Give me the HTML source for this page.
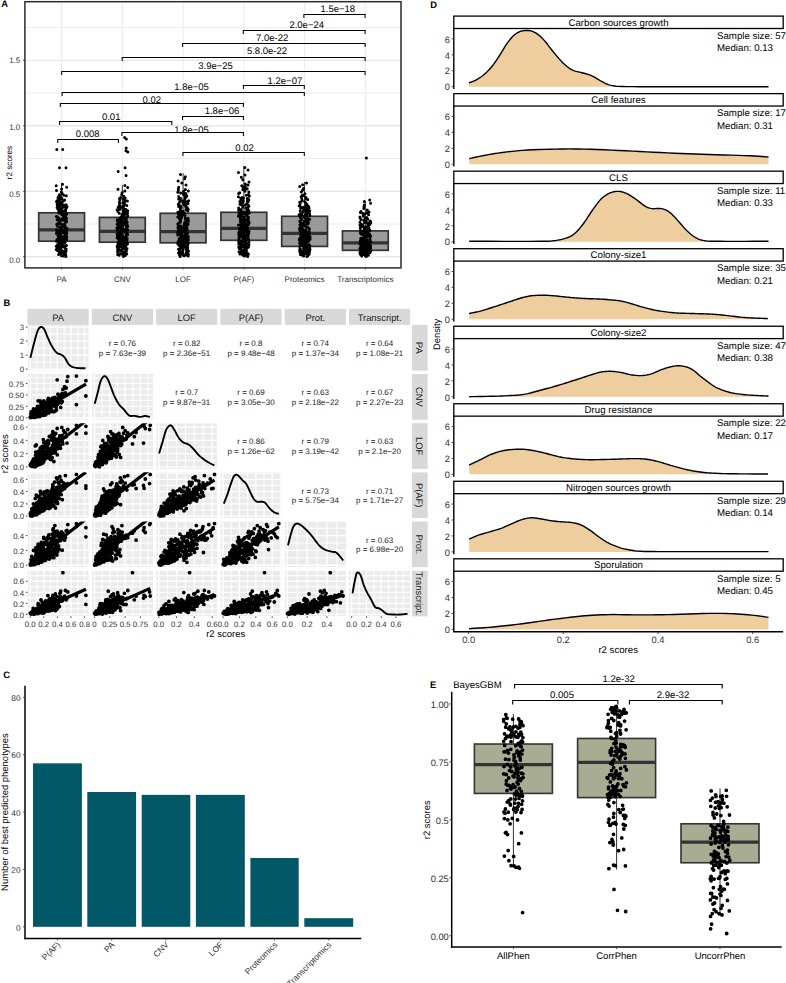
<!DOCTYPE html><html><head><meta charset="utf-8"><style>html,body{margin:0;padding:0;background:#fff;width:786px;height:983px;overflow:hidden;font-family:"Liberation Sans",sans-serif}svg{display:block}</style></head><body><svg width="786" height="983" viewBox="0 0 786 983" text-rendering="geometricPrecision" font-family='"Liberation Sans", sans-serif'><rect x="0" y="0" width="786" height="983" fill="#fff"/>
<g>
<line x1="24.9" y1="256.7" x2="401" y2="256.7" stroke="#e8e8e8" stroke-width="1.4"/>
<line x1="24.9" y1="223.97" x2="401" y2="223.97" stroke="#e8e8e8" stroke-width="0.8"/>
<line x1="24.9" y1="191.25" x2="401" y2="191.25" stroke="#e8e8e8" stroke-width="1.4"/>
<line x1="24.9" y1="158.52" x2="401" y2="158.52" stroke="#e8e8e8" stroke-width="0.8"/>
<line x1="24.9" y1="125.8" x2="401" y2="125.8" stroke="#e8e8e8" stroke-width="1.4"/>
<line x1="24.9" y1="93.07" x2="401" y2="93.07" stroke="#e8e8e8" stroke-width="0.8"/>
<line x1="24.9" y1="60.35" x2="401" y2="60.35" stroke="#e8e8e8" stroke-width="1.4"/>
<line x1="24.9" y1="27.62" x2="401" y2="27.62" stroke="#e8e8e8" stroke-width="0.8"/>
<line x1="61.6" y1="1.7" x2="61.6" y2="267.9" stroke="#ebebeb" stroke-width="1"/>
<line x1="122.35" y1="1.7" x2="122.35" y2="267.9" stroke="#ebebeb" stroke-width="1"/>
<line x1="183.1" y1="1.7" x2="183.1" y2="267.9" stroke="#ebebeb" stroke-width="1"/>
<line x1="243.85" y1="1.7" x2="243.85" y2="267.9" stroke="#ebebeb" stroke-width="1"/>
<line x1="304.6" y1="1.7" x2="304.6" y2="267.9" stroke="#ebebeb" stroke-width="1"/>
<line x1="365.35" y1="1.7" x2="365.35" y2="267.9" stroke="#ebebeb" stroke-width="1"/>
<line x1="61.6" y1="183" x2="61.6" y2="212.8" stroke="#333" stroke-width="1"/>
<line x1="61.6" y1="241.2" x2="61.6" y2="257" stroke="#333" stroke-width="1"/>
<rect x="38.7" y="212.8" width="45.8" height="28.4" fill="#9a9a9a" stroke="#333333" stroke-width="1.7"/>
<line x1="38.7" y1="229.8" x2="84.5" y2="229.8" stroke="#333" stroke-width="3.3"/>
<line x1="122.35" y1="185" x2="122.35" y2="217.4" stroke="#333" stroke-width="1"/>
<line x1="122.35" y1="242.2" x2="122.35" y2="257" stroke="#333" stroke-width="1"/>
<rect x="99.45" y="217.4" width="45.8" height="24.8" fill="#9a9a9a" stroke="#333333" stroke-width="1.7"/>
<line x1="99.45" y1="231.3" x2="145.25" y2="231.3" stroke="#333" stroke-width="3.3"/>
<line x1="183.1" y1="173.1" x2="183.1" y2="213.3" stroke="#333" stroke-width="1"/>
<line x1="183.1" y1="242.8" x2="183.1" y2="257" stroke="#333" stroke-width="1"/>
<rect x="160.2" y="213.3" width="45.8" height="29.5" fill="#9a9a9a" stroke="#333333" stroke-width="1.7"/>
<line x1="160.2" y1="231.6" x2="206" y2="231.6" stroke="#333" stroke-width="3.3"/>
<line x1="243.85" y1="166.2" x2="243.85" y2="212.3" stroke="#333" stroke-width="1"/>
<line x1="243.85" y1="240.3" x2="243.85" y2="257" stroke="#333" stroke-width="1"/>
<rect x="220.95" y="212.3" width="45.8" height="28" fill="#9a9a9a" stroke="#333333" stroke-width="1.7"/>
<line x1="220.95" y1="228.3" x2="266.75" y2="228.3" stroke="#333" stroke-width="3.3"/>
<line x1="304.6" y1="182" x2="304.6" y2="216.3" stroke="#333" stroke-width="1"/>
<line x1="304.6" y1="246.4" x2="304.6" y2="257" stroke="#333" stroke-width="1"/>
<rect x="281.7" y="216.3" width="45.8" height="30.1" fill="#9a9a9a" stroke="#333333" stroke-width="1.7"/>
<line x1="281.7" y1="233.4" x2="327.5" y2="233.4" stroke="#333" stroke-width="3.3"/>
<line x1="365.35" y1="201" x2="365.35" y2="230.9" stroke="#333" stroke-width="1"/>
<line x1="365.35" y1="250.3" x2="365.35" y2="257" stroke="#333" stroke-width="1"/>
<rect x="342.45" y="230.9" width="45.8" height="19.4" fill="#9a9a9a" stroke="#333333" stroke-width="1.7"/>
<line x1="342.45" y1="242.8" x2="388.25" y2="242.8" stroke="#333" stroke-width="3.3"/>
<path d="M61.6 230h0M61.5 208.8h0M61.1 231.8h0M60.6 239.8h0M57.9 235.4h0M59.3 234.6h0M59 222.2h0M58.8 212.9h0M64.7 239.2h0M57.4 250.6h0M58.4 241.4h0M61.9 218.8h0M59.5 207.9h0M58.7 242.1h0M60.2 234.8h0M61.6 214.6h0M63.5 240.2h0M66.8 233.2h0M65.5 254h0M60.8 248.3h0M61.1 253.3h0M60.7 220.5h0M58.7 244.4h0M66.6 213.4h0M56.9 231.4h0M58.4 223.1h0M63.4 256.1h0M62.6 226.8h0M59.2 235.8h0M66.4 221.9h0M60.6 251.6h0M62.7 245.1h0M57.1 230.8h0M65.9 229.3h0M57.2 204.9h0M60.4 234.4h0M65.8 219.1h0M66.5 230.4h0M66 234.2h0M65.2 227.9h0M58.7 218h0M56.5 233.4h0M61.1 248.6h0M56.8 224.2h0M66.7 187.3h0M56.2 249.6h0M59.7 205.5h0M58.3 206.6h0M56.3 241.2h0M61.6 188.9h0M56.9 224.8h0M66 235h0M63.7 211.2h0M60.2 204.4h0M65.4 221.4h0M64.9 207.1h0M59.7 223.7h0M65.4 209.8h0M66.3 195.8h0M62.9 237h0M60 205.7h0M66 230.2h0M66.5 221.1h0M59.9 250.1h0M57 239.6h0M65.6 210.9h0M63.4 200.9h0M58.7 198.9h0M62.3 250.8h0M59.5 247.6h0M66.2 208.5h0M59.9 252.1h0M58.3 236.8h0M56.6 229.8h0M59.9 199.4h0M67 206.8h0M58.5 243.9h0M61.1 233.8h0M66.8 236.6h0M56.2 185.8h0M59.3 238.4h0M65.1 226.5h0M57.2 203.6h0M66.3 231h0M65.3 233.6h0M57.7 244.6h0M62.6 225.1h0M62.2 240.4h0M63.7 195.3h0M59.5 194.8h0M60.3 227.6h0M58.7 209.6h0M59.3 239h0M58 197.8h0M66 235.2h0M65.9 220h0M60.1 238.2h0M63.7 225.9h0M61.5 247.1h0M59.2 249.1h0M59.9 229.6h0M66.7 237.4h0M59.9 203.8h0M62.5 184.2h0M66.5 245.4h0M59.4 246.6h0M65 216h0M57.4 200.4h0M64.2 215.4h0M65 236.4h0M65.3 213.7h0M66.8 214h0M63.9 241.6h0M66.8 228.8h0M59.2 219.4h0M61.8 242.4h0M58.5 218.5h0M57 240.8h0M60.9 202.5h0M64 217.7h0M64.7 214.3h0M56.3 216.6h0M66.5 218.3h0M58.8 254.3h0M59.3 253.8h0M65.3 210.1h0M65.9 256.5h0M64.2 214.8h0M59.8 248.8h0M61.2 203h0M65.3 241.9h0M60 222.5h0M65 225.4h0M64.7 253.5h0M61.3 192.1h0M66 167.7h0M60.3 223.4h0M64.3 236h0M63.1 237.2h0M59.7 243.4h0M61.9 203.3h0M62.8 244.9h0M62 224.5h0M57.3 247.8h0M67 228.5h0M66.7 239.4h0M56.5 190.5h0M66.5 232.4h0M61.9 198.4h0M57.5 226.2h0M65.1 240h0M60.9 234h0M63.9 246.1h0M65.2 236.2h0M62 225.6h0M56.6 233h0M65.1 248.1h0M63.7 232.8h0M66.1 204.7h0M59.1 243.6h0M64.7 242.9h0M65.7 210.4h0M60 197.3h0M60.6 244.1h0M59.8 227.3h0M56.2 246.3h0M58.6 254.5h0M59.7 202h0M57.3 216.8h0M64.5 238h0M60.8 229h0M62.4 207.7h0M59.2 222.8h0M60.1 231.6h0M64.4 247.3h0M61.3 252.6h0M62.7 149.4h0M60.7 235.6h0M62.2 204.1h0M66 232h0M59 232.6h0M61.8 246.8h0M63.7 212h0M57.1 219.7h0M66.7 237.6h0M61.6 211.8h0M58.8 196.3h0M64.5 215.1h0M65.1 217.1h0M63 238.6h0M66.2 249.3h0M57.1 207.4h0M61.9 209h0M64.3 231.2h0M66.2 220.8h0M63.2 215.7h0M62.7 206h0M60.4 196.8h0M62.4 245.8h0M62.2 193.6h0M66.1 251.3h0M65.2 212.3h0M64.2 205.2h0M66.3 208.2h0M56.8 149.4h0M64.6 199.9h0M61.2 243.1h0M64.4 252.8h0M59.4 210.7h0M61.2 238.8h0M65.2 227.1h0M56.5 201.4h0M59.3 252.3h0M61.5 255.7h0M65.5 216.3h0M59.1 221.7h0M65.2 217.4h0M58.8 232.2h0M59.4 241h0M62.2 254.8h0M63.3 220.2h0M65.8 249.8h0M65.8 255.2h0M58.9 211.5h0M64.3 212.6h0M63.1 230.6h0M60.3 250.3h0M64.6 242.6h0M66 251.1h0M61.4 237.8h0M66.2 228.2h0M57.5 245.6h0M57.9 209.3h0M64.5 223.9h0M59.5 167.7h0M62.5 253.1h0M61.6 213.1h0M57.7 240.6h0M64.4 206.3h0M64.3 251.8h0" stroke="#000" stroke-width="3" stroke-linecap="round" fill="none"/>
<path d="M118.4 223.3h0M119.7 218.5h0M125.7 232.3h0M126.9 242.3h0M126.4 218h0M122.4 249.1h0M120.9 238.9h0M121.7 206.7h0M118.8 245.1h0M122.3 234.2h0M119.4 208.3h0M118.6 228.3h0M121 236.8h0M117.6 245.3h0M122 214.5h0M124.5 237.2h0M124 245.6h0M127.6 243.5h0M126.6 249.8h0M123.8 252.4h0M126.7 254.1h0M121.7 242.5h0M125.6 251.9h0M120 207.7h0M122.6 215.4h0M127.6 234.8h0M123.4 256.5h0M122.4 248.2h0M125.5 232.5h0M120.3 223.5h0M126 251.2h0M117.1 237.8h0M119.5 249.6h0M118.8 241.9h0M119.7 203.3h0M127.3 233.3h0M117.1 209.8h0M120.1 208.6h0M123.2 243.2h0M124.6 230.5h0M125.4 230.9h0M121.1 233.1h0M119.3 247h0M126.2 235h0M118.2 171.6h0M117.6 251.7h0M119.4 205.1h0M122.3 225.9h0M127.2 244.2h0M124.9 185.6h0M123.1 212.6h0M122.6 248.9h0M124.5 221.9h0M123.7 214.2h0M120.5 241.3h0M117.9 211.4h0M119.1 240h0M125.5 217.8h0M123.8 196.3h0M125.6 251h0M117.3 219.7h0M126.8 235.3h0M121.1 225.4h0M127 248.4h0M123.4 241h0M122.9 239.5h0M125.8 209.2h0M123.7 206.2h0M124.3 247.2h0M118.6 247.7h0M123.5 210.4h0M120.8 253.8h0M117.7 238h0M118.3 233.8h0M122.1 192.7h0M119.7 226.9h0M125.3 230.2h0M118.2 233.5h0M117 230h0M127.8 152h0M120.3 240.8h0M122.5 235.9h0M119.2 213.2h0M119.1 225.2h0M121.3 229.3h0M125.5 252.6h0M117.3 220.7h0M126.1 225.7h0M127.7 187.4h0M123 210.1h0M120.8 240.6h0M119.4 202.1h0M118.9 235.5h0M120.4 227.1h0M126.2 222.8h0M116.9 228.1h0M125.5 253.1h0M124.2 224.2h0M117.1 246.3h0M117.6 254.5h0M124.9 232.1h0M124.3 231.2h0M120.3 208h0M126.3 138.9h0M119.2 243.9h0M121.5 246.5h0M118.1 228.8h0M124 212.3h0M117.8 226.4h0M118.8 231.4h0M125.3 200.4h0M122.4 221.4h0M124.1 244.9h0M124.9 220.2h0M123.5 218.7h0M119 238.7h0M124.5 217.3h0M118.1 244.6h0M119.8 199.8h0M121.8 232.7h0M118.1 239.1h0M118 234.6h0M124 230.7h0M125 253.6h0M120.9 253.4h0M121.1 221.1h0M119.1 255.2h0M122.6 216.7h0M123.2 256.1h0M127.1 213.6h0M117.3 236.5h0M126.8 205.6h0M127.7 229.8h0M120.7 250.5h0M124.8 191h0M125.9 219.2h0M124 229.5h0M120 227.6h0M123.7 223.1h0M126.5 232.9h0M118 189.2h0M122.1 235.7h0M117.1 224h0M126.1 236.3h0M125.4 242.1h0M117.4 247.5h0M125.1 167.7h0M124.5 212h0M118.2 207h0M122.6 226.2h0M124.4 239.3h0M120.5 219.5h0M122.4 238.3h0M127.6 212.9h0M123.8 241.7h0M122.4 235.1h0M117.6 250.1h0M118.2 236.6h0M126.2 148.1h0M125 247.9h0M126 249.4h0M123.2 216.3h0M123.2 199.2h0M122.7 254.3h0M124.9 219.9h0M120.5 236.1h0M122.3 250.8h0M122 214.8h0M124.1 217.5h0M119.2 227.4h0M117.1 234h0M117.8 225h0M118.8 243h0M126.3 228.6h0M124.7 248.6h0M125.1 243.7h0M121.7 194.5h0M118 242.8h0M122 218.3h0M126.3 232h0M122.5 227.8h0M123.8 241.5h0M121 217h0M118.5 220.9h0M123.7 208.9h0M122.2 207.3h0M120.7 197.5h0M119.7 209.5h0M124.5 203.9h0M120.3 239.6h0M123.2 252.9h0M119.7 204.5h0M125.1 198h0M121 237h0M122.1 231.6h0M127.1 222.1h0M124.8 201.5h0M124.9 213.9h0M120.6 237.6h0M126.1 175.5h0M121.1 244.4h0M127.7 210.8h0M126.7 211.7h0M124.1 216h0M126 150.7h0M122.8 202.7h0M124.9 240.2h0M118.2 252.2h0M127.7 215.7h0M125.7 246.8h0M118.4 229h0M119.5 198.6h0M123.2 254.8h0M125.2 255.6h0M118.5 223.8h0M127.4 201h0M120.7 222.6h0M127.8 226.6h0M125.1 238.1h0M122.2 239.8h0M120.8 233.6h0M117.9 246.1h0M117.8 245.8h0M123.8 211.1h0M125.4 220.4h0M126.8 221.6h0M120.9 231.8h0M127.2 224.5h0M120.1 241.1h0M127.2 238.5h0M127 240.4h0M118.6 237.4h0M126.3 219h0M124.6 215.1h0M124.6 137.6h0M126.1 250.3h0M122.8 222.3h0M122.4 224.7h0M120.9 234.4h0M126.4 251.5h0" stroke="#000" stroke-width="3" stroke-linecap="round" fill="none"/>
<path d="M187.5 233h0M179.4 222.9h0M186.1 248.5h0M180.6 235.2h0M179.6 234.3h0M179.8 238h0M183.9 204.7h0M180.7 193h0M180.3 248.8h0M178.7 245.1h0M181.2 228.1h0M186.1 223.2h0M177.8 223.8h0M182.9 252.9h0M184.2 224.4h0M178.1 225.6h0M180.8 247.9h0M187.6 237.5h0M188.5 254.6h0M187 249.6h0M179.5 254.9h0M186 237.3h0M182.6 254.4h0M179.5 218.9h0M182.9 202.9h0M187.8 210.9h0M187.2 254.2h0M181.9 232.6h0M178.3 233.9h0M187.5 208.3h0M188.4 251.1h0M183.2 237.7h0M180.1 246.4h0M183.6 242.5h0M185.3 205.4h0M182.9 242.9h0M181.5 237.1h0M180.3 208.7h0M180.9 216.8h0M178.1 230.8h0M180.4 226.8h0M188.1 218.3h0M177.7 243.6h0M185.6 235.6h0M186.3 197.1h0M182.1 247.2h0M184.1 202.5h0M180 221.6h0M184.9 226.2h0M185.4 189.5h0M185.7 206.9h0M183 250.3h0M188.3 209.4h0M187.1 232.8h0M183.9 236.5h0M185.1 215.5h0M180.6 220.4h0M188 203.6h0M184.7 178.8h0M187.4 249.8h0M180.8 213.1h0M188.4 239.7h0M178.8 231.4h0M183.4 244h0M178.8 244.4h0M179.7 246h0M186 208h0M178.3 214h0M181.8 251.8h0M179.7 240.5h0M187 207.2h0M178.5 249.2h0M181.3 238.6h0M187 242h0M185.2 203.2h0M185.3 218h0M188.5 243.1h0M177.9 232.4h0M184.9 238.2h0M185.8 209.8h0M185.8 230.5h0M185.5 234.5h0M178.4 214.3h0M178.5 229.6h0M186.1 225.3h0M184.3 246.2h0M180.5 213.7h0M177.7 233.2h0M183.5 194.3h0M178.6 206.5h0M185.8 240.7h0M181.3 211.6h0M186.5 236.4h0M178.7 199.1h0M183 239.5h0M178.7 196.4h0M186.2 248.3h0M183.8 231.8h0M180.2 256.5h0M188.2 256.1h0M185.1 234.1h0M181.3 247.7h0M187 220.7h0M181.8 183h0M188 239.9h0M180.9 243.8h0M188.4 221h0M178.3 204.3h0M185.7 204h0M180.8 240.3h0M182.3 214.6h0M184.6 222.6h0M178.1 241.6h0M180.1 239.2h0M178.7 232h0M185.7 245.7h0M180 231.7h0M183.1 249h0M181.2 207.6h0M180.2 241.8h0M187.9 238.4h0M183.2 242.2h0M184.8 229h0M185.3 255.3h0M186.6 253.5h0M180.5 221.9h0M178.5 253.1h0M182.7 201.1h0M179.5 252.6h0M177.8 217.1h0M187.7 239.4h0M184.5 212.7h0M182.2 235h0M179.1 253.3h0M186 185.1h0M183.5 191.6h0M179.5 216.4h0M188.4 236.7h0M188.1 219.2h0M187.8 248.1h0M186.7 201.8h0M183.4 213.4h0M180.9 218.6h0M184.8 245.3h0M179.3 240.9h0M184.4 246.8h0M178.3 188.9h0M177.7 234.9h0M185.5 219.8h0M181.4 229.9h0M185.3 241.4h0M186.2 233.3h0M186.8 227.4h0M184.4 223.5h0M186.9 228.4h0M184.8 242.4h0M187.8 245.5h0M187.5 224.7h0M178.1 180.9h0M180.5 239h0M181.9 244.9h0M180.4 200.3h0M179.5 202.2h0M187.2 250.7h0M177.9 227.7h0M179.6 233.7h0M186 253.9h0M180.1 205.8h0M180.4 231.1h0M188.2 224.1h0M186 242.7h0M182.5 228.7h0M179.1 238.8h0M180.6 219.5h0M188.4 250.9h0M186.3 249.4h0M178.4 190.2h0M185.4 244.2h0M181.7 217.4h0M185.5 236.9h0M180.8 225.9h0M179 215.2h0M177.8 192.3h0M180.9 235.4h0M187.1 222.3h0M187.4 225h0M185.1 197.8h0M185.8 193.6h0M179.7 232.2h0M181.5 230.2h0M187.5 250.1h0M188.4 190.9h0M182.5 201.4h0M186.1 236h0M187.9 210.2h0M188.6 200.7h0M180.9 206.2h0M184.8 199.8h0M181.9 241.2h0M182.7 211.2h0M182.7 243.4h0M180.7 198.4h0M177.8 212.3h0M186 205.1h0M185.3 176.7h0M186.8 195.7h0M179.3 250.5h0M180.2 252.4h0M184.2 195h0M187.9 252h0M182.8 214.9h0M179.8 212h0M184.1 255.7h0M188.1 251.3h0M187.1 220.1h0M187.5 237.9h0M182.1 235.8h0M180.5 216.1h0M187.2 234.7h0M186.3 252.2h0M187 227.1h0M181.9 241h0M180.7 253.7h0M180.2 210.5h0M187.2 229.3h0M187.7 221.3h0M181.6 247.5h0M187.2 240.1h0M181.8 244.7h0M182.5 246.6h0M183.8 226.5h0M180 233.5h0M180.5 215.8h0M180.5 209.1h0M180.5 174.6h0M183.3 247h0M178.7 187.2h0M186.2 236.2h0M179.5 217.7h0M182.5 251.6h0" stroke="#000" stroke-width="3" stroke-linecap="round" fill="none"/>
<path d="M245.4 205h0M239.9 201.6h0M242.9 244.9h0M244.5 247.5h0M244.4 226.8h0M248.2 235.8h0M247 216.2h0M239.7 192.8h0M247.5 229h0M244.4 230.6h0M245.8 214.3h0M240.1 204.5h0M243.5 239.4h0M246 236h0M247.1 233h0M247.2 198.6h0M240.7 249.1h0M247.5 239h0M244.6 252.7h0M245.7 252.5h0M247.7 256.5h0M242.8 240.7h0M248.5 247.3h0M248 213.8h0M247.2 209.2h0M242.5 227.6h0M244.2 254.6h0M240.3 233.8h0M246.7 225.2h0M248.2 217h0M240.1 244.1h0M246.5 235.4h0M246 244.4h0M238.8 240h0M248.4 199.1h0M243.6 246.5h0M241.3 215.7h0M238.7 207.9h0M247 231.6h0M242.1 232.8h0M244 218.6h0M240.5 219.1h0M245 248.3h0M242.7 202.8h0M247.2 188.8h0M245.7 238.4h0M246.3 195.2h0M241.1 226.6h0M239.1 238.6h0M248 170h0M248.6 205.4h0M245.4 246.2h0M248.5 223.9h0M246.1 227.1h0M245 228.8h0M243 228.2h0M242.3 221.5h0M243.7 216.7h0M240.8 198.2h0M243.1 237.4h0M243.9 217.2h0M238.7 243.9h0M242.7 235.2h0M241.5 250.9h0M245.3 249.3h0M247.3 234.8h0M245.1 188h0M245.7 208.3h0M245.1 242.6h0M241.2 248h0M242.5 205.8h0M247.6 255.7h0M248.8 233.2h0M240.3 220.4h0M238.5 172.4h0M248.9 206.2h0M247.8 228.4h0M245 237.8h0M247.3 223.4h0M244.9 191.2h0M248.3 224.7h0M241 230h0M243.2 199.5h0M245.7 241.5h0M240.7 230.2h0M246.2 237h0M241.2 226.3h0M246.2 237.6h0M247.2 201.2h0M243 221.8h0M249.2 222.8h0M245.3 184.1h0M246.7 220.2h0M238.6 210h0M239.6 231.2h0M246.2 215.4h0M248.7 239.6h0M245.3 223.6h0M248.4 254.3h0M239 251.7h0M248.2 222h0M248 243.3h0M245.3 229.8h0M243.1 187.2h0M246.1 245.7h0M241 250.4h0M245.7 212.5h0M246 219.4h0M244.3 222.6h0M241.2 209.6h0M238.4 196.8h0M240.5 222.3h0M247.5 236.2h0M240.7 215.1h0M239.2 228.6h0M241.1 249.6h0M244.1 219.6h0M244.8 250.1h0M248 184.9h0M247.8 238.8h0M249 231.4h0M248.1 236.6h0M243.3 227.4h0M239.9 254h0M248.9 242h0M240.9 218.3h0M245.2 251.4h0M241.3 224.4h0M247.3 253h0M240.6 214.6h0M243 238h0M240.8 203.3h0M247.8 227.9h0M245.2 253.2h0M245.3 186.5h0M241.8 185.7h0M240.3 230.8h0M247.8 208.7h0M246.8 203.7h0M246.4 250.6h0M249.3 196h0M244.5 212.1h0M240.3 218h0M245.1 236.4h0M241.5 236.8h0M244 249.9h0M243.4 197.8h0M244.5 231.8h0M248.5 194.4h0M247.3 226h0M242.9 240.2h0M247.3 239.2h0M247.8 234.2h0M246.9 231h0M244.4 232.6h0M248.2 221h0M243.8 246.7h0M239.5 234.4h0M241.3 177.3h0M245.6 235.6h0M242.5 245.2h0M243 219.9h0M242.8 179.7h0M240.5 253.8h0M239.4 216.5h0M238.9 235h0M245.7 255.3h0M241.9 211.7h0M243.4 229.6h0M248.6 221.2h0M245.2 243.1h0M247.3 202.4h0M246.7 239.8h0M248.8 245.4h0M239.1 248.6h0M242.6 254.9h0M248.8 192h0M243.5 224.2h0M248.8 210.4h0M240.4 234.6h0M239 237.2h0M248.2 218.8h0M242.9 206.6h0M243.9 229.2h0M248.6 217.5h0M240.8 200.3h0M249 182.1h0M242.7 207.1h0M241.1 211.3h0M240.9 229.4h0M244.1 251.2h0M243.5 213.5h0M248.1 202h0M238.9 234h0M238.8 213h0M240 204.1h0M245 174.9h0M246.9 210.9h0M243.6 233.4h0M245.1 190.4h0M245.4 243.6h0M238.6 193.6h0M241.1 217.8h0M249.3 212.7h0M242 197.4h0M248.8 199.9h0M243.8 241.3h0M240.8 251.9h0M238.4 215.9h0M240.7 245.9h0M241.9 223.1h0M243.2 200.7h0M243.3 253.5h0M244.4 256.1h0M243.6 233.6h0M238.7 232.4h0M241.3 214.9h0M248.9 240.5h0M238.7 241.8h0M246.4 248.8h0M243.6 230.4h0M246.1 247.8h0M242 252.2h0M242.4 213.3h0M244 225.5h0M248.4 232h0M242 242.8h0M239.3 242.3h0M238.8 247h0M248 238.2h0M241.8 214.1h0M239.7 232.2h0M244.9 220.7h0M247.6 207.5h0M244.9 167.6h0M240 241h0M242.8 189.6h0M241.3 225.8h0M238.5 225h0M249 244.6h0" stroke="#000" stroke-width="3" stroke-linecap="round" fill="none"/>
<path d="M304.2 242.8h0M300.6 220.4h0M308.8 240.9h0M309.9 248.9h0M308.1 249.3h0M301.9 251h0M301.2 229.5h0M304.9 193.8h0M305.5 233.3h0M308.8 244.5h0M309.7 219.3h0M309.1 231.3h0M302.9 224.4h0M305.5 248.6h0M300.5 225.5h0M304.8 201.7h0M299.9 250.8h0M300.3 249h0M300.4 254.6h0M302.4 253.3h0M302.5 255.3h0M306.9 221.5h0M299.9 249.2h0M300.3 237.8h0M306.3 219h0M306.5 220.7h0M306.9 256.5h0M307 247.3h0M306.4 234.8h0M305.2 225h0M307.3 249.9h0M300 229.8h0M301.4 239.3h0M307.3 236.5h0M301.2 196.4h0M304.9 241.7h0M302 245h0M303.8 209.5h0M308.3 238.9h0M306.4 235.7h0M304 216.7h0M302.1 233.5h0M308 252.1h0M306.3 212.7h0M303.9 195.8h0M308.7 251.6h0M306.7 204.1h0M309.9 215.5h0M306.4 240.6h0M309 208h0M305.2 218.1h0M306.9 251.1h0M308.4 237h0M300.1 213.9h0M304.3 221.8h0M305.8 217.8h0M299.7 242.4h0M307.8 199.4h0M307 204.7h0M309.4 249.5h0M303.2 223.3h0M304.3 235.9h0M309.1 234.6h0M303.6 247.5h0M308.3 246h0M303.7 243.4h0M302.8 207.6h0M302.1 200.6h0M301.4 251.9h0M303.8 244.3h0M300.9 215.2h0M308.2 246.3h0M309.8 245.4h0M300.2 217h0M299.7 205.4h0M299.1 214.8h0M309.4 231.8h0M299.9 231h0M306.6 223.5h0M302.4 195.2h0M301.3 244.7h0M301.8 242.1h0M306.7 215.8h0M299.3 228.4h0M308.6 219.5h0M305.3 248h0M301.7 218.7h0M301.4 226.4h0M306.3 205.1h0M306 230.1h0M302.6 241.9h0M302.8 229h0M304.2 221h0M309.1 213h0M305 216.4h0M308.3 208.9h0M306.1 242.6h0M305.3 210.1h0M304.5 252.8h0M306.6 254.3h0M304.5 235.5h0M307.1 247.2h0M301.1 232.7h0M302.6 184.8h0M308.7 234.4h0M303.4 250.7h0M308.4 222.4h0M309.4 228.7h0M305.5 233.7h0M300.2 227.8h0M307.4 213.3h0M306.4 208.6h0M302.3 252.7h0M308.6 220.1h0M304.4 235.2h0M299.7 246.4h0M299.8 221.3h0M301.6 253.4h0M305.8 214.2h0M308.1 223.8h0M300.2 211.1h0M299.3 239.8h0M305.9 231.5h0M303.6 256.1h0M304 241.3h0M308.1 206.1h0M309.2 254.2h0M309.7 210.8h0M307.7 255.7h0M299.1 205.8h0M300.8 223h0M305.6 206.7h0M309.6 213.6h0M300 250.4h0M304.8 209.2h0M303.5 188.4h0M303.6 243.7h0M302.1 237.2h0M302.1 232.4h0M301.7 243.9h0M300.2 203.5h0M305.2 238h0M304 237.6h0M306.9 250.5h0M306.1 244.1h0M309.6 251.7h0M302.8 212.3h0M308.8 245.2h0M303.3 210.5h0M306.4 245.6h0M308 250.1h0M303.5 248.3h0M304 240h0M306 227h0M300.3 217.5h0M304.9 248.1h0M300.1 252.4h0M301.6 238.3h0M306 198.8h0M309.8 246.7h0M310.1 236.7h0M302 226.7h0M300.7 208.3h0M304.8 253.7h0M304 233h0M303.3 241.1h0M307.6 254.9h0M306.9 222.7h0M305.3 226.1h0M305.9 222.1h0M305.5 248.4h0M306.5 211.7h0M309.3 236.1h0M309.5 247.8h0M309.9 249.8h0M308.6 248.7h0M300.3 206.4h0M304.1 251.3h0M307.7 227.3h0M302.3 224.1h0M305.8 225.3h0M299.7 251.4h0M301.3 192h0M303.5 245.8h0M299.9 224.7h0M303.8 216.1h0M301.6 198.2h0M308.6 211.4h0M302.6 233.9h0M303.3 236.3h0M307.9 252.5h0M305.3 234.2h0M299.7 186.6h0M301.5 227.5h0M305.8 202.9h0M301.3 219.8h0M301.8 201.1h0M306 197.6h0M304.5 225.8h0M302.1 200h0M305.3 253.1h0M306.1 209.8h0M299.5 238.7h0M302.1 228.1h0M302.5 190.2h0M308.8 207h0M299.7 249.6h0M302.9 253h0M301.2 197h0M306.7 239.6h0M308 232.1h0M299.7 202.3h0M308.6 253.6h0M306.8 254.5h0M301.5 214.5h0M309.2 240.2h0M302.3 237.4h0M307.8 241.5h0M299.9 246.6h0M304.1 246.9h0M304.7 240.4h0M309 247.6h0M308.3 253.9h0M305.1 230.7h0M299.7 243.2h0M303.8 207.3h0M303.2 230.4h0M310.1 239.1h0M306.6 250.2h0M303.6 243h0M303.1 229.3h0M307.5 238.5h0M300.2 217.3h0M308.1 218.4h0M306.5 183h0M303.9 252.2h0M306.9 212h0M303.5 247h0M300.7 235h0M303.7 254h0" stroke="#000" stroke-width="3" stroke-linecap="round" fill="none"/>
<path d="M360.4 240.4h0M360.8 241.6h0M364.7 243.4h0M368.9 248.7h0M362.1 251.8h0M365.4 252.9h0M370.6 245.7h0M369 211.9h0M369.8 235.6h0M367.3 244.3h0M366.3 233.9h0M366.3 221.8h0M366.5 247.6h0M365 244.9h0M363.8 245.2h0M362.5 247.1h0M360.6 243.3h0M363.9 236.2h0M368.3 255.3h0M365.9 252.4h0M361.7 254.3h0M368.8 242.9h0M360.3 254.2h0M370.1 239.8h0M367 233.5h0M366 241h0M364.4 254.4h0M368.9 247.3h0M359.9 222.3h0M360 243.1h0M365.6 253.2h0M363.1 252.7h0M364.3 253.4h0M365.8 244.1h0M360.3 228.5h0M370.7 247.9h0M367.3 240.2h0M360.9 231.9h0M368 249.1h0M365.7 245.4h0M367.4 241.2h0M368 232.9h0M370.8 251h0M361.2 242.6h0M370.8 222.1h0M365.1 253.3h0M362.1 226.2h0M364 229.7h0M363.9 231.5h0M369.7 199.9h0M365.6 227h0M360.6 252.7h0M367.7 244.8h0M365.3 237h0M368.8 248.3h0M360.4 230.8h0M369.4 244.2h0M369.7 221.5h0M359.9 216.9h0M365.1 249.8h0M361.2 245.3h0M365.7 235.4h0M360.8 233.7h0M369.6 246.6h0M361.9 243.8h0M367.2 232.1h0M367 226.4h0M363.4 215.2h0M362.2 242.8h0M369.9 252.8h0M360.3 218.5h0M362.6 252.6h0M363.4 244.7h0M366.3 235.8h0M363.9 206.7h0M361.1 232.5h0M366.1 242.2h0M367.8 249.4h0M367.6 247.7h0M365.2 218h0M363.2 247.2h0M360 243.9h0M365.7 230h0M366.8 249.2h0M364.7 228.2h0M370.4 248.2h0M362.1 234.5h0M368.8 248.1h0M367.8 219.1h0M369.7 224.4h0M370 237.4h0M362.5 240.6h0M370 239.6h0M364.3 201.6h0M367.3 250.1h0M370.3 220.9h0M366.4 252.2h0M366.3 234.9h0M360.6 251.8h0M366.4 256.5h0M362.5 243.7h0M364.1 244.4h0M364 238.4h0M370.6 203.3h0M366.9 249.9h0M367.8 250.3h0M361.8 224.7h0M363.2 238h0M369.5 236.6h0M361.2 249.6h0M370.3 221.2h0M364.6 231.7h0M364.1 254.6h0M365.5 240.8h0M364.7 246.7h0M365 252.5h0M364.5 222.6h0M367.6 253h0M362.9 231.1h0M361.7 225.9h0M364.6 237.6h0M360.8 238.2h0M364.8 238.8h0M365.3 255.7h0M368.5 252.3h0M361 224.1h0M364.2 253.7h0M368.4 225.6h0M363.6 253.8h0M369 227.9h0M367.8 251.9h0M360.3 212.5h0M364.1 237.8h0M368.3 254.5h0M365.6 220.6h0M367.3 210.1h0M370.7 236h0M367.3 245.6h0M365.9 246.8h0M369.2 251.2h0M364.6 233.3h0M360 252h0M362.8 234.7h0M366.4 251.4h0M370.3 246.9h0M366.5 249.3h0M363 213.6h0M370.8 241.8h0M364.3 205h0M362.4 234.3h0M365.9 250.5h0M363.6 239.4h0M361.1 246.3h0M367.7 246.1h0M367.5 245.8h0M370.5 246.2h0M361.4 254.7h0M369.9 250.9h0M368.6 214.7h0M362.6 250.5h0M365.1 253.9h0M366.8 237.2h0M363.3 216.3h0M361 253.1h0M369.1 248.8h0M361.7 245.9h0M365.2 254.9h0M364.7 228.8h0M369.8 230.3h0M366 243.6h0M364.5 251.3h0M370.6 223.2h0M363.7 248.9h0M367.8 244.6h0M362.4 251.4h0M368.2 249.7h0M368.1 233.1h0M369 250.6h0M365.2 242h0M362.3 247.4h0M366.8 250.2h0M369.9 250.7h0M363.3 226.7h0M360.1 248.6h0M361.9 241.4h0M370.1 236.8h0M359.9 225.3h0M360.4 227.6h0M360.9 219.6h0M369.7 246.4h0M364.1 253.5h0M367.5 223.5h0M367.6 229.4h0M364.6 240h0M367.9 223.8h0M364.9 232.3h0M365.8 227.3h0M363.2 215.8h0M359.9 248.4h0M366.4 157.9h0M362.8 253.6h0M362.9 231.3h0M369.5 235h0M363.8 208.4h0M361 211.4h0M366.8 217.4h0M365.8 253.1h0M360.5 253.9h0M363.7 220.2h0M366.6 251h0M362.9 225h0M370.7 222.9h0M368.6 251.5h0M365.4 254.4h0M369.9 230.5h0M360.2 247.8h0M362.3 245.1h0M369.9 239h0M365.4 251.1h0M361.7 256.1h0M366.1 236.4h0M367.9 252.2h0M366.5 254h0M360.4 232.7h0M360.3 242.4h0M364.3 229.1h0M360 253.5h0M360.8 251.7h0M366.9 250.8h0M364.7 250.4h0M360.8 238.6h0M369.5 251.6h0M363.9 239.2h0M369.6 234.1h0M366.6 213h0M366.7 254.1h0M364.5 214.1h0M367.2 235.2h0M362.5 243.2h0M362.7 252.1h0" stroke="#000" stroke-width="3" stroke-linecap="round" fill="none"/>
<rect x="24.9" y="1.7" width="376.1" height="266.2" fill="none" stroke="#2b2b2b" stroke-width="1.5"/>
<line x1="23.1" y1="256.7" x2="24.9" y2="256.7" stroke="#333" stroke-width="0.9"/>
<text x="20.2" y="260.6" font-size="7.9" text-anchor="end" fill="#333" dominant-baseline="central">0.0</text>
<line x1="23.1" y1="191.25" x2="24.9" y2="191.25" stroke="#333" stroke-width="0.9"/>
<text x="20.2" y="194.1" font-size="7.9" text-anchor="end" fill="#333" dominant-baseline="central">0.5</text>
<line x1="23.1" y1="125.8" x2="24.9" y2="125.8" stroke="#333" stroke-width="0.9"/>
<text x="20.2" y="127.2" font-size="7.9" text-anchor="end" fill="#333" dominant-baseline="central">1.0</text>
<line x1="23.1" y1="60.35" x2="24.9" y2="60.35" stroke="#333" stroke-width="0.9"/>
<text x="20.2" y="60.8" font-size="7.9" text-anchor="end" fill="#333" dominant-baseline="central">1.5</text>
<line x1="61.6" y1="267.9" x2="61.6" y2="269.5" stroke="#333" stroke-width="0.8"/>
<text x="61.6" y="279.2" font-size="8" text-anchor="middle" fill="#333" dominant-baseline="central">PA</text>
<line x1="122.35" y1="267.9" x2="122.35" y2="269.5" stroke="#333" stroke-width="0.8"/>
<text x="122.35" y="279.2" font-size="8" text-anchor="middle" fill="#333" dominant-baseline="central">CNV</text>
<line x1="183.1" y1="267.9" x2="183.1" y2="269.5" stroke="#333" stroke-width="0.8"/>
<text x="183.1" y="279.2" font-size="8" text-anchor="middle" fill="#333" dominant-baseline="central">LOF</text>
<line x1="243.85" y1="267.9" x2="243.85" y2="269.5" stroke="#333" stroke-width="0.8"/>
<text x="243.85" y="279.2" font-size="8" text-anchor="middle" fill="#333" dominant-baseline="central">P(AF)</text>
<line x1="304.6" y1="267.9" x2="304.6" y2="269.5" stroke="#333" stroke-width="0.8"/>
<text x="304.6" y="279.2" font-size="8" text-anchor="middle" fill="#333" dominant-baseline="central">Proteomics</text>
<line x1="365.35" y1="267.9" x2="365.35" y2="269.5" stroke="#333" stroke-width="0.8"/>
<text x="365.35" y="279.2" font-size="8" text-anchor="middle" fill="#333" dominant-baseline="central">Transcriptomics</text>
<text x="9.4" y="162.5" font-size="8.1" text-anchor="middle" fill="#000" transform="rotate(-90 9.4 162.5)" dominant-baseline="central">r2 scores</text>
<text x="1.3" y="3.8" font-size="9.4" text-anchor="start" fill="#000" font-weight="bold" dominant-baseline="central">A</text>
<path d="M303.9 18.1 V14.5 H365.1 V18.1" fill="none" stroke="#000" stroke-width="1.05"/>
<text x="337.8" y="9.4" font-size="9.5" text-anchor="middle" fill="#000" dominant-baseline="central">1.5e−18</text>
<path d="M243.3 34.1 V30.5 H365.1 V34.1" fill="none" stroke="#000" stroke-width="1.05"/>
<text x="306.7" y="25.4" font-size="9.5" text-anchor="middle" fill="#000" dominant-baseline="central">2.0e−24</text>
<path d="M182.6 47.1 V43.5 H365.1 V47.1" fill="none" stroke="#000" stroke-width="1.05"/>
<text x="272.2" y="38.5" font-size="9.5" text-anchor="middle" fill="#000" dominant-baseline="central">7.0e-22</text>
<path d="M122.2 61.1 V57.5 H365.1 V61.1" fill="none" stroke="#000" stroke-width="1.05"/>
<text x="267" y="51.8" font-size="9.5" text-anchor="middle" fill="#000" dominant-baseline="central">5.8.0e-22</text>
<path d="M61.7 75.1 V71.5 H365.1 V75.1" fill="none" stroke="#000" stroke-width="1.05"/>
<text x="215.6" y="66" font-size="9.5" text-anchor="middle" fill="#000" dominant-baseline="central">3.9e−25</text>
<path d="M243.4 89.1 V85.5 H304.3 V89.1" fill="none" stroke="#000" stroke-width="1.05"/>
<text x="284.9" y="81" font-size="9.5" text-anchor="middle" fill="#000" dominant-baseline="central">1.2e−07</text>
<path d="M62.1 96.1 V92.5 H304.3 V96.1" fill="none" stroke="#000" stroke-width="1.05"/>
<text x="191.6" y="87.2" font-size="9.5" text-anchor="middle" fill="#000" dominant-baseline="central">1.8e−05</text>
<path d="M60.3 107.1 V103.5 H243.4 V107.1" fill="none" stroke="#000" stroke-width="1.05"/>
<text x="151.8" y="100.7" font-size="9.5" text-anchor="middle" fill="#000" dominant-baseline="central">0.02</text>
<path d="M182.5 120.1 V116.5 H243.4 V120.1" fill="none" stroke="#000" stroke-width="1.05"/>
<text x="222" y="111.3" font-size="9.5" text-anchor="middle" fill="#000" dominant-baseline="central">1.8e−06</text>
<path d="M59.6 125.1 V121.5 H171.8 V125.1" fill="none" stroke="#000" stroke-width="1.05"/>
<text x="111.2" y="117.7" font-size="9.5" text-anchor="middle" fill="#000" dominant-baseline="central">0.01</text>
<path d="M121.9 136.1 V132.5 H243.4 V136.1" fill="none" stroke="#000" stroke-width="1.05"/>
<text x="191.6" y="130.2" font-size="9.5" text-anchor="middle" fill="#000" dominant-baseline="central">1.8e−05</text>
<path d="M57.8 143.1 V139.5 H118.4 V143.1" fill="none" stroke="#000" stroke-width="1.05"/>
<text x="87.7" y="134.8" font-size="9.5" text-anchor="middle" fill="#000" dominant-baseline="central">0.008</text>
<path d="M182.9 156.1 V152.5 H304.3 V156.1" fill="none" stroke="#000" stroke-width="1.05"/>
<text x="244.5" y="148.7" font-size="9.5" text-anchor="middle" fill="#000" dominant-baseline="central">0.02</text>
</g>
<text x="3.4" y="302.7" font-size="9.4" text-anchor="start" fill="#000" font-weight="bold" dominant-baseline="central">B</text>
<rect x="27.5" y="308.8" width="61.2" height="16.1" fill="#d9d9d9" stroke="none" stroke-width="1"/>
<text x="58.1" y="317" font-size="9.4" text-anchor="middle" fill="#1a1a1a" dominant-baseline="central">PA</text>
<rect x="91.8" y="308.8" width="61.2" height="16.1" fill="#d9d9d9" stroke="none" stroke-width="1"/>
<text x="122.4" y="317" font-size="9.4" text-anchor="middle" fill="#1a1a1a" dominant-baseline="central">CNV</text>
<rect x="156.1" y="308.8" width="61.2" height="16.1" fill="#d9d9d9" stroke="none" stroke-width="1"/>
<text x="186.7" y="317" font-size="9.4" text-anchor="middle" fill="#1a1a1a" dominant-baseline="central">LOF</text>
<rect x="220.4" y="308.8" width="61.2" height="16.1" fill="#d9d9d9" stroke="none" stroke-width="1"/>
<text x="251" y="317" font-size="9.4" text-anchor="middle" fill="#1a1a1a" dominant-baseline="central">P(AF)</text>
<rect x="284.7" y="308.8" width="61.2" height="16.1" fill="#d9d9d9" stroke="none" stroke-width="1"/>
<text x="315.3" y="317" font-size="9.4" text-anchor="middle" fill="#1a1a1a" dominant-baseline="central">Prot.</text>
<rect x="349" y="308.8" width="61.2" height="16.1" fill="#d9d9d9" stroke="none" stroke-width="1"/>
<text x="379.6" y="317" font-size="9.4" text-anchor="middle" fill="#1a1a1a" dominant-baseline="central">Transcript.</text>
<rect x="412" y="324.9" width="15.7" height="45.7" fill="#d9d9d9" stroke="none" stroke-width="1"/>
<text x="419.15" y="347.75" font-size="9.4" text-anchor="middle" fill="#1a1a1a" transform="rotate(90 419.15 347.75)" dominant-baseline="central">PA</text>
<rect x="412" y="374.05" width="15.7" height="45.7" fill="#d9d9d9" stroke="none" stroke-width="1"/>
<text x="419.15" y="396.9" font-size="9.4" text-anchor="middle" fill="#1a1a1a" transform="rotate(90 419.15 396.9)" dominant-baseline="central">CNV</text>
<rect x="412" y="423.2" width="15.7" height="45.7" fill="#d9d9d9" stroke="none" stroke-width="1"/>
<text x="419.15" y="446.05" font-size="9.4" text-anchor="middle" fill="#1a1a1a" transform="rotate(90 419.15 446.05)" dominant-baseline="central">LOF</text>
<rect x="412" y="472.35" width="15.7" height="45.7" fill="#d9d9d9" stroke="none" stroke-width="1"/>
<text x="419.15" y="495.2" font-size="9.4" text-anchor="middle" fill="#1a1a1a" transform="rotate(90 419.15 495.2)" dominant-baseline="central">P(AF)</text>
<rect x="412" y="521.5" width="15.7" height="45.7" fill="#d9d9d9" stroke="none" stroke-width="1"/>
<text x="419.15" y="544.35" font-size="9.4" text-anchor="middle" fill="#1a1a1a" transform="rotate(90 419.15 544.35)" dominant-baseline="central">Prot.</text>
<rect x="412" y="570.65" width="15.7" height="45.7" fill="#d9d9d9" stroke="none" stroke-width="1"/>
<text x="419.15" y="593.5" font-size="9.4" text-anchor="middle" fill="#1a1a1a" transform="rotate(90 419.15 593.5)" dominant-baseline="central">Transcript.</text>
<svg x="27.5" y="324.9" width="61.2" height="45.7" overflow="hidden"><g transform="translate(-27.5 -324.9)">
<rect x="27.5" y="324.9" width="61.2" height="45.7" fill="#ebebeb" stroke="none" stroke-width="1"/>
<line x1="36.97" y1="324.9" x2="36.97" y2="370.6" stroke="#fff" stroke-width="1"/>
<line x1="50.57" y1="324.9" x2="50.57" y2="370.6" stroke="#fff" stroke-width="1"/>
<line x1="64.16" y1="324.9" x2="64.16" y2="370.6" stroke="#fff" stroke-width="1"/>
<line x1="77.76" y1="324.9" x2="77.76" y2="370.6" stroke="#fff" stroke-width="1"/>
<line x1="91.36" y1="324.9" x2="91.36" y2="370.6" stroke="#fff" stroke-width="1"/>
<line x1="23.38" y1="324.9" x2="23.38" y2="370.6" stroke="#fff" stroke-width="1"/>
<line x1="30.17" y1="324.9" x2="30.17" y2="370.6" stroke="#fff" stroke-width="1.3"/>
<line x1="43.77" y1="324.9" x2="43.77" y2="370.6" stroke="#fff" stroke-width="1.3"/>
<line x1="57.37" y1="324.9" x2="57.37" y2="370.6" stroke="#fff" stroke-width="1.3"/>
<line x1="70.96" y1="324.9" x2="70.96" y2="370.6" stroke="#fff" stroke-width="1.3"/>
<line x1="84.56" y1="324.9" x2="84.56" y2="370.6" stroke="#fff" stroke-width="1.3"/>
<line x1="27.5" y1="362.1" x2="88.7" y2="362.1" stroke="#fff" stroke-width="1"/>
<line x1="27.5" y1="348.1" x2="88.7" y2="348.1" stroke="#fff" stroke-width="1"/>
<line x1="27.5" y1="334.1" x2="88.7" y2="334.1" stroke="#fff" stroke-width="1"/>
<line x1="27.5" y1="369.1" x2="88.7" y2="369.1" stroke="#fff" stroke-width="1.3"/>
<line x1="27.5" y1="355.1" x2="88.7" y2="355.1" stroke="#fff" stroke-width="1.3"/>
<line x1="27.5" y1="341.1" x2="88.7" y2="341.1" stroke="#fff" stroke-width="1.3"/>
<line x1="27.5" y1="327.1" x2="88.7" y2="327.1" stroke="#fff" stroke-width="1.3"/>
<path d="M30.4 357.9 L30.79 356.29 L31.33 354.05 L31.96 351.4 L32.65 348.57 L33.35 345.8 L34 343.3 L34.63 340.95 L35.27 338.56 L35.93 336.21 L36.57 334.01 L37.2 332.07 L37.8 330.5 L38.37 329.31 L38.91 328.43 L39.44 327.81 L39.96 327.39 L40.47 327.14 L41 327 L41.53 326.97 L42.04 327.09 L42.56 327.38 L43.09 327.83 L43.63 328.47 L44.2 329.3 L44.79 330.4 L45.4 331.78 L46.03 333.34 L46.67 334.99 L47.33 336.64 L48 338.2 L48.7 339.72 L49.42 341.29 L50.16 342.85 L50.9 344.37 L51.65 345.8 L52.4 347.1 L53.15 348.28 L53.92 349.39 L54.69 350.4 L55.45 351.31 L56.19 352.12 L56.9 352.8 L57.57 353.3 L58.22 353.62 L58.84 353.83 L59.46 354 L60.07 354.2 L60.7 354.5 L61.33 354.86 L61.97 355.22 L62.6 355.61 L63.23 356.07 L63.87 356.62 L64.5 357.3 L65.13 358.18 L65.76 359.26 L66.39 360.43 L67.03 361.6 L67.66 362.69 L68.3 363.6 L68.92 364.33 L69.5 364.97 L70.09 365.51 L70.72 365.99 L71.41 366.41 L72.2 366.8 L73.1 367.14 L74.1 367.41 L75.16 367.64 L76.26 367.82 L77.38 367.97 L78.5 368.1 L79.71 368.2 L81.04 368.26 L82.39 368.28 L83.66 368.29 L84.73 368.29 L85.5 368.3" fill="none" stroke="#000" stroke-width="1.9" stroke-linejoin="round"/>
</g></svg>
<text x="122.4" y="343.55" font-size="8" text-anchor="middle" fill="#1a1a1a" dominant-baseline="central">r = 0.76</text>
<text x="122.4" y="353.35" font-size="8" text-anchor="middle" fill="#1a1a1a" dominant-baseline="central">p = 7.63e−39</text>
<text x="186.7" y="343.55" font-size="8" text-anchor="middle" fill="#1a1a1a" dominant-baseline="central">r = 0.82</text>
<text x="186.7" y="353.35" font-size="8" text-anchor="middle" fill="#1a1a1a" dominant-baseline="central">p = 2.36e−51</text>
<text x="251" y="343.55" font-size="8" text-anchor="middle" fill="#1a1a1a" dominant-baseline="central">r = 0.8</text>
<text x="251" y="353.35" font-size="8" text-anchor="middle" fill="#1a1a1a" dominant-baseline="central">p = 9.48e−48</text>
<text x="315.3" y="343.55" font-size="8" text-anchor="middle" fill="#1a1a1a" dominant-baseline="central">r = 0.74</text>
<text x="315.3" y="353.35" font-size="8" text-anchor="middle" fill="#1a1a1a" dominant-baseline="central">p = 1.37e−34</text>
<text x="379.6" y="343.55" font-size="8" text-anchor="middle" fill="#1a1a1a" dominant-baseline="central">r = 0.64</text>
<text x="379.6" y="353.35" font-size="8" text-anchor="middle" fill="#1a1a1a" dominant-baseline="central">p = 1.08e−21</text>
<svg x="27.5" y="374.05" width="61.2" height="45.7" overflow="hidden"><g transform="translate(-27.5 -374.05)">
<rect x="27.5" y="374.05" width="61.2" height="45.7" fill="#ebebeb" stroke="none" stroke-width="1"/>
<line x1="36.97" y1="374.05" x2="36.97" y2="419.75" stroke="#fff" stroke-width="1"/>
<line x1="50.57" y1="374.05" x2="50.57" y2="419.75" stroke="#fff" stroke-width="1"/>
<line x1="64.16" y1="374.05" x2="64.16" y2="419.75" stroke="#fff" stroke-width="1"/>
<line x1="77.76" y1="374.05" x2="77.76" y2="419.75" stroke="#fff" stroke-width="1"/>
<line x1="91.36" y1="374.05" x2="91.36" y2="419.75" stroke="#fff" stroke-width="1"/>
<line x1="23.38" y1="374.05" x2="23.38" y2="419.75" stroke="#fff" stroke-width="1"/>
<line x1="30.17" y1="374.05" x2="30.17" y2="419.75" stroke="#fff" stroke-width="1.3"/>
<line x1="43.77" y1="374.05" x2="43.77" y2="419.75" stroke="#fff" stroke-width="1.3"/>
<line x1="57.37" y1="374.05" x2="57.37" y2="419.75" stroke="#fff" stroke-width="1.3"/>
<line x1="70.96" y1="374.05" x2="70.96" y2="419.75" stroke="#fff" stroke-width="1.3"/>
<line x1="84.56" y1="374.05" x2="84.56" y2="419.75" stroke="#fff" stroke-width="1.3"/>
<line x1="27.5" y1="412.03" x2="88.7" y2="412.03" stroke="#fff" stroke-width="1"/>
<line x1="27.5" y1="400.6" x2="88.7" y2="400.6" stroke="#fff" stroke-width="1"/>
<line x1="27.5" y1="389.16" x2="88.7" y2="389.16" stroke="#fff" stroke-width="1"/>
<line x1="27.5" y1="377.73" x2="88.7" y2="377.73" stroke="#fff" stroke-width="1"/>
<line x1="27.5" y1="423.46" x2="88.7" y2="423.46" stroke="#fff" stroke-width="1"/>
<line x1="27.5" y1="417.75" x2="88.7" y2="417.75" stroke="#fff" stroke-width="1.3"/>
<line x1="27.5" y1="406.31" x2="88.7" y2="406.31" stroke="#fff" stroke-width="1.3"/>
<line x1="27.5" y1="394.88" x2="88.7" y2="394.88" stroke="#fff" stroke-width="1.3"/>
<line x1="27.5" y1="383.44" x2="88.7" y2="383.44" stroke="#fff" stroke-width="1.3"/>
<path d="M44.1 406.1h0M55.1 404.4h0M43.1 409.2h0M39 412.7h0M41.3 404.2h0M41.7 415.1h0M48.1 411.5h0M52.9 400.3h0M39.3 413.7h0M33.4 409.9h0M38.1 400.8h0M49.8 407.8h0M55.5 410.8h0M37.7 413.8h0M41.6 403h0M52.1 410.9h0M38.8 413.9h0M42.4 413.1h0M31.6 415.3h0M34.5 416.2h0M31.9 416.8h0M49 412.8h0M36.6 416.1h0M52.6 400.6h0M43.3 403.3h0M47.6 410.1h0M30.5 417.7h0M45.7 414.8h0M41 409.3h0M48.2 406.2h0M32.8 415.8h0M36.2 411.1h0M43.6 415.3h0M44.4 412.6h0M57.1 399.1h0M41.8 409.6h0M49.7 401.4h0M43.8 400.9h0M41.9 413h0M45.1 408.6h0M50.3 408.7h0M42.3 409.5h0M34.4 414.4h0M47 410.2h0M66.2 388h0M33.9 416h0M56.8 399.7h0M56.2 407h0M38.2 413.4h0M65.4 392.9h0M46.7 402.3h0M41.5 415h0M53.8 405.6h0M57.3 402.9h0M48.5 412.4h0M55.9 401.9h0M47.3 411.9h0M54.5 404.2h0M61.8 396.6h0M40.4 415.8h0M56.6 404.8h0M44 410.3h0M48.7 406.8h0M33.6 414.9h0M39.1 412.2h0M53.9 411.7h0M59.1 401.2h0M60.2 400.1h0M33.2 414.4h0M34.9 414.6h0M55.2 401.6h0M32.6 416.7h0M40.5 411.2h0M44.2 409.8h0M59.9 395.4h0M56.1 407.3h0M36.8 408.5h0M42.1 409.6h0M40.6 408.4h0M67 381.2h0M39.7 412.2h0M45.9 410.5h0M57.8 402.6h0M43.5 406.7h0M42.2 408.2h0M36.5 416.3h0M46.6 405.2h0M38.7 406.9h0M62.1 393.5h0M62.3 401.5h0M45.3 412.1h0M54.6 398.7h0M39.4 410.3h0M60.7 407.4h0M41.4 405.9h0M49.3 407.7h0M39.8 416.5h0M46.2 406.4h0M35.2 414.1h0M34.1 417h0M44.3 409.2h0M40.2 408.8h0M57.6 400.7h0M67.8 376.6h0M36.1 413.3h0M35.4 414.2h0M51.3 408h0M59.4 402.2h0M51.6 407.2h0M40.7 408.9h0M52.5 398.1h0M52.4 405.4h0M38 413.6h0M44.7 405h0M49.5 404.5h0M37.6 411.5h0M50 404h0M38.5 413.5h0M58.3 397.9h0M50.4 409.4h0M52.2 411.6h0M51 410h0M50.1 408.7h0M31.4 416.7h0M31.7 416.6h0M54.4 405.3h0M30.3 417.2h0M51.9 403.8h0M34.3 417.5h0M58.1 402.7h0M37.9 410.7h0M47.9 399.9h0M46.5 408.3h0M31.8 415.6h0M63.7 394.8h0M76.4 404.7h0M47.5 408.2h0M40.9 407.6h0M40.3 406h0M37.1 409.4h0M57.9 394.2h0M36.3 410.4h0M46.9 406.3h0M34.8 410.6h0M44.8 412.6h0M39.2 414.5h0M64.6 386.6h0M42.8 402.1h0M60.5 400.4h0M46 407.1h0M38.9 411.7h0M42 404.7h0M35.7 411.3h0M40.8 402.5h0M46.3 412.5h0M42.5 410.2h0M34.6 415.4h0M42.6 410.7h0M57.2 379.8h0M37 414.7h0M37.4 415.2h0M54.2 403.6h0M61 397.7h0M36.7 416.9h0M45.4 404.9h0M35.6 410.5h0M31.3 415.7h0M58.6 403.1h0M50.9 404.1h0M39.9 407.5h0M44.5 409.8h0M55.6 406.7h0M47.8 413h0M43.2 407.9h0M35 414.9h0M32.3 413.2h0M85.9 396h0M41.2 412.9h0M57.5 404.3h0M43 409.1h0M42.7 407.7h0M35.3 412.4h0M53.4 403.9h0M49.4 405.2h0M40.1 401h0M53.5 400.5h0M61.5 397h0M51.8 401.3h0M50.7 399.3h0M39.6 411.8h0M34 416.4h0M55.8 399.5h0M54.9 397.3h0M43.4 410.9h0M48.8 409h0M51.5 405.7h0M56.5 398.5h0M61.3 402.8h0M35.8 411.1h0M62.9 389.4h0M33 413.5h0M53.2 401.7h0M56.9 402h0M55.4 403.5h0M85.9 380.7h0M59.7 398.9h0M37.2 412h0M32.2 416.2h0M54.1 403.4h0M39.5 414.3h0M45.6 408.1h0M58.9 397.5h0M32.5 417.1h0M30.7 417.4h0M51.2 406.2h0M48.4 398.3h0M50.6 405.8h0M42.9 407.2h0M38.4 411.3h0M31.1 411.9h0M49.1 409.7h0M33.7 414h0M30.9 413.9h0M53.7 401.8h0M53.1 405.1h0M43.7 405.5h0M33.5 409h0M37.5 406.5h0M33.1 412.3h0M40 411.4h0M45 412h0M35.9 411h0M54.8 404.6h0M47.2 403.2h0M76.4 376.1h0M32.1 415.5h0M52.8 405.7h0M38.6 406.6h0M56.4 410h0M32.7 415.9h0" stroke="#000" stroke-width="3.8" stroke-linecap="round" fill="none"/>
<line x1="30.28" y1="416.53" x2="85.92" y2="384.15" stroke="#000" stroke-width="3.2"/>
</g></svg>
<svg x="91.8" y="374.05" width="61.2" height="45.7" overflow="hidden"><g transform="translate(-91.8 -374.05)">
<rect x="91.8" y="374.05" width="61.2" height="45.7" fill="#ebebeb" stroke="none" stroke-width="1"/>
<line x1="102.14" y1="374.05" x2="102.14" y2="419.75" stroke="#fff" stroke-width="1"/>
<line x1="117.45" y1="374.05" x2="117.45" y2="419.75" stroke="#fff" stroke-width="1"/>
<line x1="132.76" y1="374.05" x2="132.76" y2="419.75" stroke="#fff" stroke-width="1"/>
<line x1="148.07" y1="374.05" x2="148.07" y2="419.75" stroke="#fff" stroke-width="1"/>
<line x1="86.83" y1="374.05" x2="86.83" y2="419.75" stroke="#fff" stroke-width="1"/>
<line x1="94.48" y1="374.05" x2="94.48" y2="419.75" stroke="#fff" stroke-width="1.3"/>
<line x1="109.79" y1="374.05" x2="109.79" y2="419.75" stroke="#fff" stroke-width="1.3"/>
<line x1="125.11" y1="374.05" x2="125.11" y2="419.75" stroke="#fff" stroke-width="1.3"/>
<line x1="140.42" y1="374.05" x2="140.42" y2="419.75" stroke="#fff" stroke-width="1.3"/>
<line x1="91.8" y1="412.03" x2="153" y2="412.03" stroke="#fff" stroke-width="1"/>
<line x1="91.8" y1="400.6" x2="153" y2="400.6" stroke="#fff" stroke-width="1"/>
<line x1="91.8" y1="389.16" x2="153" y2="389.16" stroke="#fff" stroke-width="1"/>
<line x1="91.8" y1="377.73" x2="153" y2="377.73" stroke="#fff" stroke-width="1"/>
<line x1="91.8" y1="423.46" x2="153" y2="423.46" stroke="#fff" stroke-width="1"/>
<line x1="91.8" y1="417.75" x2="153" y2="417.75" stroke="#fff" stroke-width="1.3"/>
<line x1="91.8" y1="406.31" x2="153" y2="406.31" stroke="#fff" stroke-width="1.3"/>
<line x1="91.8" y1="394.88" x2="153" y2="394.88" stroke="#fff" stroke-width="1.3"/>
<line x1="91.8" y1="383.44" x2="153" y2="383.44" stroke="#fff" stroke-width="1.3"/>
<path d="M94.7 403.8 L95.04 402.54 L95.52 400.79 L96.08 398.72 L96.68 396.5 L97.27 394.3 L97.8 392.3 L98.26 390.41 L98.7 388.48 L99.12 386.57 L99.56 384.74 L100.01 383.07 L100.5 381.6 L101.04 380.3 L101.6 379.11 L102.19 378.06 L102.8 377.2 L103.4 376.57 L104 376.2 L104.59 376.11 L105.19 376.27 L105.79 376.66 L106.4 377.24 L107 378 L107.6 378.9 L108.2 380.02 L108.8 381.41 L109.41 382.96 L110.01 384.6 L110.61 386.24 L111.2 387.8 L111.78 389.29 L112.34 390.8 L112.89 392.31 L113.46 393.8 L114.06 395.27 L114.7 396.7 L115.39 398.13 L116.13 399.56 L116.89 400.97 L117.67 402.33 L118.44 403.58 L119.2 404.7 L119.93 405.63 L120.64 406.4 L121.34 407.06 L122.06 407.7 L122.81 408.39 L123.6 409.2 L124.44 410.2 L125.33 411.35 L126.24 412.55 L127.17 413.69 L128.09 414.68 L129 415.4 L129.88 415.81 L130.74 415.97 L131.6 415.97 L132.47 415.91 L133.37 415.85 L134.3 415.9 L135.3 416.06 L136.36 416.27 L137.45 416.49 L138.53 416.69 L139.55 416.84 L140.5 416.9 L141.34 416.84 L142.11 416.67 L142.83 416.45 L143.53 416.23 L144.25 416.06 L145 416 L145.85 416.07 L146.79 416.23 L147.73 416.44 L148.61 416.67 L149.36 416.87 L149.9 417" fill="none" stroke="#000" stroke-width="1.9" stroke-linejoin="round"/>
</g></svg>
<text x="186.7" y="392.7" font-size="8" text-anchor="middle" fill="#1a1a1a" dominant-baseline="central">r = 0.7</text>
<text x="186.7" y="402.5" font-size="8" text-anchor="middle" fill="#1a1a1a" dominant-baseline="central">p = 9.87e−31</text>
<text x="251" y="392.7" font-size="8" text-anchor="middle" fill="#1a1a1a" dominant-baseline="central">r = 0.69</text>
<text x="251" y="402.5" font-size="8" text-anchor="middle" fill="#1a1a1a" dominant-baseline="central">p = 3.05e−30</text>
<text x="315.3" y="392.7" font-size="8" text-anchor="middle" fill="#1a1a1a" dominant-baseline="central">r = 0.63</text>
<text x="315.3" y="402.5" font-size="8" text-anchor="middle" fill="#1a1a1a" dominant-baseline="central">p = 2.18e−22</text>
<text x="379.6" y="392.7" font-size="8" text-anchor="middle" fill="#1a1a1a" dominant-baseline="central">r = 0.67</text>
<text x="379.6" y="402.5" font-size="8" text-anchor="middle" fill="#1a1a1a" dominant-baseline="central">p = 2.27e−23</text>
<svg x="27.5" y="423.2" width="61.2" height="45.7" overflow="hidden"><g transform="translate(-27.5 -423.2)">
<rect x="27.5" y="423.2" width="61.2" height="45.7" fill="#ebebeb" stroke="none" stroke-width="1"/>
<line x1="36.97" y1="423.2" x2="36.97" y2="468.9" stroke="#fff" stroke-width="1"/>
<line x1="50.57" y1="423.2" x2="50.57" y2="468.9" stroke="#fff" stroke-width="1"/>
<line x1="64.16" y1="423.2" x2="64.16" y2="468.9" stroke="#fff" stroke-width="1"/>
<line x1="77.76" y1="423.2" x2="77.76" y2="468.9" stroke="#fff" stroke-width="1"/>
<line x1="91.36" y1="423.2" x2="91.36" y2="468.9" stroke="#fff" stroke-width="1"/>
<line x1="23.38" y1="423.2" x2="23.38" y2="468.9" stroke="#fff" stroke-width="1"/>
<line x1="30.17" y1="423.2" x2="30.17" y2="468.9" stroke="#fff" stroke-width="1.3"/>
<line x1="43.77" y1="423.2" x2="43.77" y2="468.9" stroke="#fff" stroke-width="1.3"/>
<line x1="57.37" y1="423.2" x2="57.37" y2="468.9" stroke="#fff" stroke-width="1.3"/>
<line x1="70.96" y1="423.2" x2="70.96" y2="468.9" stroke="#fff" stroke-width="1.3"/>
<line x1="84.56" y1="423.2" x2="84.56" y2="468.9" stroke="#fff" stroke-width="1.3"/>
<line x1="27.5" y1="460.28" x2="88.7" y2="460.28" stroke="#fff" stroke-width="1"/>
<line x1="27.5" y1="447" x2="88.7" y2="447" stroke="#fff" stroke-width="1"/>
<line x1="27.5" y1="433.71" x2="88.7" y2="433.71" stroke="#fff" stroke-width="1"/>
<line x1="27.5" y1="420.43" x2="88.7" y2="420.43" stroke="#fff" stroke-width="1"/>
<line x1="27.5" y1="473.57" x2="88.7" y2="473.57" stroke="#fff" stroke-width="1"/>
<line x1="27.5" y1="466.93" x2="88.7" y2="466.93" stroke="#fff" stroke-width="1.3"/>
<line x1="27.5" y1="453.64" x2="88.7" y2="453.64" stroke="#fff" stroke-width="1.3"/>
<line x1="27.5" y1="440.36" x2="88.7" y2="440.36" stroke="#fff" stroke-width="1.3"/>
<line x1="27.5" y1="427.07" x2="88.7" y2="427.07" stroke="#fff" stroke-width="1.3"/>
<path d="M44.1 454.9h0M55.1 449.8h0M43.1 462.8h0M39 456h0M41.3 455.6h0M41.7 457.5h0M48.1 440.5h0M52.9 434.6h0M39.3 462.9h0M33.4 461h0M38.1 452.4h0M49.8 449.9h0M55.5 450.2h0M37.7 465h0M41.6 450.5h0M52.1 451.2h0M38.8 462.5h0M42.4 457.2h0M31.6 465.9h0M34.5 463.3h0M31.9 466h0M49 457.1h0M36.6 465.7h0M52.6 447.7h0M43.3 439.6h0M47.6 443.7h0M30.5 465.6h0M45.7 454.7h0M41 455.4h0M48.2 442.4h0M32.8 464.1h0M36.2 457.3h0M43.6 461.7h0M44.4 459.7h0M57.1 440.9h0M41.8 459.9h0M49.7 457h0M43.8 442.6h0M41.9 446.7h0M45.1 453.8h0M50.3 451.8h0M42.3 447.4h0M34.4 460.3h0M47 456.2h0M66.2 436.7h0M33.9 462.1h0M56.8 439.4h0M56.2 449.1h0M38.2 451.5h0M65.4 432.8h0M46.7 441.6h0M41.5 463.7h0M53.8 442.9h0M57.3 454.8h0M48.5 456.7h0M55.9 446h0M47.3 448.5h0M54.5 440h0M61.8 427.4h0M40.4 463.4h0M56.6 444.8h0M44 458.3h0M48.7 454.1h0M33.6 460.5h0M39.1 460.7h0M53.9 461.5h0M59.1 442.2h0M60.2 445.3h0M33.2 464.4h0M34.9 458.7h0M55.2 441.8h0M32.6 463.1h0M40.5 457.7h0M44.2 459.5h0M59.9 439.8h0M56.1 447.3h0M36.8 460h0M42.1 454.6h0M40.6 457.6h0M67 443.1h0M39.7 453.6h0M45.9 455.6h0M57.8 445.4h0M43.5 453.2h0M42.2 451h0M36.5 461.6h0M46.6 445.1h0M38.7 455h0M62.1 435.3h0M62.3 441.5h0M45.3 458.8h0M54.6 444h0M39.4 456.6h0M60.7 437.7h0M41.4 458.2h0M49.3 436.3h0M39.8 462.7h0M46.2 454.3h0M35.2 466.8h0M34.1 466.6h0M44.3 455.5h0M40.2 462.3h0M57.6 448.7h0M67.8 429.5h0M36.1 458.4h0M35.4 460.4h0M51.3 448.8h0M59.4 440.4h0M51.6 440.2h0M40.7 458.6h0M52.5 445.6h0M52.4 449.6h0M38 459.3h0M44.7 458h0M49.5 454.4h0M37.6 461.4h0M50 454.2h0M38.5 463h0M58.3 442h0M50.4 459.4h0M52.2 457.6h0M51 459.6h0M50.1 452.9h0M31.4 466.2h0M31.7 465.3h0M54.4 449.3h0M30.3 465.1h0M51.9 438.7h0M34.3 464.9h0M58.1 446.8h0M37.9 458.1h0M47.9 444.6h0M46.5 455.9h0M31.8 465.2h0M63.7 430.6h0M76.4 433.9h0M47.5 446.5h0M40.9 456.8h0M40.3 447.9h0M37.1 462.6h0M57.9 439.1h0M36.3 445h0M46.9 447.6h0M34.8 461.1h0M44.8 458.9h0M39.2 461.9h0M64.6 432.5h0M42.8 455.8h0M60.5 448.2h0M46 453.3h0M38.9 459.2h0M42 455.1h0M35.7 452.1h0M40.8 450.1h0M46.3 452.5h0M42.5 459.6h0M34.6 461.3h0M42.6 450.7h0M57.2 428.5h0M37 457.9h0M37.4 460.9h0M54.2 438.3h0M61 439.2h0M36.7 463.9h0M45.4 452.2h0M35.6 455.3h0M31.3 465.5h0M58.6 441.1h0M50.9 453.9h0M39.9 450.4h0M44.5 459.8h0M55.6 452.7h0M47.8 457.8h0M43.2 448.1h0M35 464h0M32.3 463.2h0M85.9 433.2h0M41.2 460.6h0M57.5 447h0M43 456.9h0M42.7 451.3h0M35.3 445.9h0M53.4 434.2h0M49.4 456.1h0M40.1 449.4h0M53.5 450.8h0M61.5 437h0M51.8 434.9h0M50.7 454.5h0M39.6 453.5h0M34 463.6h0M55.8 433.5h0M54.9 438.9h0M43.4 456.4h0M48.8 443.3h0M51.5 438.5h0M56.5 441.3h0M61.3 438.1h0M35.8 459.1h0M62.9 443.9h0M33 460.2h0M53.2 437.4h0M56.9 444.4h0M55.4 440.7h0M85.9 426.3h0M59.7 436h0M37.2 463.8h0M32.2 464.8h0M54.1 435.6h0M39.5 464.5h0M45.6 445.7h0M58.9 444.2h0M32.5 466.4h0M30.7 464.2h0M51.2 448.4h0M48.4 457.4h0M50.6 456.3h0M42.9 446.3h0M38.4 455.7h0M31.1 464.6h0M49.1 451.9h0M33.7 459h0M30.9 465.4h0M53.7 443.5h0M53.1 453h0M43.7 449h0M33.5 462.2h0M37.5 458.5h0M33.1 460.8h0M40 461.8h0M45 451.6h0M35.9 455.2h0M54.8 446.2h0M47.2 442.8h0M76.4 425.3h0M32.1 462h0M52.8 431.7h0M38.6 456.5h0M56.4 447.1h0M32.7 464.3h0" stroke="#000" stroke-width="3.8" stroke-linecap="round" fill="none"/>
<line x1="30.28" y1="464.5" x2="85.92" y2="420.74" stroke="#000" stroke-width="3.2"/>
</g></svg>
<svg x="91.8" y="423.2" width="61.2" height="45.7" overflow="hidden"><g transform="translate(-91.8 -423.2)">
<rect x="91.8" y="423.2" width="61.2" height="45.7" fill="#ebebeb" stroke="none" stroke-width="1"/>
<line x1="102.14" y1="423.2" x2="102.14" y2="468.9" stroke="#fff" stroke-width="1"/>
<line x1="117.45" y1="423.2" x2="117.45" y2="468.9" stroke="#fff" stroke-width="1"/>
<line x1="132.76" y1="423.2" x2="132.76" y2="468.9" stroke="#fff" stroke-width="1"/>
<line x1="148.07" y1="423.2" x2="148.07" y2="468.9" stroke="#fff" stroke-width="1"/>
<line x1="86.83" y1="423.2" x2="86.83" y2="468.9" stroke="#fff" stroke-width="1"/>
<line x1="94.48" y1="423.2" x2="94.48" y2="468.9" stroke="#fff" stroke-width="1.3"/>
<line x1="109.79" y1="423.2" x2="109.79" y2="468.9" stroke="#fff" stroke-width="1.3"/>
<line x1="125.11" y1="423.2" x2="125.11" y2="468.9" stroke="#fff" stroke-width="1.3"/>
<line x1="140.42" y1="423.2" x2="140.42" y2="468.9" stroke="#fff" stroke-width="1.3"/>
<line x1="91.8" y1="460.28" x2="153" y2="460.28" stroke="#fff" stroke-width="1"/>
<line x1="91.8" y1="447" x2="153" y2="447" stroke="#fff" stroke-width="1"/>
<line x1="91.8" y1="433.71" x2="153" y2="433.71" stroke="#fff" stroke-width="1"/>
<line x1="91.8" y1="420.43" x2="153" y2="420.43" stroke="#fff" stroke-width="1"/>
<line x1="91.8" y1="473.57" x2="153" y2="473.57" stroke="#fff" stroke-width="1"/>
<line x1="91.8" y1="466.93" x2="153" y2="466.93" stroke="#fff" stroke-width="1.3"/>
<line x1="91.8" y1="453.64" x2="153" y2="453.64" stroke="#fff" stroke-width="1.3"/>
<line x1="91.8" y1="440.36" x2="153" y2="440.36" stroke="#fff" stroke-width="1.3"/>
<line x1="91.8" y1="427.07" x2="153" y2="427.07" stroke="#fff" stroke-width="1.3"/>
<path d="M110.1 454.9h0M112.4 449.8h0M105.9 462.8h0M101.2 456h0M112.6 455.6h0M98 457.5h0M102.8 440.5h0M117.9 434.6h0M99.9 462.9h0M105 461h0M117.1 452.4h0M107.8 449.9h0M103.8 450.2h0M99.8 465h0M114.2 450.5h0M103.6 451.2h0M99.7 462.5h0M100.7 457.2h0M97.7 465.9h0M96.5 463.3h0M95.7 466h0M101.1 457.1h0M96.7 465.7h0M117.4 447.7h0M113.8 439.6h0M104.7 443.7h0M94.6 465.6h0M98.5 454.7h0M105.8 455.4h0M110 442.4h0M97 464.1h0M103.3 457.3h0M97.8 461.7h0M101.4 459.7h0M119.5 440.9h0M105.4 459.9h0M116.4 457h0M117 442.6h0M100.8 446.7h0M106.8 453.8h0M106.5 451.8h0M105.5 447.4h0M99 460.3h0M104.7 456.2h0M134.3 436.7h0M96.8 462.1h0M118.6 439.4h0M108.9 449.1h0M100.3 451.5h0M127.8 432.8h0M115.1 441.6h0M98.1 463.7h0M110.8 442.9h0M114.4 454.8h0M101.7 456.7h0M115.7 446h0M102.3 448.5h0M112.7 440h0M122.7 427.4h0M97.1 463.4h0M111.8 444.8h0M104.5 458.3h0M109.1 454.1h0M98.4 460.5h0M101.9 460.7h0M102.6 461.5h0M116.7 442.2h0M118.1 445.3h0M98.9 464.4h0M98.7 458.7h0M116.1 441.8h0M95.8 463.1h0M103.3 457.7h0M105.2 459.5h0M124.4 439.8h0M108.4 447.3h0M106.9 460h0M105.4 454.6h0M107 457.6h0M143.5 443.1h0M101.9 453.6h0M104.2 455.6h0M114.8 445.4h0M109.2 453.2h0M107.3 451h0M96.4 461.6h0M111.3 445.1h0M109 455h0M126.9 435.3h0M116.3 441.5h0M102 458.8h0M120 444h0M104.4 456.6h0M108.3 437.7h0M110.3 458.2h0M107.9 436.3h0M96.2 462.7h0M109.7 454.3h0M99.4 466.8h0M95.5 466.6h0M106 455.5h0M106.4 462.3h0M117.3 448.7h0M149.6 429.5h0M100.5 458.4h0M99.2 460.4h0M107.5 448.8h0M115.3 440.4h0M108.7 440.2h0M106.3 458.6h0M120.8 445.6h0M111 449.6h0M100 459.3h0M111.6 458h0M112.2 454.4h0M102.9 461.4h0M112.9 454.2h0M100.1 463h0M121.1 442h0M105.7 459.4h0M102.7 457.6h0M104.8 459.6h0M106.6 452.9h0M95.9 466.2h0M96 465.3h0M111.1 449.3h0M95.2 465.1h0M113.2 438.7h0M94.8 464.9h0M114.7 446.8h0M104 458.1h0M118.4 444.6h0M107.1 455.9h0M97.4 465.2h0M125.2 430.6h0M112 433.9h0M107.2 446.5h0M108.1 456.8h0M110.2 447.9h0M105.6 462.6h0M126.1 439.1h0M104.3 445h0M109.8 447.6h0M104 461.1h0M101.3 458.9h0M98.8 461.9h0M136.1 432.5h0M115.4 455.8h0M117.7 448.2h0M108.8 453.3h0M102.6 459.2h0M111.9 455.1h0M103.1 452.1h0M115 450.1h0M101.5 452.5h0M104.6 459.6h0M97.6 461.3h0M103.9 450.7h0M145.3 428.5h0M98.6 457.9h0M97.9 460.9h0M113.4 438.3h0M121.4 439.2h0M95.6 463.9h0M111.7 452.2h0M104.1 455.3h0M97.3 465.5h0M114.1 441.1h0M112.8 453.9h0M108.2 450.4h0M105.1 459.8h0M109.3 452.7h0M100.9 457.8h0M107.7 448.1h0M98.3 464h0M100.6 463.2h0M123.6 433.2h0M101 460.6h0M112.5 447h0M106.1 456.9h0M108 451.3h0M101.6 445.9h0M113.1 434.2h0M111.2 456.1h0M116.9 449.4h0M117.6 450.8h0M122.2 437h0M116.6 434.9h0M119.2 454.5h0M102.5 453.5h0M96.3 463.6h0M118.9 433.5h0M121.9 438.9h0M103.7 456.4h0M106.2 443.3h0M110.7 438.5h0M120.3 441.3h0M114.5 438.1h0M103.4 459.1h0M132.5 443.9h0M100.2 460.2h0M116 437.4h0M115.5 444.4h0M113.5 440.7h0M144.1 426.3h0M119.7 436h0M102.2 463.8h0M96.6 464.8h0M113.7 435.6h0M99.1 464.5h0M107.4 445.7h0M121.7 444.2h0M95.4 466.4h0M95 464.2h0M109.9 448.4h0M120.6 457.4h0M110.5 456.3h0M108.5 446.3h0M103.2 455.7h0M102.4 464.6h0M105.3 451.9h0M99.5 459h0M99.6 465.4h0M115.8 443.5h0M111.5 453h0M110.9 449h0M106.1 462.2h0M109.6 458.5h0M101.8 460.8h0M103 461.8h0M102.1 451.6h0M103.5 455.2h0M112.1 446.2h0M113.9 442.8h0M150.2 425.3h0M97.5 462h0M110.6 431.7h0M109.4 456.5h0M104.9 447.1h0M96.9 464.3h0" stroke="#000" stroke-width="3.8" stroke-linecap="round" fill="none"/>
<line x1="94.58" y1="463.02" x2="150.22" y2="418.98" stroke="#000" stroke-width="3.2"/>
</g></svg>
<svg x="156.1" y="423.2" width="61.2" height="45.7" overflow="hidden"><g transform="translate(-156.1 -423.2)">
<rect x="156.1" y="423.2" width="61.2" height="45.7" fill="#ebebeb" stroke="none" stroke-width="1"/>
<line x1="167.64" y1="423.2" x2="167.64" y2="468.9" stroke="#fff" stroke-width="1"/>
<line x1="185.43" y1="423.2" x2="185.43" y2="468.9" stroke="#fff" stroke-width="1"/>
<line x1="203.22" y1="423.2" x2="203.22" y2="468.9" stroke="#fff" stroke-width="1"/>
<line x1="221.01" y1="423.2" x2="221.01" y2="468.9" stroke="#fff" stroke-width="1"/>
<line x1="149.85" y1="423.2" x2="149.85" y2="468.9" stroke="#fff" stroke-width="1"/>
<line x1="158.74" y1="423.2" x2="158.74" y2="468.9" stroke="#fff" stroke-width="1.3"/>
<line x1="176.53" y1="423.2" x2="176.53" y2="468.9" stroke="#fff" stroke-width="1.3"/>
<line x1="194.32" y1="423.2" x2="194.32" y2="468.9" stroke="#fff" stroke-width="1.3"/>
<line x1="212.12" y1="423.2" x2="212.12" y2="468.9" stroke="#fff" stroke-width="1.3"/>
<line x1="156.1" y1="460.28" x2="217.3" y2="460.28" stroke="#fff" stroke-width="1"/>
<line x1="156.1" y1="447" x2="217.3" y2="447" stroke="#fff" stroke-width="1"/>
<line x1="156.1" y1="433.71" x2="217.3" y2="433.71" stroke="#fff" stroke-width="1"/>
<line x1="156.1" y1="420.43" x2="217.3" y2="420.43" stroke="#fff" stroke-width="1"/>
<line x1="156.1" y1="473.57" x2="217.3" y2="473.57" stroke="#fff" stroke-width="1"/>
<line x1="156.1" y1="466.93" x2="217.3" y2="466.93" stroke="#fff" stroke-width="1.3"/>
<line x1="156.1" y1="453.64" x2="217.3" y2="453.64" stroke="#fff" stroke-width="1.3"/>
<line x1="156.1" y1="440.36" x2="217.3" y2="440.36" stroke="#fff" stroke-width="1.3"/>
<line x1="156.1" y1="427.07" x2="217.3" y2="427.07" stroke="#fff" stroke-width="1.3"/>
<path d="M159.1 453.4 L159.49 452.09 L160.04 450.27 L160.68 448.12 L161.37 445.81 L162.06 443.52 L162.7 441.4 L163.28 439.36 L163.85 437.24 L164.42 435.13 L164.99 433.13 L165.58 431.32 L166.2 429.8 L166.86 428.55 L167.54 427.47 L168.25 426.6 L168.96 425.94 L169.64 425.5 L170.3 425.3 L170.9 425.37 L171.46 425.7 L172 426.26 L172.55 427.01 L173.14 427.9 L173.8 428.9 L174.54 430.13 L175.34 431.64 L176.19 433.29 L177.04 434.96 L177.89 436.51 L178.7 437.8 L179.46 438.83 L180.2 439.71 L180.92 440.47 L181.66 441.13 L182.41 441.73 L183.2 442.3 L184.05 442.78 L184.94 443.14 L185.85 443.43 L186.76 443.72 L187.65 444.06 L188.5 444.5 L189.29 445.04 L190.03 445.62 L190.75 446.25 L191.47 446.94 L192.21 447.69 L193 448.5 L193.84 449.43 L194.71 450.47 L195.6 451.57 L196.5 452.68 L197.41 453.74 L198.3 454.7 L199.18 455.56 L200.06 456.36 L200.94 457.12 L201.83 457.84 L202.71 458.53 L203.6 459.2 L204.5 459.85 L205.4 460.47 L206.3 461.06 L207.2 461.63 L208.1 462.17 L209 462.7 L209.95 463.23 L210.97 463.76 L211.99 464.27 L212.93 464.73 L213.72 465.12 L214.3 465.4" fill="none" stroke="#000" stroke-width="1.9" stroke-linejoin="round"/>
</g></svg>
<text x="251" y="441.85" font-size="8" text-anchor="middle" fill="#1a1a1a" dominant-baseline="central">r = 0.86</text>
<text x="251" y="451.65" font-size="8" text-anchor="middle" fill="#1a1a1a" dominant-baseline="central">p = 1.26e−62</text>
<text x="315.3" y="441.85" font-size="8" text-anchor="middle" fill="#1a1a1a" dominant-baseline="central">r = 0.79</text>
<text x="315.3" y="451.65" font-size="8" text-anchor="middle" fill="#1a1a1a" dominant-baseline="central">p = 3.19e−42</text>
<text x="379.6" y="441.85" font-size="8" text-anchor="middle" fill="#1a1a1a" dominant-baseline="central">r = 0.63</text>
<text x="379.6" y="451.65" font-size="8" text-anchor="middle" fill="#1a1a1a" dominant-baseline="central">p = 2.1e−20</text>
<svg x="27.5" y="472.35" width="61.2" height="45.7" overflow="hidden"><g transform="translate(-27.5 -472.35)">
<rect x="27.5" y="472.35" width="61.2" height="45.7" fill="#ebebeb" stroke="none" stroke-width="1"/>
<line x1="36.97" y1="472.35" x2="36.97" y2="518.05" stroke="#fff" stroke-width="1"/>
<line x1="50.57" y1="472.35" x2="50.57" y2="518.05" stroke="#fff" stroke-width="1"/>
<line x1="64.16" y1="472.35" x2="64.16" y2="518.05" stroke="#fff" stroke-width="1"/>
<line x1="77.76" y1="472.35" x2="77.76" y2="518.05" stroke="#fff" stroke-width="1"/>
<line x1="91.36" y1="472.35" x2="91.36" y2="518.05" stroke="#fff" stroke-width="1"/>
<line x1="23.38" y1="472.35" x2="23.38" y2="518.05" stroke="#fff" stroke-width="1"/>
<line x1="30.17" y1="472.35" x2="30.17" y2="518.05" stroke="#fff" stroke-width="1.3"/>
<line x1="43.77" y1="472.35" x2="43.77" y2="518.05" stroke="#fff" stroke-width="1.3"/>
<line x1="57.37" y1="472.35" x2="57.37" y2="518.05" stroke="#fff" stroke-width="1.3"/>
<line x1="70.96" y1="472.35" x2="70.96" y2="518.05" stroke="#fff" stroke-width="1.3"/>
<line x1="84.56" y1="472.35" x2="84.56" y2="518.05" stroke="#fff" stroke-width="1.3"/>
<line x1="27.5" y1="509.95" x2="88.7" y2="509.95" stroke="#fff" stroke-width="1"/>
<line x1="27.5" y1="497.72" x2="88.7" y2="497.72" stroke="#fff" stroke-width="1"/>
<line x1="27.5" y1="485.48" x2="88.7" y2="485.48" stroke="#fff" stroke-width="1"/>
<line x1="27.5" y1="473.25" x2="88.7" y2="473.25" stroke="#fff" stroke-width="1"/>
<line x1="27.5" y1="522.19" x2="88.7" y2="522.19" stroke="#fff" stroke-width="1"/>
<line x1="27.5" y1="516.07" x2="88.7" y2="516.07" stroke="#fff" stroke-width="1.3"/>
<line x1="27.5" y1="503.83" x2="88.7" y2="503.83" stroke="#fff" stroke-width="1.3"/>
<line x1="27.5" y1="491.6" x2="88.7" y2="491.6" stroke="#fff" stroke-width="1.3"/>
<line x1="27.5" y1="479.37" x2="88.7" y2="479.37" stroke="#fff" stroke-width="1.3"/>
<path d="M44.1 491.9h0M55.1 490.3h0M43.1 510.6h0M39 511.8h0M41.3 502.1h0M41.7 506.3h0M48.1 497.1h0M52.9 486.2h0M39.3 503.1h0M33.4 503.9h0M38.1 496.3h0M49.8 491.7h0M55.5 508h0M37.7 506.4h0M41.6 505h0M52.1 488.9h0M38.8 512.5h0M42.4 507.8h0M31.6 514.2h0M34.5 514.1h0M31.9 516h0M49 508.6h0M36.6 511.7h0M52.6 496h0M43.3 493.9h0M47.6 502.5h0M30.5 515.1h0M45.7 505.4h0M41 501.4h0M48.2 497.5h0M32.8 510.2h0M36.2 506.1h0M43.6 510.3h0M44.4 508.3h0M57.1 489.1h0M41.8 511.3h0M49.7 496.9h0M43.8 493.3h0M41.9 504.3h0M45.1 504.9h0M50.3 498.3h0M42.3 498.5h0M34.4 512.1h0M47 490.9h0M66.2 484.4h0M33.9 507.5h0M56.8 487.3h0M56.2 502h0M38.2 507.6h0M65.4 475.6h0M46.7 492.1h0M41.5 511.2h0M53.8 500.7h0M57.3 502.2h0M48.5 503h0M55.9 502.7h0M47.3 499.6h0M54.5 497.4h0M61.8 488.7h0M40.4 507.1h0M56.6 497.6h0M44 510.1h0M48.7 506h0M33.6 513.4h0M39.1 512.6h0M53.9 505.8h0M59.1 484h0M60.2 493.5h0M33.2 509.5h0M34.9 512h0M55.2 492.3h0M32.6 515.6h0M40.5 505.1h0M44.2 499.1h0M59.9 476.7h0M56.1 492.5h0M36.8 502.8h0M42.1 507.2h0M40.6 500.5h0M67 485.5h0M39.7 501.1h0M45.9 503.6h0M57.8 489.3h0M43.5 509h0M42.2 503.7h0M36.5 506.9h0M46.6 501.9h0M38.7 507.2h0M62.1 490.1h0M62.3 499.7h0M45.3 500.2h0M54.6 482.1h0M39.4 499h0M60.7 494.2h0M41.4 504.2h0M49.3 496.8h0M39.8 508.1h0M46.2 500.6h0M35.2 514.9h0M34.1 513.7h0M44.3 499.9h0M40.2 509.8h0M57.6 503.5h0M67.8 483.6h0M36.1 510.9h0M35.4 513.1h0M51.3 495.4h0M59.4 498.6h0M51.6 500.1h0M40.7 494.1h0M52.5 488.1h0M52.4 500h0M38 506.5h0M44.7 496.6h0M49.5 502.9h0M37.6 512.7h0M50 498.8h0M38.5 513h0M58.3 482.5h0M50.4 507.7h0M52.2 504.2h0M51 506.7h0M50.1 502.4h0M31.4 514.8h0M31.7 509.2h0M54.4 498.1h0M30.3 513.6h0M51.9 501h0M34.3 514.3h0M58.1 496.4h0M37.9 507.3h0M47.9 491.1h0M46.5 502.6h0M31.8 514.5h0M63.7 483.2h0M76.4 482.9h0M47.5 504h0M40.9 493.7h0M40.3 491.3h0M37.1 513.2h0M57.9 487.7h0M36.3 495.2h0M46.9 498h0M34.8 506.6h0M44.8 506.8h0M39.2 512.9h0M64.6 488.5h0M42.8 504.4h0M60.5 486.9h0M46 501.7h0M38.9 508.4h0M42 507.9h0M35.7 505.6h0M40.8 504.1h0M46.3 504.8h0M42.5 499.4h0M34.6 511.4h0M42.6 505.7h0M57.2 479h0M37 506.2h0M37.4 510.7h0M54.2 498.9h0M61 480.1h0M36.7 514.7h0M45.4 497.3h0M35.6 505.9h0M31.3 515.4h0M58.6 495h0M50.9 503.4h0M39.9 499.5h0M44.5 509.7h0M55.6 490.7h0M47.8 508.2h0M43.2 510.8h0M35 512.3h0M32.3 515.2h0M85.9 485.8h0M41.2 500.9h0M57.5 494.4h0M43 505.7h0M42.7 507h0M35.3 498.4h0M53.4 492.7h0M49.4 503.2h0M40.1 497.8h0M53.5 489.7h0M61.5 481.2h0M51.8 492.9h0M50.7 494.8h0M39.6 503.3h0M34 513.5h0M55.8 495.9h0M54.9 490.5h0M43.4 505.5h0M48.8 495.6h0M51.5 491.5h0M56.5 477.8h0M61.3 494.6h0M35.8 505.2h0M62.9 485.1h0M33 509.9h0M53.2 486.6h0M56.9 497.9h0M55.4 495.5h0M85.9 488.3h0M59.7 489.5h0M37.2 508.8h0M32.2 513.8h0M54.1 497h0M39.5 511h0M45.6 500.4h0M58.9 489.9h0M32.5 514.6h0M30.7 515.8h0M51.2 505.3h0M48.4 504.7h0M50.6 496.5h0M42.9 508.5h0M38.4 509.1h0M31.1 512.4h0M49.1 503.8h0M33.7 511.9h0M30.9 514h0M53.7 495.8h0M53.1 501.5h0M43.7 504.5h0M33.5 509.6h0M37.5 509.3h0M33.1 511.5h0M40 507.4h0M45 496.1h0M35.9 504.6h0M54.8 499.2h0M47.2 493.1h0M76.4 474.4h0M32.1 508.7h0M52.8 484.7h0M38.6 501.6h0M56.4 501.2h0M32.7 510.4h0" stroke="#000" stroke-width="3.8" stroke-linecap="round" fill="none"/>
<line x1="30.28" y1="512.83" x2="85.92" y2="472.32" stroke="#000" stroke-width="3.2"/>
</g></svg>
<svg x="91.8" y="472.35" width="61.2" height="45.7" overflow="hidden"><g transform="translate(-91.8 -472.35)">
<rect x="91.8" y="472.35" width="61.2" height="45.7" fill="#ebebeb" stroke="none" stroke-width="1"/>
<line x1="102.14" y1="472.35" x2="102.14" y2="518.05" stroke="#fff" stroke-width="1"/>
<line x1="117.45" y1="472.35" x2="117.45" y2="518.05" stroke="#fff" stroke-width="1"/>
<line x1="132.76" y1="472.35" x2="132.76" y2="518.05" stroke="#fff" stroke-width="1"/>
<line x1="148.07" y1="472.35" x2="148.07" y2="518.05" stroke="#fff" stroke-width="1"/>
<line x1="86.83" y1="472.35" x2="86.83" y2="518.05" stroke="#fff" stroke-width="1"/>
<line x1="94.48" y1="472.35" x2="94.48" y2="518.05" stroke="#fff" stroke-width="1.3"/>
<line x1="109.79" y1="472.35" x2="109.79" y2="518.05" stroke="#fff" stroke-width="1.3"/>
<line x1="125.11" y1="472.35" x2="125.11" y2="518.05" stroke="#fff" stroke-width="1.3"/>
<line x1="140.42" y1="472.35" x2="140.42" y2="518.05" stroke="#fff" stroke-width="1.3"/>
<line x1="91.8" y1="509.95" x2="153" y2="509.95" stroke="#fff" stroke-width="1"/>
<line x1="91.8" y1="497.72" x2="153" y2="497.72" stroke="#fff" stroke-width="1"/>
<line x1="91.8" y1="485.48" x2="153" y2="485.48" stroke="#fff" stroke-width="1"/>
<line x1="91.8" y1="473.25" x2="153" y2="473.25" stroke="#fff" stroke-width="1"/>
<line x1="91.8" y1="522.19" x2="153" y2="522.19" stroke="#fff" stroke-width="1"/>
<line x1="91.8" y1="516.07" x2="153" y2="516.07" stroke="#fff" stroke-width="1.3"/>
<line x1="91.8" y1="503.83" x2="153" y2="503.83" stroke="#fff" stroke-width="1.3"/>
<line x1="91.8" y1="491.6" x2="153" y2="491.6" stroke="#fff" stroke-width="1.3"/>
<line x1="91.8" y1="479.37" x2="153" y2="479.37" stroke="#fff" stroke-width="1.3"/>
<path d="M110.1 491.9h0M112.4 490.3h0M105.9 510.6h0M101.2 511.8h0M112.6 502.1h0M98 506.3h0M102.8 497.1h0M117.9 486.2h0M99.9 503.1h0M105 503.9h0M117.1 496.3h0M107.8 491.7h0M103.8 508h0M99.8 506.4h0M114.2 505h0M103.6 488.9h0M99.7 512.5h0M100.7 507.8h0M97.7 514.2h0M96.5 514.1h0M95.7 516h0M101.1 508.6h0M96.7 511.7h0M117.4 496h0M113.8 493.9h0M104.7 502.5h0M94.6 515.1h0M98.5 505.4h0M105.8 501.4h0M110 497.5h0M97 510.2h0M103.3 506.1h0M97.8 510.3h0M101.4 508.3h0M119.5 489.1h0M105.4 511.3h0M116.4 496.9h0M117 493.3h0M100.8 504.3h0M106.8 504.9h0M106.5 498.3h0M105.5 498.5h0M99 512.1h0M104.7 490.9h0M134.3 484.4h0M96.8 507.5h0M118.6 487.3h0M108.9 502h0M100.3 507.6h0M127.8 475.6h0M115.1 492.1h0M98.1 511.2h0M110.8 500.7h0M114.4 502.2h0M101.7 503h0M115.7 502.7h0M102.3 499.6h0M112.7 497.4h0M122.7 488.7h0M97.1 507.1h0M111.8 497.6h0M104.5 510.1h0M109.1 506h0M98.4 513.4h0M101.9 512.6h0M102.6 505.8h0M116.7 484h0M118.1 493.5h0M98.9 509.5h0M98.7 512h0M116.1 492.3h0M95.8 515.6h0M103.3 505.1h0M105.2 499.1h0M124.4 476.7h0M108.4 492.5h0M106.9 502.8h0M105.4 507.2h0M107 500.5h0M143.5 485.5h0M101.9 501.1h0M104.2 503.6h0M114.8 489.3h0M109.2 509h0M107.3 503.7h0M96.4 506.9h0M111.3 501.9h0M109 507.2h0M126.9 490.1h0M116.3 499.7h0M102 500.2h0M120 482.1h0M104.4 499h0M108.3 494.2h0M110.3 504.2h0M107.9 496.8h0M96.2 508.1h0M109.7 500.6h0M99.4 514.9h0M95.5 513.7h0M106 499.9h0M106.4 509.8h0M117.3 503.5h0M149.6 483.6h0M100.5 510.9h0M99.2 513.1h0M107.5 495.4h0M115.3 498.6h0M108.7 500.1h0M106.3 494.1h0M120.8 488.1h0M111 500h0M100 506.5h0M111.6 496.6h0M112.2 502.9h0M102.9 512.7h0M112.9 498.8h0M100.1 513h0M121.1 482.5h0M105.7 507.7h0M102.7 504.2h0M104.8 506.7h0M106.6 502.4h0M95.9 514.8h0M96 509.2h0M111.1 498.1h0M95.2 513.6h0M113.2 501h0M94.8 514.3h0M114.7 496.4h0M104 507.3h0M118.4 491.1h0M107.1 502.6h0M97.4 514.5h0M125.2 483.2h0M112 482.9h0M107.2 504h0M108.1 493.7h0M110.2 491.3h0M105.6 513.2h0M126.1 487.7h0M104.3 495.2h0M109.8 498h0M104 506.6h0M101.3 506.8h0M98.8 512.9h0M136.1 488.5h0M115.4 504.4h0M117.7 486.9h0M108.8 501.7h0M102.6 508.4h0M111.9 507.9h0M103.1 505.6h0M115 504.1h0M101.5 504.8h0M104.6 499.4h0M97.6 511.4h0M103.9 505.7h0M145.3 479h0M98.6 506.2h0M97.9 510.7h0M113.4 498.9h0M121.4 480.1h0M95.6 514.7h0M111.7 497.3h0M104.1 505.9h0M97.3 515.4h0M114.1 495h0M112.8 503.4h0M108.2 499.5h0M105.1 509.7h0M109.3 490.7h0M100.9 508.2h0M107.7 510.8h0M98.3 512.3h0M100.6 515.2h0M123.6 485.8h0M101 500.9h0M112.5 494.4h0M106.1 505.7h0M108 507h0M101.6 498.4h0M113.1 492.7h0M111.2 503.2h0M116.9 497.8h0M117.6 489.7h0M122.2 481.2h0M116.6 492.9h0M119.2 494.8h0M102.5 503.3h0M96.3 513.5h0M118.9 495.9h0M121.9 490.5h0M103.7 505.5h0M106.2 495.6h0M110.7 491.5h0M120.3 477.8h0M114.5 494.6h0M103.4 505.2h0M132.5 485.1h0M100.2 509.9h0M116 486.6h0M115.5 497.9h0M113.5 495.5h0M144.1 488.3h0M119.7 489.5h0M102.2 508.8h0M96.6 513.8h0M113.7 497h0M99.1 511h0M107.4 500.4h0M121.7 489.9h0M95.4 514.6h0M95 515.8h0M109.9 505.3h0M120.6 504.7h0M110.5 496.5h0M108.5 508.5h0M103.2 509.1h0M102.4 512.4h0M105.3 503.8h0M99.5 511.9h0M99.6 514h0M115.8 495.8h0M111.5 501.5h0M110.9 504.5h0M106.1 509.6h0M109.6 509.3h0M101.8 511.5h0M103 507.4h0M102.1 496.1h0M103.5 504.6h0M112.1 499.2h0M113.9 493.1h0M150.2 474.4h0M97.5 508.7h0M110.6 484.7h0M109.4 501.6h0M104.9 501.2h0M96.9 510.4h0" stroke="#000" stroke-width="3.8" stroke-linecap="round" fill="none"/>
<line x1="94.58" y1="511.93" x2="150.22" y2="469.29" stroke="#000" stroke-width="3.2"/>
</g></svg>
<svg x="156.1" y="472.35" width="61.2" height="45.7" overflow="hidden"><g transform="translate(-156.1 -472.35)">
<rect x="156.1" y="472.35" width="61.2" height="45.7" fill="#ebebeb" stroke="none" stroke-width="1"/>
<line x1="167.64" y1="472.35" x2="167.64" y2="518.05" stroke="#fff" stroke-width="1"/>
<line x1="185.43" y1="472.35" x2="185.43" y2="518.05" stroke="#fff" stroke-width="1"/>
<line x1="203.22" y1="472.35" x2="203.22" y2="518.05" stroke="#fff" stroke-width="1"/>
<line x1="221.01" y1="472.35" x2="221.01" y2="518.05" stroke="#fff" stroke-width="1"/>
<line x1="149.85" y1="472.35" x2="149.85" y2="518.05" stroke="#fff" stroke-width="1"/>
<line x1="158.74" y1="472.35" x2="158.74" y2="518.05" stroke="#fff" stroke-width="1.3"/>
<line x1="176.53" y1="472.35" x2="176.53" y2="518.05" stroke="#fff" stroke-width="1.3"/>
<line x1="194.32" y1="472.35" x2="194.32" y2="518.05" stroke="#fff" stroke-width="1.3"/>
<line x1="212.12" y1="472.35" x2="212.12" y2="518.05" stroke="#fff" stroke-width="1.3"/>
<line x1="156.1" y1="509.95" x2="217.3" y2="509.95" stroke="#fff" stroke-width="1"/>
<line x1="156.1" y1="497.72" x2="217.3" y2="497.72" stroke="#fff" stroke-width="1"/>
<line x1="156.1" y1="485.48" x2="217.3" y2="485.48" stroke="#fff" stroke-width="1"/>
<line x1="156.1" y1="473.25" x2="217.3" y2="473.25" stroke="#fff" stroke-width="1"/>
<line x1="156.1" y1="522.19" x2="217.3" y2="522.19" stroke="#fff" stroke-width="1"/>
<line x1="156.1" y1="516.07" x2="217.3" y2="516.07" stroke="#fff" stroke-width="1.3"/>
<line x1="156.1" y1="503.83" x2="217.3" y2="503.83" stroke="#fff" stroke-width="1.3"/>
<line x1="156.1" y1="491.6" x2="217.3" y2="491.6" stroke="#fff" stroke-width="1.3"/>
<line x1="156.1" y1="479.37" x2="217.3" y2="479.37" stroke="#fff" stroke-width="1.3"/>
<path d="M174.9 491.9h0M181.7 490.3h0M164.3 510.6h0M173.3 511.8h0M174 502.1h0M171.4 506.3h0M194.1 497.1h0M202.1 486.2h0M164.1 503.1h0M166.6 503.9h0M178.2 496.3h0M181.5 491.7h0M181.1 508h0M161.4 506.4h0M180.7 505h0M179.9 488.9h0M164.7 512.5h0M171.8 507.8h0M160.2 514.2h0M163.6 514.1h0M160 516h0M171.9 508.6h0M160.3 511.7h0M184.4 496h0M195.3 493.9h0M189.9 502.5h0M160.5 515.1h0M175.1 505.4h0M174.2 501.4h0M191.6 497.5h0M162.5 510.2h0M171.7 506.1h0M165.8 510.3h0M168.4 508.3h0M193.6 489.1h0M168.1 511.3h0M172.1 496.9h0M191.4 493.3h0M185.9 504.3h0M176.3 504.9h0M179 498.3h0M184.9 498.5h0M167.7 512.1h0M173.1 490.9h0M199.3 484.4h0M165.2 507.5h0M195.6 487.3h0M182.6 502h0M179.5 507.6h0M204.4 475.6h0M192.6 492.1h0M163.1 511.2h0M190.9 500.7h0M175 502.2h0M172.4 503h0M186.7 502.7h0M183.4 499.6h0M194.8 497.4h0M211.7 488.7h0M163.4 507.1h0M188.4 497.6h0M170.3 510.1h0M175.9 506h0M167.4 513.4h0M167.1 512.6h0M166 505.8h0M191.9 484h0M187.8 493.5h0M162.1 509.5h0M169.8 512h0M192.4 492.3h0M163.8 515.6h0M171 505.1h0M168.7 499.1h0M195.1 476.7h0M185.1 492.5h0M168 502.8h0M175.2 507.2h0M171.3 500.5h0M190.6 485.5h0M176.5 501.1h0M173.8 503.6h0M187.5 489.3h0M177.2 509h0M180.1 503.7h0M165.9 506.9h0M188 501.9h0M174.7 507.2h0M201.1 490.1h0M192.8 499.7h0M169.6 500.2h0M189.4 482.1h0M172.6 499h0M197.9 494.2h0M170.4 504.2h0M199.7 496.8h0M164.4 508.1h0M175.6 500.6h0M158.9 514.9h0M159.2 513.7h0M174.1 499.9h0M164.9 509.8h0M183.2 503.5h0M208.8 483.6h0M170.1 510.9h0M167.5 513.1h0M183 495.4h0M194.3 498.6h0M194.6 500.1h0M169.9 494.1h0M187.3 488.1h0M181.9 500h0M169 506.5h0M170.7 496.6h0M175.5 502.9h0M166.2 512.7h0M175.8 498.8h0M164 513h0M192.1 482.5h0M168.9 507.7h0M171.2 504.2h0M168.6 506.7h0M177.6 502.4h0M159.7 514.8h0M160.9 509.2h0M182.4 498.1h0M161.2 513.6h0M196.6 501h0M161.5 514.3h0M185.7 496.4h0M170.5 507.3h0M188.6 491.1h0M173.5 502.6h0M161.1 514.5h0M207.4 483.2h0M203 482.9h0M186.1 504h0M172.3 493.7h0M184.2 491.3h0M164.6 513.2h0M196.1 487.7h0M188.2 495.2h0M184.6 498h0M166.5 506.6h0M169.5 506.8h0M165.5 512.9h0M204.8 488.5h0M173.6 504.4h0M183.8 486.9h0M177 501.7h0M169.1 508.4h0M174.6 507.9h0M178.6 505.6h0M181.3 504.1h0M178 504.8h0M168.5 499.4h0M166.3 511.4h0M180.5 505.7h0M210.3 479h0M170.8 506.2h0M166.8 510.7h0M197 498.9h0M195.8 480.1h0M162.8 514.7h0M178.4 497.3h0M174.4 505.9h0M160.6 515.4h0M193.3 495h0M176.1 503.4h0M180.9 499.5h0M168.2 509.7h0M177.8 490.7h0M170.9 508.2h0M184 510.8h0M162.7 512.3h0M163.7 515.2h0M203.9 485.8h0M167.2 500.9h0M185.5 494.4h0M172.2 505.7h0M179.7 507h0M186.9 498.4h0M202.5 492.7h0M173.2 503.2h0M182.2 497.8h0M180.3 489.7h0M198.8 481.2h0M201.6 492.9h0M175.4 494.8h0M176.8 503.3h0M163.3 513.5h0M203.5 495.9h0M196.3 490.5h0M172.8 505.5h0M190.4 495.6h0M196.8 491.5h0M193.1 477.8h0M197.4 494.6h0M169.3 505.2h0M189.6 485.1h0M167.8 509.9h0M198.3 486.6h0M188.9 497.9h0M193.8 495.5h0M213.1 488.3h0M200.2 489.5h0M163 508.8h0M161.6 513.8h0M200.7 497h0M161.9 511h0M187.1 500.4h0M189.1 489.9h0M159.4 514.6h0M162.4 515.8h0M183.6 505.3h0M171.6 504.7h0M173 496.5h0M186.3 508.5h0M173.7 509.1h0M161.8 512.4h0M178.8 503.8h0M169.4 511.9h0M160.8 514h0M190.1 495.8h0M177.4 501.5h0M182.8 504.5h0M165 509.6h0M170 509.3h0M166.9 511.5h0M165.6 507.4h0M179.2 496.1h0M174.5 504.6h0M186.5 499.2h0M191.1 493.1h0M214.5 474.4h0M165.3 508.7h0M206 484.7h0M172.7 501.6h0M185.3 501.2h0M162.2 510.4h0" stroke="#000" stroke-width="3.8" stroke-linecap="round" fill="none"/>
<line x1="158.88" y1="513.02" x2="214.52" y2="480.06" stroke="#000" stroke-width="3.2"/>
</g></svg>
<svg x="220.4" y="472.35" width="61.2" height="45.7" overflow="hidden"><g transform="translate(-220.4 -472.35)">
<rect x="220.4" y="472.35" width="61.2" height="45.7" fill="#ebebeb" stroke="none" stroke-width="1"/>
<line x1="231.25" y1="472.35" x2="231.25" y2="518.05" stroke="#fff" stroke-width="1"/>
<line x1="247.63" y1="472.35" x2="247.63" y2="518.05" stroke="#fff" stroke-width="1"/>
<line x1="264.01" y1="472.35" x2="264.01" y2="518.05" stroke="#fff" stroke-width="1"/>
<line x1="280.4" y1="472.35" x2="280.4" y2="518.05" stroke="#fff" stroke-width="1"/>
<line x1="214.86" y1="472.35" x2="214.86" y2="518.05" stroke="#fff" stroke-width="1"/>
<line x1="223.05" y1="472.35" x2="223.05" y2="518.05" stroke="#fff" stroke-width="1.3"/>
<line x1="239.44" y1="472.35" x2="239.44" y2="518.05" stroke="#fff" stroke-width="1.3"/>
<line x1="255.82" y1="472.35" x2="255.82" y2="518.05" stroke="#fff" stroke-width="1.3"/>
<line x1="272.2" y1="472.35" x2="272.2" y2="518.05" stroke="#fff" stroke-width="1.3"/>
<line x1="220.4" y1="509.95" x2="281.6" y2="509.95" stroke="#fff" stroke-width="1"/>
<line x1="220.4" y1="497.72" x2="281.6" y2="497.72" stroke="#fff" stroke-width="1"/>
<line x1="220.4" y1="485.48" x2="281.6" y2="485.48" stroke="#fff" stroke-width="1"/>
<line x1="220.4" y1="473.25" x2="281.6" y2="473.25" stroke="#fff" stroke-width="1"/>
<line x1="220.4" y1="522.19" x2="281.6" y2="522.19" stroke="#fff" stroke-width="1"/>
<line x1="220.4" y1="516.07" x2="281.6" y2="516.07" stroke="#fff" stroke-width="1.3"/>
<line x1="220.4" y1="503.83" x2="281.6" y2="503.83" stroke="#fff" stroke-width="1.3"/>
<line x1="220.4" y1="491.6" x2="281.6" y2="491.6" stroke="#fff" stroke-width="1.3"/>
<line x1="220.4" y1="479.37" x2="281.6" y2="479.37" stroke="#fff" stroke-width="1.3"/>
<path d="M223.8 503.6 L224.22 502.54 L224.8 501.09 L225.48 499.37 L226.21 497.5 L226.94 495.6 L227.6 493.8 L228.21 492.02 L228.82 490.15 L229.42 488.25 L230 486.4 L230.57 484.66 L231.1 483.1 L231.6 481.71 L232.06 480.42 L232.5 479.24 L232.93 478.19 L233.36 477.27 L233.8 476.5 L234.25 475.88 L234.7 475.41 L235.15 475.07 L235.6 474.86 L236.05 474.74 L236.5 474.7 L236.94 474.77 L237.37 474.95 L237.8 475.24 L238.24 475.6 L238.7 476.03 L239.2 476.5 L239.74 477.05 L240.3 477.69 L240.89 478.39 L241.5 479.12 L242.1 479.84 L242.7 480.5 L243.3 481.07 L243.9 481.57 L244.5 482.05 L245.1 482.58 L245.7 483.21 L246.3 484 L246.89 484.99 L247.47 486.13 L248.05 487.38 L248.63 488.67 L249.21 489.96 L249.8 491.2 L250.39 492.43 L250.99 493.71 L251.59 494.99 L252.2 496.21 L252.8 497.33 L253.4 498.3 L253.99 499.12 L254.57 499.83 L255.15 500.44 L255.74 500.96 L256.35 501.37 L257 501.7 L257.7 501.89 L258.44 501.91 L259.2 501.85 L259.96 501.75 L260.7 501.68 L261.4 501.7 L262.04 501.76 L262.63 501.8 L263.2 501.86 L263.77 502 L264.36 502.27 L265 502.7 L265.69 503.36 L266.4 504.23 L267.14 505.21 L267.9 506.24 L268.65 507.23 L269.4 508.1 L270.14 508.87 L270.88 509.62 L271.62 510.33 L272.37 510.98 L273.13 511.58 L273.9 512.1 L274.75 512.55 L275.69 512.93 L276.63 513.25 L277.51 513.51 L278.26 513.73 L278.8 513.9" fill="none" stroke="#000" stroke-width="1.9" stroke-linejoin="round"/>
</g></svg>
<text x="315.3" y="491" font-size="8" text-anchor="middle" fill="#1a1a1a" dominant-baseline="central">r = 0.73</text>
<text x="315.3" y="500.8" font-size="8" text-anchor="middle" fill="#1a1a1a" dominant-baseline="central">p = 5.75e−34</text>
<text x="379.6" y="491" font-size="8" text-anchor="middle" fill="#1a1a1a" dominant-baseline="central">r = 0.71</text>
<text x="379.6" y="500.8" font-size="8" text-anchor="middle" fill="#1a1a1a" dominant-baseline="central">p = 1.71e−27</text>
<svg x="27.5" y="521.5" width="61.2" height="45.7" overflow="hidden"><g transform="translate(-27.5 -521.5)">
<rect x="27.5" y="521.5" width="61.2" height="45.7" fill="#ebebeb" stroke="none" stroke-width="1"/>
<line x1="36.97" y1="521.5" x2="36.97" y2="567.2" stroke="#fff" stroke-width="1"/>
<line x1="50.57" y1="521.5" x2="50.57" y2="567.2" stroke="#fff" stroke-width="1"/>
<line x1="64.16" y1="521.5" x2="64.16" y2="567.2" stroke="#fff" stroke-width="1"/>
<line x1="77.76" y1="521.5" x2="77.76" y2="567.2" stroke="#fff" stroke-width="1"/>
<line x1="91.36" y1="521.5" x2="91.36" y2="567.2" stroke="#fff" stroke-width="1"/>
<line x1="23.38" y1="521.5" x2="23.38" y2="567.2" stroke="#fff" stroke-width="1"/>
<line x1="30.17" y1="521.5" x2="30.17" y2="567.2" stroke="#fff" stroke-width="1.3"/>
<line x1="43.77" y1="521.5" x2="43.77" y2="567.2" stroke="#fff" stroke-width="1.3"/>
<line x1="57.37" y1="521.5" x2="57.37" y2="567.2" stroke="#fff" stroke-width="1.3"/>
<line x1="70.96" y1="521.5" x2="70.96" y2="567.2" stroke="#fff" stroke-width="1.3"/>
<line x1="84.56" y1="521.5" x2="84.56" y2="567.2" stroke="#fff" stroke-width="1.3"/>
<line x1="27.5" y1="557.84" x2="88.7" y2="557.84" stroke="#fff" stroke-width="1"/>
<line x1="27.5" y1="543.04" x2="88.7" y2="543.04" stroke="#fff" stroke-width="1"/>
<line x1="27.5" y1="528.25" x2="88.7" y2="528.25" stroke="#fff" stroke-width="1"/>
<line x1="27.5" y1="572.64" x2="88.7" y2="572.64" stroke="#fff" stroke-width="1"/>
<line x1="27.5" y1="565.24" x2="88.7" y2="565.24" stroke="#fff" stroke-width="1.3"/>
<line x1="27.5" y1="550.44" x2="88.7" y2="550.44" stroke="#fff" stroke-width="1.3"/>
<line x1="27.5" y1="535.64" x2="88.7" y2="535.64" stroke="#fff" stroke-width="1.3"/>
<path d="M44.1 557.4h0M55.1 544.7h0M43.1 556.3h0M39 560.8h0M41.3 561.1h0M41.7 562h0M48.1 549.9h0M52.9 529.7h0M39.3 552h0M33.4 558.4h0M38.1 544.1h0M49.8 550.9h0M55.5 547h0M37.7 560.6h0M41.6 547.6h0M52.1 534.2h0M38.8 561.9h0M42.4 560.9h0M31.6 564.1h0M34.5 563.3h0M31.9 564.4h0M49 545.4h0M36.6 561h0M52.6 554.6h0M43.3 543.9h0M47.6 544.9h0M30.5 565.1h0M45.7 560h0M41 552.9h0M48.2 547.3h0M32.8 561.4h0M36.2 550.1h0M43.6 555.4h0M44.4 553.8h0M57.1 531.2h0M41.8 556.8h0M49.7 558.6h0M43.8 538.6h0M41.9 555.2h0M45.1 553.4h0M50.3 542.6h0M42.3 552.1h0M34.4 562.6h0M47 540.3h0M66.2 530.8h0M33.9 562.4h0M56.8 535.5h0M56.2 541.9h0M38.2 556.2h0M65.4 537.7h0M46.7 543.4h0M41.5 562.1h0M53.8 554.1h0M57.3 541h0M48.5 545.5h0M55.9 543.3h0M47.3 557.1h0M54.5 532.8h0M61.8 535.8h0M40.4 561.2h0M56.6 546.3h0M44 553.5h0M48.7 552.7h0M33.6 560h0M39.1 559.2h0M53.9 557.7h0M59.1 537.5h0M60.2 533.5h0M33.2 562.5h0M34.9 558.2h0M55.2 541.8h0M32.6 559.3h0M40.5 558.8h0M44.2 542.8h0M59.9 536.3h0M56.1 541.6h0M36.8 551.2h0M42.1 550.7h0M40.6 546.5h0M67 530.5h0M39.7 558.5h0M45.9 557h0M57.8 542.1h0M43.5 549.2h0M42.2 544.2h0M36.5 560.3h0M46.6 543.8h0M38.7 548.1h0M62.1 536.1h0M62.3 550.2h0M45.3 556.9h0M54.6 549.6h0M39.4 545h0M60.7 540.5h0M41.4 542.5h0M49.3 538.2h0M39.8 557.3h0M46.2 538.9h0M35.2 563h0M34.1 563.9h0M44.3 553.2h0M40.2 559.9h0M57.6 551.7h0M67.8 524.6h0M36.1 552.6h0M35.4 561.8h0M51.3 545.9h0M59.4 549.4h0M51.6 552.3h0M40.7 548.9h0M52.5 540.7h0M52.4 538h0M38 563h0M44.7 544.6h0M49.5 553.1h0M37.6 559.4h0M50 545.2h0M38.5 563.4h0M58.3 541.2h0M50.4 546.7h0M52.2 539.5h0M51 555.7h0M50.1 551h0M31.4 564.9h0M31.7 556.5h0M54.4 536.6h0M30.3 563.8h0M51.9 539.3h0M34.3 564.7h0M58.1 536.4h0M37.9 546.2h0M47.9 537h0M46.5 540.9h0M31.8 561.7h0M63.7 538.4h0M76.4 526.6h0M47.5 557.9h0M40.9 554.2h0M40.3 551.5h0M37.1 558h0M57.9 535.2h0M36.3 554.7h0M46.9 554.4h0M34.8 561.8h0M44.8 558.1h0M39.2 562.4h0M64.6 540.2h0M42.8 558.7h0M60.5 539.1h0M46 559h0M38.9 561.5h0M42 560.5h0M35.7 555.8h0M40.8 548.4h0M46.3 543.1h0M42.5 560.4h0M34.6 562.8h0M42.6 554.8h0M57.2 532.5h0M37 559.6h0M37.4 554h0M54.2 548.3h0M61 537.9h0M36.7 563.6h0M45.4 551.8h0M35.6 556.4h0M31.3 564.2h0M58.6 546h0M50.9 548h0M39.9 545.7h0M44.5 560.6h0M55.6 539.8h0M47.8 553.6h0M43.2 560.2h0M35 561.3h0M32.3 560.7h0M85.9 536.8h0M41.2 562.2h0M57.5 548.6h0M43 546.8h0M42.7 547.5h0M35.3 562.3h0M53.4 528.7h0M49.4 559.1h0M40.1 547.1h0M53.5 542.3h0M61.5 532.2h0M51.8 539.6h0M50.7 552.4h0M39.6 553.7h0M34 562.9h0M55.8 552.5h0M54.9 525.6h0M43.4 548.8h0M48.8 534.8h0M51.5 544.4h0M56.5 533.8h0M61.3 531.8h0M35.8 547.8h0M62.9 533.2h0M33 563.2h0M53.2 538.7h0M56.9 555.1h0M55.4 549.1h0M85.9 527.7h0M59.7 537.2h0M37.2 561.2h0M32.2 563.1h0M54.1 531.5h0M39.5 555.5h0M45.6 551.3h0M58.9 534.5h0M32.5 563.5h0M30.7 564h0M51.2 541.4h0M48.4 555.9h0M50.6 554.3h0M42.9 556.6h0M38.4 559.5h0M31.1 559.7h0M49.1 556h0M33.7 560.1h0M30.9 563.6h0M53.7 550.5h0M53.1 557.6h0M43.7 537.3h0M33.5 550.4h0M37.5 555.3h0M33.1 561.6h0M40 557.5h0M45 549.7h0M35.9 554.9h0M54.8 542.9h0M47.2 543.6h0M76.4 523.6h0M32.1 562.7h0M52.8 540h0M38.6 559.8h0M56.4 553h0M32.7 563.7h0" stroke="#000" stroke-width="3.8" stroke-linecap="round" fill="none"/>
<line x1="30.28" y1="562.67" x2="85.92" y2="519.17" stroke="#000" stroke-width="3.2"/>
</g></svg>
<svg x="91.8" y="521.5" width="61.2" height="45.7" overflow="hidden"><g transform="translate(-91.8 -521.5)">
<rect x="91.8" y="521.5" width="61.2" height="45.7" fill="#ebebeb" stroke="none" stroke-width="1"/>
<line x1="102.14" y1="521.5" x2="102.14" y2="567.2" stroke="#fff" stroke-width="1"/>
<line x1="117.45" y1="521.5" x2="117.45" y2="567.2" stroke="#fff" stroke-width="1"/>
<line x1="132.76" y1="521.5" x2="132.76" y2="567.2" stroke="#fff" stroke-width="1"/>
<line x1="148.07" y1="521.5" x2="148.07" y2="567.2" stroke="#fff" stroke-width="1"/>
<line x1="86.83" y1="521.5" x2="86.83" y2="567.2" stroke="#fff" stroke-width="1"/>
<line x1="94.48" y1="521.5" x2="94.48" y2="567.2" stroke="#fff" stroke-width="1.3"/>
<line x1="109.79" y1="521.5" x2="109.79" y2="567.2" stroke="#fff" stroke-width="1.3"/>
<line x1="125.11" y1="521.5" x2="125.11" y2="567.2" stroke="#fff" stroke-width="1.3"/>
<line x1="140.42" y1="521.5" x2="140.42" y2="567.2" stroke="#fff" stroke-width="1.3"/>
<line x1="91.8" y1="557.84" x2="153" y2="557.84" stroke="#fff" stroke-width="1"/>
<line x1="91.8" y1="543.04" x2="153" y2="543.04" stroke="#fff" stroke-width="1"/>
<line x1="91.8" y1="528.25" x2="153" y2="528.25" stroke="#fff" stroke-width="1"/>
<line x1="91.8" y1="572.64" x2="153" y2="572.64" stroke="#fff" stroke-width="1"/>
<line x1="91.8" y1="565.24" x2="153" y2="565.24" stroke="#fff" stroke-width="1.3"/>
<line x1="91.8" y1="550.44" x2="153" y2="550.44" stroke="#fff" stroke-width="1.3"/>
<line x1="91.8" y1="535.64" x2="153" y2="535.64" stroke="#fff" stroke-width="1.3"/>
<path d="M110.1 557.4h0M112.4 544.7h0M105.9 556.3h0M101.2 560.8h0M112.6 561.1h0M98 562h0M102.8 549.9h0M117.9 529.7h0M99.9 552h0M105 558.4h0M117.1 544.1h0M107.8 550.9h0M103.8 547h0M99.8 560.6h0M114.2 547.6h0M103.6 534.2h0M99.7 561.9h0M100.7 560.9h0M97.7 564.1h0M96.5 563.3h0M95.7 564.4h0M101.1 545.4h0M96.7 561h0M117.4 554.6h0M113.8 543.9h0M104.7 544.9h0M94.6 565.1h0M98.5 560h0M105.8 552.9h0M110 547.3h0M97 561.4h0M103.3 550.1h0M97.8 555.4h0M101.4 553.8h0M119.5 531.2h0M105.4 556.8h0M116.4 558.6h0M117 538.6h0M100.8 555.2h0M106.8 553.4h0M106.5 542.6h0M105.5 552.1h0M99 562.6h0M104.7 540.3h0M134.3 530.8h0M96.8 562.4h0M118.6 535.5h0M108.9 541.9h0M100.3 556.2h0M127.8 537.7h0M115.1 543.4h0M98.1 562.1h0M110.8 554.1h0M114.4 541h0M101.7 545.5h0M115.7 543.3h0M102.3 557.1h0M112.7 532.8h0M122.7 535.8h0M97.1 561.2h0M111.8 546.3h0M104.5 553.5h0M109.1 552.7h0M98.4 560h0M101.9 559.2h0M102.6 557.7h0M116.7 537.5h0M118.1 533.5h0M98.9 562.5h0M98.7 558.2h0M116.1 541.8h0M95.8 559.3h0M103.3 558.8h0M105.2 542.8h0M124.4 536.3h0M108.4 541.6h0M106.9 551.2h0M105.4 550.7h0M107 546.5h0M143.5 530.5h0M101.9 558.5h0M104.2 557h0M114.8 542.1h0M109.2 549.2h0M107.3 544.2h0M96.4 560.3h0M111.3 543.8h0M109 548.1h0M126.9 536.1h0M116.3 550.2h0M102 556.9h0M120 549.6h0M104.4 545h0M108.3 540.5h0M110.3 542.5h0M107.9 538.2h0M96.2 557.3h0M109.7 538.9h0M99.4 563h0M95.5 563.9h0M106 553.2h0M106.4 559.9h0M117.3 551.7h0M149.6 524.6h0M100.5 552.6h0M99.2 561.8h0M107.5 545.9h0M115.3 549.4h0M108.7 552.3h0M106.3 548.9h0M120.8 540.7h0M111 538h0M100 563h0M111.6 544.6h0M112.2 553.1h0M102.9 559.4h0M112.9 545.2h0M100.1 563.4h0M121.1 541.2h0M105.7 546.7h0M102.7 539.5h0M104.8 555.7h0M106.6 551h0M95.9 564.9h0M96 556.5h0M111.1 536.6h0M95.2 563.8h0M113.2 539.3h0M94.8 564.7h0M114.7 536.4h0M104 546.2h0M118.4 537h0M107.1 540.9h0M97.4 561.7h0M125.2 538.4h0M112 526.6h0M107.2 557.9h0M108.1 554.2h0M110.2 551.5h0M105.6 558h0M126.1 535.2h0M104.3 554.7h0M109.8 554.4h0M104 561.8h0M101.3 558.1h0M98.8 562.4h0M136.1 540.2h0M115.4 558.7h0M117.7 539.1h0M108.8 559h0M102.6 561.5h0M111.9 560.5h0M103.1 555.8h0M115 548.4h0M101.5 543.1h0M104.6 560.4h0M97.6 562.8h0M103.9 554.8h0M145.3 532.5h0M98.6 559.6h0M97.9 554h0M113.4 548.3h0M121.4 537.9h0M95.6 563.6h0M111.7 551.8h0M104.1 556.4h0M97.3 564.2h0M114.1 546h0M112.8 548h0M108.2 545.7h0M105.1 560.6h0M109.3 539.8h0M100.9 553.6h0M107.7 560.2h0M98.3 561.3h0M100.6 560.7h0M123.6 536.8h0M101 562.2h0M112.5 548.6h0M106.1 546.8h0M108 547.5h0M101.6 562.3h0M113.1 528.7h0M111.2 559.1h0M116.9 547.1h0M117.6 542.3h0M122.2 532.2h0M116.6 539.6h0M119.2 552.4h0M102.5 553.7h0M96.3 562.9h0M118.9 552.5h0M121.9 525.6h0M103.7 548.8h0M106.2 534.8h0M110.7 544.4h0M120.3 533.8h0M114.5 531.8h0M103.4 547.8h0M132.5 533.2h0M100.2 563.2h0M116 538.7h0M115.5 555.1h0M113.5 549.1h0M144.1 527.7h0M119.7 537.2h0M102.2 561.2h0M96.6 563.1h0M113.7 531.5h0M99.1 555.5h0M107.4 551.3h0M121.7 534.5h0M95.4 563.5h0M95 564h0M109.9 541.4h0M120.6 555.9h0M110.5 554.3h0M108.5 556.6h0M103.2 559.5h0M102.4 559.7h0M105.3 556h0M99.5 560.1h0M99.6 563.6h0M115.8 550.5h0M111.5 557.6h0M110.9 537.3h0M106.1 550.4h0M109.6 555.3h0M101.8 561.6h0M103 557.5h0M102.1 549.7h0M103.5 554.9h0M112.1 542.9h0M113.9 543.6h0M150.2 523.6h0M97.5 562.7h0M110.6 540h0M109.4 559.8h0M104.9 553h0M96.9 563.7h0" stroke="#000" stroke-width="3.8" stroke-linecap="round" fill="none"/>
<line x1="94.58" y1="561.15" x2="150.22" y2="517.57" stroke="#000" stroke-width="3.2"/>
</g></svg>
<svg x="156.1" y="521.5" width="61.2" height="45.7" overflow="hidden"><g transform="translate(-156.1 -521.5)">
<rect x="156.1" y="521.5" width="61.2" height="45.7" fill="#ebebeb" stroke="none" stroke-width="1"/>
<line x1="167.64" y1="521.5" x2="167.64" y2="567.2" stroke="#fff" stroke-width="1"/>
<line x1="185.43" y1="521.5" x2="185.43" y2="567.2" stroke="#fff" stroke-width="1"/>
<line x1="203.22" y1="521.5" x2="203.22" y2="567.2" stroke="#fff" stroke-width="1"/>
<line x1="221.01" y1="521.5" x2="221.01" y2="567.2" stroke="#fff" stroke-width="1"/>
<line x1="149.85" y1="521.5" x2="149.85" y2="567.2" stroke="#fff" stroke-width="1"/>
<line x1="158.74" y1="521.5" x2="158.74" y2="567.2" stroke="#fff" stroke-width="1.3"/>
<line x1="176.53" y1="521.5" x2="176.53" y2="567.2" stroke="#fff" stroke-width="1.3"/>
<line x1="194.32" y1="521.5" x2="194.32" y2="567.2" stroke="#fff" stroke-width="1.3"/>
<line x1="212.12" y1="521.5" x2="212.12" y2="567.2" stroke="#fff" stroke-width="1.3"/>
<line x1="156.1" y1="557.84" x2="217.3" y2="557.84" stroke="#fff" stroke-width="1"/>
<line x1="156.1" y1="543.04" x2="217.3" y2="543.04" stroke="#fff" stroke-width="1"/>
<line x1="156.1" y1="528.25" x2="217.3" y2="528.25" stroke="#fff" stroke-width="1"/>
<line x1="156.1" y1="572.64" x2="217.3" y2="572.64" stroke="#fff" stroke-width="1"/>
<line x1="156.1" y1="565.24" x2="217.3" y2="565.24" stroke="#fff" stroke-width="1.3"/>
<line x1="156.1" y1="550.44" x2="217.3" y2="550.44" stroke="#fff" stroke-width="1.3"/>
<line x1="156.1" y1="535.64" x2="217.3" y2="535.64" stroke="#fff" stroke-width="1.3"/>
<path d="M174.9 557.4h0M181.7 544.7h0M164.3 556.3h0M173.3 560.8h0M174 561.1h0M171.4 562h0M194.1 549.9h0M202.1 529.7h0M164.1 552h0M166.6 558.4h0M178.2 544.1h0M181.5 550.9h0M181.1 547h0M161.4 560.6h0M180.7 547.6h0M179.9 534.2h0M164.7 561.9h0M171.8 560.9h0M160.2 564.1h0M163.6 563.3h0M160 564.4h0M171.9 545.4h0M160.3 561h0M184.4 554.6h0M195.3 543.9h0M189.9 544.9h0M160.5 565.1h0M175.1 560h0M174.2 552.9h0M191.6 547.3h0M162.5 561.4h0M171.7 550.1h0M165.8 555.4h0M168.4 553.8h0M193.6 531.2h0M168.1 556.8h0M172.1 558.6h0M191.4 538.6h0M185.9 555.2h0M176.3 553.4h0M179 542.6h0M184.9 552.1h0M167.7 562.6h0M173.1 540.3h0M199.3 530.8h0M165.2 562.4h0M195.6 535.5h0M182.6 541.9h0M179.5 556.2h0M204.4 537.7h0M192.6 543.4h0M163.1 562.1h0M190.9 554.1h0M175 541h0M172.4 545.5h0M186.7 543.3h0M183.4 557.1h0M194.8 532.8h0M211.7 535.8h0M163.4 561.2h0M188.4 546.3h0M170.3 553.5h0M175.9 552.7h0M167.4 560h0M167.1 559.2h0M166 557.7h0M191.9 537.5h0M187.8 533.5h0M162.1 562.5h0M169.8 558.2h0M192.4 541.8h0M163.8 559.3h0M171 558.8h0M168.7 542.8h0M195.1 536.3h0M185.1 541.6h0M168 551.2h0M175.2 550.7h0M171.3 546.5h0M190.6 530.5h0M176.5 558.5h0M173.8 557h0M187.5 542.1h0M177.2 549.2h0M180.1 544.2h0M165.9 560.3h0M188 543.8h0M174.7 548.1h0M201.1 536.1h0M192.8 550.2h0M169.6 556.9h0M189.4 549.6h0M172.6 545h0M197.9 540.5h0M170.4 542.5h0M199.7 538.2h0M164.4 557.3h0M175.6 538.9h0M158.9 563h0M159.2 563.9h0M174.1 553.2h0M164.9 559.9h0M183.2 551.7h0M208.8 524.6h0M170.1 552.6h0M167.5 561.8h0M183 545.9h0M194.3 549.4h0M194.6 552.3h0M169.9 548.9h0M187.3 540.7h0M181.9 538h0M169 563h0M170.7 544.6h0M175.5 553.1h0M166.2 559.4h0M175.8 545.2h0M164 563.4h0M192.1 541.2h0M168.9 546.7h0M171.2 539.5h0M168.6 555.7h0M177.6 551h0M159.7 564.9h0M160.9 556.5h0M182.4 536.6h0M161.2 563.8h0M196.6 539.3h0M161.5 564.7h0M185.7 536.4h0M170.5 546.2h0M188.6 537h0M173.5 540.9h0M161.1 561.7h0M207.4 538.4h0M203 526.6h0M186.1 557.9h0M172.3 554.2h0M184.2 551.5h0M164.6 558h0M196.1 535.2h0M188.2 554.7h0M184.6 554.4h0M166.5 561.8h0M169.5 558.1h0M165.5 562.4h0M204.8 540.2h0M173.6 558.7h0M183.8 539.1h0M177 559h0M169.1 561.5h0M174.6 560.5h0M178.6 555.8h0M181.3 548.4h0M178 543.1h0M168.5 560.4h0M166.3 562.8h0M180.5 554.8h0M210.3 532.5h0M170.8 559.6h0M166.8 554h0M197 548.3h0M195.8 537.9h0M162.8 563.6h0M178.4 551.8h0M174.4 556.4h0M160.6 564.2h0M193.3 546h0M176.1 548h0M180.9 545.7h0M168.2 560.6h0M177.8 539.8h0M170.9 553.6h0M184 560.2h0M162.7 561.3h0M163.7 560.7h0M203.9 536.8h0M167.2 562.2h0M185.5 548.6h0M172.2 546.8h0M179.7 547.5h0M186.9 562.3h0M202.5 528.7h0M173.2 559.1h0M182.2 547.1h0M180.3 542.3h0M198.8 532.2h0M201.6 539.6h0M175.4 552.4h0M176.8 553.7h0M163.3 562.9h0M203.5 552.5h0M196.3 525.6h0M172.8 548.8h0M190.4 534.8h0M196.8 544.4h0M193.1 533.8h0M197.4 531.8h0M169.3 547.8h0M189.6 533.2h0M167.8 563.2h0M198.3 538.7h0M188.9 555.1h0M193.8 549.1h0M213.1 527.7h0M200.2 537.2h0M163 561.2h0M161.6 563.1h0M200.7 531.5h0M161.9 555.5h0M187.1 551.3h0M189.1 534.5h0M159.4 563.5h0M162.4 564h0M183.6 541.4h0M171.6 555.9h0M173 554.3h0M186.3 556.6h0M173.7 559.5h0M161.8 559.7h0M178.8 556h0M169.4 560.1h0M160.8 563.6h0M190.1 550.5h0M177.4 557.6h0M182.8 537.3h0M165 550.4h0M170 555.3h0M166.9 561.6h0M165.6 557.5h0M179.2 549.7h0M174.5 554.9h0M186.5 542.9h0M191.1 543.6h0M214.5 523.6h0M165.3 562.7h0M206 540h0M172.7 559.8h0M185.3 553h0M162.2 563.7h0" stroke="#000" stroke-width="3.8" stroke-linecap="round" fill="none"/>
<line x1="158.88" y1="562.48" x2="214.52" y2="528.19" stroke="#000" stroke-width="3.2"/>
</g></svg>
<svg x="220.4" y="521.5" width="61.2" height="45.7" overflow="hidden"><g transform="translate(-220.4 -521.5)">
<rect x="220.4" y="521.5" width="61.2" height="45.7" fill="#ebebeb" stroke="none" stroke-width="1"/>
<line x1="231.25" y1="521.5" x2="231.25" y2="567.2" stroke="#fff" stroke-width="1"/>
<line x1="247.63" y1="521.5" x2="247.63" y2="567.2" stroke="#fff" stroke-width="1"/>
<line x1="264.01" y1="521.5" x2="264.01" y2="567.2" stroke="#fff" stroke-width="1"/>
<line x1="280.4" y1="521.5" x2="280.4" y2="567.2" stroke="#fff" stroke-width="1"/>
<line x1="214.86" y1="521.5" x2="214.86" y2="567.2" stroke="#fff" stroke-width="1"/>
<line x1="223.05" y1="521.5" x2="223.05" y2="567.2" stroke="#fff" stroke-width="1.3"/>
<line x1="239.44" y1="521.5" x2="239.44" y2="567.2" stroke="#fff" stroke-width="1.3"/>
<line x1="255.82" y1="521.5" x2="255.82" y2="567.2" stroke="#fff" stroke-width="1.3"/>
<line x1="272.2" y1="521.5" x2="272.2" y2="567.2" stroke="#fff" stroke-width="1.3"/>
<line x1="220.4" y1="557.84" x2="281.6" y2="557.84" stroke="#fff" stroke-width="1"/>
<line x1="220.4" y1="543.04" x2="281.6" y2="543.04" stroke="#fff" stroke-width="1"/>
<line x1="220.4" y1="528.25" x2="281.6" y2="528.25" stroke="#fff" stroke-width="1"/>
<line x1="220.4" y1="572.64" x2="281.6" y2="572.64" stroke="#fff" stroke-width="1"/>
<line x1="220.4" y1="565.24" x2="281.6" y2="565.24" stroke="#fff" stroke-width="1.3"/>
<line x1="220.4" y1="550.44" x2="281.6" y2="550.44" stroke="#fff" stroke-width="1.3"/>
<line x1="220.4" y1="535.64" x2="281.6" y2="535.64" stroke="#fff" stroke-width="1.3"/>
<path d="M255.4 557.4h0M257.5 544.7h0M230.4 556.3h0M228.8 560.8h0M241.7 561.1h0M236.1 562h0M248.4 549.9h0M263 529.7h0M240.4 552h0M239.4 558.4h0M249.6 544.1h0M255.7 550.9h0M233.9 547h0M236 560.6h0M237.9 547.6h0M259.4 534.2h0M227.8 561.9h0M234.1 560.9h0M225.5 564.1h0M225.7 563.3h0M223.2 564.4h0M233 545.4h0M229 561h0M249.9 554.6h0M252.8 543.9h0M241.2 544.9h0M224.4 565.1h0M237.4 560h0M242.7 552.9h0M247.9 547.3h0M230.9 561.4h0M236.4 550.1h0M230.8 555.4h0M233.5 553.8h0M259.1 531.2h0M229.5 556.8h0M248.7 558.6h0M253.6 538.6h0M238.8 555.2h0M238 553.4h0M246.9 542.6h0M246.6 552.1h0M228.3 562.6h0M256.8 540.3h0M265.5 530.8h0M234.5 562.4h0M261.6 535.5h0M241.9 541.9h0M234.4 556.2h0M277.3 537.7h0M255.2 543.4h0M229.6 562.1h0M243.6 554.1h0M241.6 541h0M240.5 545.5h0M240.9 543.3h0M245.1 557.1h0M248.1 532.8h0M259.7 535.8h0M235.1 561.2h0M247.7 546.3h0M231.1 553.5h0M236.5 552.7h0M226.7 560h0M227.7 559.2h0M236.7 557.7h0M266 537.5h0M253.3 533.5h0M231.9 562.5h0M228.5 558.2h0M254.9 541.8h0M223.7 559.3h0M237.8 558.8h0M245.7 542.8h0M275.8 536.3h0M254.6 541.6h0M240.8 551.2h0M234.9 550.7h0M243.9 546.5h0M264 530.5h0M243.1 558.5h0M239.8 557h0M258.9 542.1h0M232.6 549.2h0M239.6 544.2h0M235.4 560.3h0M242.1 543.8h0M235 548.1h0M257.8 536.1h0M244.9 550.2h0M244.2 556.9h0M268.5 549.6h0M245.9 545h0M252.3 540.5h0M239 542.5h0M248.9 538.2h0M233.7 557.3h0M243.7 538.9h0M224.6 563h0M226.2 563.9h0M244.7 553.2h0M231.4 559.9h0M239.9 551.7h0M266.5 524.6h0M229.9 552.6h0M227 561.8h0M250.7 545.9h0M246.4 549.4h0M244.4 552.3h0M252.5 548.9h0M260.6 540.7h0M244.6 538h0M235.9 563h0M249.1 544.6h0M240.6 553.1h0M227.5 559.4h0M246.2 545.2h0M227.2 563.4h0M268 541.2h0M234.2 546.7h0M238.9 539.5h0M235.6 555.7h0M241.4 551h0M224.7 564.9h0M232.2 556.5h0M247.1 536.6h0M226.4 563.8h0M243.2 539.3h0M225.4 564.7h0M249.4 536.4h0M234.7 546.2h0M256.5 537h0M241.1 540.9h0M225.2 561.7h0M267 538.4h0M267.5 526.6h0M239.3 557.9h0M253.1 554.2h0M256.2 551.5h0M226.8 558h0M261.1 535.2h0M251 554.7h0M247.2 554.4h0M235.7 561.8h0M235.5 558.1h0M227.3 562.4h0M259.9 540.2h0M238.6 558.7h0M262 539.1h0M242.2 559h0M233.4 561.5h0M234 560.5h0M237.1 555.8h0M239.1 548.4h0M238.1 543.1h0M245.4 560.4h0M229.3 562.8h0M237 554.8h0M272.7 532.5h0M236.2 559.6h0M230.3 554h0M246.1 548.3h0M271.2 537.9h0M224.9 563.6h0M248.2 551.8h0M236.6 556.4h0M223.9 564.2h0M251.2 546h0M240 548h0M245.2 545.7h0M231.6 560.6h0M257 539.8h0M233.6 553.6h0M230.1 560.2h0M228.2 561.3h0M224.2 560.7h0M263.5 536.8h0M243.4 562.2h0M252 548.6h0M236.9 546.8h0M235.2 547.5h0M246.7 562.3h0M254.4 528.7h0M240.3 559.1h0M247.6 547.1h0M258.3 542.3h0M269.7 532.2h0M254.1 539.6h0M251.5 552.4h0M240.1 553.7h0M226.5 562.9h0M250.1 552.5h0M257.3 525.6h0M237.3 548.8h0M250.4 534.8h0M256 544.4h0M274.3 533.8h0M251.7 531.8h0M237.6 547.8h0M264.5 533.2h0M231.3 563.2h0M262.5 538.7h0M247.4 555.1h0M250.6 549.1h0M260.2 527.7h0M258.6 537.2h0M232.7 561.2h0M226 563.1h0M248.6 531.5h0M229.8 555.5h0M244.1 551.3h0M258.1 534.5h0M225 563.5h0M223.4 564h0M237.5 541.4h0M238.3 555.9h0M249.2 554.3h0M233.2 556.6h0M232.4 559.5h0M228 559.7h0M239.5 556h0M228.6 560.1h0M225.9 563.6h0M250.2 550.5h0M242.6 557.6h0M238.5 537.3h0M231.7 550.4h0M232.1 555.3h0M229.1 561.6h0M234.6 557.5h0M249.7 549.7h0M238.4 554.9h0M245.6 542.9h0M253.9 543.6h0M278.8 523.6h0M232.9 562.7h0M265 540h0M242.4 559.8h0M242.9 553h0M230.6 563.7h0" stroke="#000" stroke-width="3.8" stroke-linecap="round" fill="none"/>
<line x1="223.18" y1="563.11" x2="278.82" y2="526.79" stroke="#000" stroke-width="3.2"/>
</g></svg>
<svg x="284.7" y="521.5" width="61.2" height="45.7" overflow="hidden"><g transform="translate(-284.7 -521.5)">
<rect x="284.7" y="521.5" width="61.2" height="45.7" fill="#ebebeb" stroke="none" stroke-width="1"/>
<line x1="297.23" y1="521.5" x2="297.23" y2="567.2" stroke="#fff" stroke-width="1"/>
<line x1="317.05" y1="521.5" x2="317.05" y2="567.2" stroke="#fff" stroke-width="1"/>
<line x1="336.87" y1="521.5" x2="336.87" y2="567.2" stroke="#fff" stroke-width="1"/>
<line x1="277.42" y1="521.5" x2="277.42" y2="567.2" stroke="#fff" stroke-width="1"/>
<line x1="287.33" y1="521.5" x2="287.33" y2="567.2" stroke="#fff" stroke-width="1.3"/>
<line x1="307.14" y1="521.5" x2="307.14" y2="567.2" stroke="#fff" stroke-width="1.3"/>
<line x1="326.96" y1="521.5" x2="326.96" y2="567.2" stroke="#fff" stroke-width="1.3"/>
<line x1="284.7" y1="557.84" x2="345.9" y2="557.84" stroke="#fff" stroke-width="1"/>
<line x1="284.7" y1="543.04" x2="345.9" y2="543.04" stroke="#fff" stroke-width="1"/>
<line x1="284.7" y1="528.25" x2="345.9" y2="528.25" stroke="#fff" stroke-width="1"/>
<line x1="284.7" y1="572.64" x2="345.9" y2="572.64" stroke="#fff" stroke-width="1"/>
<line x1="284.7" y1="565.24" x2="345.9" y2="565.24" stroke="#fff" stroke-width="1.3"/>
<line x1="284.7" y1="550.44" x2="345.9" y2="550.44" stroke="#fff" stroke-width="1.3"/>
<line x1="284.7" y1="535.64" x2="345.9" y2="535.64" stroke="#fff" stroke-width="1.3"/>
<path d="M288 545.4 L288.29 544.2 L288.7 542.53 L289.18 540.55 L289.7 538.46 L290.22 536.45 L290.7 534.7 L291.15 533.15 L291.59 531.65 L292.02 530.23 L292.47 528.9 L292.93 527.72 L293.4 526.7 L293.88 525.85 L294.37 525.14 L294.87 524.57 L295.39 524.13 L295.93 523.81 L296.5 523.6 L297.1 523.53 L297.72 523.59 L298.36 523.78 L299.04 524.07 L299.75 524.45 L300.5 524.9 L301.31 525.45 L302.17 526.12 L303.06 526.87 L303.98 527.69 L304.9 528.54 L305.8 529.4 L306.71 530.28 L307.63 531.21 L308.56 532.17 L309.47 533.15 L310.36 534.13 L311.2 535.1 L311.99 536.07 L312.74 537.04 L313.46 538.02 L314.16 538.99 L314.87 539.96 L315.6 540.9 L316.33 541.85 L317.06 542.8 L317.79 543.74 L318.54 544.66 L319.3 545.51 L320.1 546.3 L320.93 547.01 L321.77 547.67 L322.64 548.27 L323.54 548.83 L324.46 549.34 L325.4 549.8 L326.4 550.21 L327.46 550.56 L328.55 550.86 L329.63 551.13 L330.65 551.37 L331.6 551.6 L332.46 551.77 L333.26 551.87 L334.01 551.94 L334.73 552.03 L335.42 552.2 L336.1 552.5 L336.75 552.93 L337.37 553.47 L337.96 554.08 L338.54 554.74 L339.12 555.42 L339.7 556.1 L340.33 556.84 L341 557.67 L341.68 558.53 L342.3 559.33 L342.82 560.01 L343.2 560.5" fill="none" stroke="#000" stroke-width="1.9" stroke-linejoin="round"/>
</g></svg>
<text x="379.6" y="540.15" font-size="8" text-anchor="middle" fill="#1a1a1a" dominant-baseline="central">r = 0.63</text>
<text x="379.6" y="549.95" font-size="8" text-anchor="middle" fill="#1a1a1a" dominant-baseline="central">p = 6.98e−20</text>
<svg x="27.5" y="570.65" width="61.2" height="45.7" overflow="hidden"><g transform="translate(-27.5 -570.65)">
<rect x="27.5" y="570.65" width="61.2" height="45.7" fill="#ebebeb" stroke="none" stroke-width="1"/>
<line x1="36.97" y1="570.65" x2="36.97" y2="616.35" stroke="#fff" stroke-width="1"/>
<line x1="50.57" y1="570.65" x2="50.57" y2="616.35" stroke="#fff" stroke-width="1"/>
<line x1="64.16" y1="570.65" x2="64.16" y2="616.35" stroke="#fff" stroke-width="1"/>
<line x1="77.76" y1="570.65" x2="77.76" y2="616.35" stroke="#fff" stroke-width="1"/>
<line x1="91.36" y1="570.65" x2="91.36" y2="616.35" stroke="#fff" stroke-width="1"/>
<line x1="23.38" y1="570.65" x2="23.38" y2="616.35" stroke="#fff" stroke-width="1"/>
<line x1="30.17" y1="570.65" x2="30.17" y2="616.35" stroke="#fff" stroke-width="1.3"/>
<line x1="43.77" y1="570.65" x2="43.77" y2="616.35" stroke="#fff" stroke-width="1.3"/>
<line x1="57.37" y1="570.65" x2="57.37" y2="616.35" stroke="#fff" stroke-width="1.3"/>
<line x1="70.96" y1="570.65" x2="70.96" y2="616.35" stroke="#fff" stroke-width="1.3"/>
<line x1="84.56" y1="570.65" x2="84.56" y2="616.35" stroke="#fff" stroke-width="1.3"/>
<line x1="27.5" y1="608.85" x2="88.7" y2="608.85" stroke="#fff" stroke-width="1"/>
<line x1="27.5" y1="597.82" x2="88.7" y2="597.82" stroke="#fff" stroke-width="1"/>
<line x1="27.5" y1="586.79" x2="88.7" y2="586.79" stroke="#fff" stroke-width="1"/>
<line x1="27.5" y1="575.76" x2="88.7" y2="575.76" stroke="#fff" stroke-width="1"/>
<line x1="27.5" y1="619.87" x2="88.7" y2="619.87" stroke="#fff" stroke-width="1"/>
<line x1="27.5" y1="614.36" x2="88.7" y2="614.36" stroke="#fff" stroke-width="1.3"/>
<line x1="27.5" y1="603.33" x2="88.7" y2="603.33" stroke="#fff" stroke-width="1.3"/>
<line x1="27.5" y1="592.3" x2="88.7" y2="592.3" stroke="#fff" stroke-width="1.3"/>
<line x1="27.5" y1="581.27" x2="88.7" y2="581.27" stroke="#fff" stroke-width="1.3"/>
<path d="M44.1 607.5h0M55.1 608h0M43.1 608.8h0M39 611h0M41.3 612.3h0M41.7 612.8h0M48.1 609.7h0M52.9 595.5h0M39.3 605.5h0M33.4 609.1h0M38.1 604.7h0M49.8 599.6h0M55.5 610.5h0M37.7 609.4h0M41.6 609.5h0M52.1 610.3h0M38.8 608.7h0M42.4 605.7h0M31.6 613.8h0M34.5 612.6h0M31.9 613.3h0M49 608.6h0M36.6 613.3h0M52.6 607.3h0M43.3 604.6h0M47.6 607.8h0M30.5 613.4h0M45.7 610.4h0M41 599.9h0M48.2 608.6h0M32.8 612.9h0M36.2 612.7h0M43.6 613h0M44.4 609h0M57.1 602.5h0M41.8 610.7h0M49.7 607.4h0M43.8 603.9h0M41.9 611.1h0M45.1 609.6h0M50.3 607.8h0M42.3 604.3h0M34.4 612h0M47 608.4h0M66.2 599.8h0M33.9 612.9h0M56.8 601.5h0M56.2 603h0M38.2 603.7h0M65.4 590.5h0M46.7 601.9h0M41.5 612.7h0M53.8 609.4h0M57.3 606.1h0M48.5 610.8h0M55.9 603.5h0M47.3 609.1h0M54.5 599.5h0M61.8 597.6h0M40.4 611.5h0M56.6 609.6h0M44 605.4h0M48.7 604.7h0M33.6 610.1h0M39.1 608.9h0M53.9 604h0M59.1 601.6h0M60.2 596.9h0M33.2 608.5h0M34.9 612.7h0M55.2 598.3h0M32.6 612.6h0M40.5 609.3h0M44.2 605.6h0M59.9 593.3h0M56.1 604.1h0M36.8 608.3h0M42.1 611.3h0M40.6 610.6h0M67 598.1h0M39.7 610.4h0M45.9 609h0M57.8 603.1h0M43.5 611.2h0M42.2 602.4h0M36.5 610.8h0M46.6 605h0M38.7 610.7h0M62.1 598.5h0M62.3 600.8h0M45.3 606.2h0M54.6 607.6h0M39.4 607.2h0M60.7 591.2h0M41.4 611.6h0M49.3 599.3h0M39.8 612.5h0M46.2 605.2h0M35.2 612.3h0M34.1 614.3h0M44.3 608.9h0M40.2 609.2h0M57.6 606.7h0M67.8 591.9h0M36.1 611.5h0M35.4 611.7h0M51.3 600.9h0M59.4 606.5h0M51.6 605.9h0M40.7 611.4h0M52.5 599.4h0M52.4 603.8h0M38 613.5h0M44.7 607.7h0M49.5 610.1h0M37.6 612.6h0M50 600h0M38.5 612.8h0M58.3 603.6h0M50.4 601.4h0M52.2 606.3h0M51 606.6h0M50.1 606.8h0M31.4 613.9h0M31.7 612.5h0M54.4 600.6h0M30.3 613.1h0M51.9 601.2h0M34.3 613.1h0M58.1 602.2h0M37.9 612.3h0M47.9 595.7h0M46.5 606.4h0M31.8 613.4h0M63.7 599.1h0M76.4 594.7h0M47.5 605.7h0M40.9 609.7h0M40.3 610.2h0M37.1 612h0M57.9 604.5h0M36.3 612.4h0M46.9 605.1h0M34.8 612.1h0M44.8 610.3h0M39.2 611.2h0M64.6 596.2h0M42.8 608.1h0M60.5 592.6h0M46 604.9h0M38.9 611.7h0M42 607.1h0M35.7 610h0M40.8 609.9h0M46.3 609.8h0M42.5 609.9h0M34.6 613.5h0M42.6 611.9h0M57.2 596.7h0M37 611.8h0M37.4 613.2h0M54.2 606.2h0M61 597.4h0M36.7 612.9h0M45.4 611h0M35.6 609.8h0M31.3 613.6h0M58.6 602.6h0M50.9 603.2h0M39.9 608.8h0M44.5 612.1h0M55.6 600.3h0M47.8 611.1h0M43.2 609.3h0M35 612.1h0M32.3 611.4h0M85.9 604.4h0M41.2 611.8h0M57.5 608.2h0M43 610.5h0M42.7 611.6h0M35.3 611.8h0M53.4 601.7h0M49.4 610.9h0M40.1 607.9h0M53.5 606h0M61.5 601.1h0M51.8 602.1h0M50.7 598.7h0M39.6 610h0M34 613h0M55.8 600.4h0M54.9 602.8h0M43.4 607.3h0M48.8 600.5h0M51.5 604.1h0M56.5 602h0M61.3 597.1h0M35.8 610.9h0M62.9 572.7h0M33 613.1h0M53.2 603.6h0M56.9 605.2h0M55.4 594h0M85.9 595.3h0M59.7 597.8h0M37.2 612.8h0M32.2 613.2h0M54.1 599h0M39.5 611.9h0M45.6 601h0M58.9 600.1h0M32.5 612.2h0M30.7 613.4h0M51.2 603.3h0M48.4 610.6h0M50.6 609.5h0M42.9 606.9h0M38.4 612h0M31.1 614.1h0M49.1 605.8h0M33.7 612.5h0M30.9 613.2h0M53.7 604.2h0M53.1 608.3h0M43.7 602.7h0M33.5 613h0M37.5 612.2h0M33.1 611.9h0M40 611.7h0M45 606.8h0M35.9 612.2h0M54.8 607h0M47.2 604.8h0M76.4 596h0M32.1 613.3h0M52.8 596.4h0M38.6 605.3h0M56.4 608.7h0M32.7 612.4h0" stroke="#000" stroke-width="3.8" stroke-linecap="round" fill="none"/>
<line x1="30.28" y1="613.83" x2="85.92" y2="589.32" stroke="#000" stroke-width="3.2"/>
</g></svg>
<svg x="91.8" y="570.65" width="61.2" height="45.7" overflow="hidden"><g transform="translate(-91.8 -570.65)">
<rect x="91.8" y="570.65" width="61.2" height="45.7" fill="#ebebeb" stroke="none" stroke-width="1"/>
<line x1="102.14" y1="570.65" x2="102.14" y2="616.35" stroke="#fff" stroke-width="1"/>
<line x1="117.45" y1="570.65" x2="117.45" y2="616.35" stroke="#fff" stroke-width="1"/>
<line x1="132.76" y1="570.65" x2="132.76" y2="616.35" stroke="#fff" stroke-width="1"/>
<line x1="148.07" y1="570.65" x2="148.07" y2="616.35" stroke="#fff" stroke-width="1"/>
<line x1="86.83" y1="570.65" x2="86.83" y2="616.35" stroke="#fff" stroke-width="1"/>
<line x1="94.48" y1="570.65" x2="94.48" y2="616.35" stroke="#fff" stroke-width="1.3"/>
<line x1="109.79" y1="570.65" x2="109.79" y2="616.35" stroke="#fff" stroke-width="1.3"/>
<line x1="125.11" y1="570.65" x2="125.11" y2="616.35" stroke="#fff" stroke-width="1.3"/>
<line x1="140.42" y1="570.65" x2="140.42" y2="616.35" stroke="#fff" stroke-width="1.3"/>
<line x1="91.8" y1="608.85" x2="153" y2="608.85" stroke="#fff" stroke-width="1"/>
<line x1="91.8" y1="597.82" x2="153" y2="597.82" stroke="#fff" stroke-width="1"/>
<line x1="91.8" y1="586.79" x2="153" y2="586.79" stroke="#fff" stroke-width="1"/>
<line x1="91.8" y1="575.76" x2="153" y2="575.76" stroke="#fff" stroke-width="1"/>
<line x1="91.8" y1="619.87" x2="153" y2="619.87" stroke="#fff" stroke-width="1"/>
<line x1="91.8" y1="614.36" x2="153" y2="614.36" stroke="#fff" stroke-width="1.3"/>
<line x1="91.8" y1="603.33" x2="153" y2="603.33" stroke="#fff" stroke-width="1.3"/>
<line x1="91.8" y1="592.3" x2="153" y2="592.3" stroke="#fff" stroke-width="1.3"/>
<line x1="91.8" y1="581.27" x2="153" y2="581.27" stroke="#fff" stroke-width="1.3"/>
<path d="M110.1 607.5h0M112.4 608h0M105.9 608.8h0M101.2 611h0M112.6 612.3h0M98 612.8h0M102.8 609.7h0M117.9 595.5h0M99.9 605.5h0M105 609.1h0M117.1 604.7h0M107.8 599.6h0M103.8 610.5h0M99.8 609.4h0M114.2 609.5h0M103.6 610.3h0M99.7 608.7h0M100.7 605.7h0M97.7 613.8h0M96.5 612.6h0M95.7 613.3h0M101.1 608.6h0M96.7 613.3h0M117.4 607.3h0M113.8 604.6h0M104.7 607.8h0M94.6 613.4h0M98.5 610.4h0M105.8 599.9h0M110 608.6h0M97 612.9h0M103.3 612.7h0M97.8 613h0M101.4 609h0M119.5 602.5h0M105.4 610.7h0M116.4 607.4h0M117 603.9h0M100.8 611.1h0M106.8 609.6h0M106.5 607.8h0M105.5 604.3h0M99 612h0M104.7 608.4h0M134.3 599.8h0M96.8 612.9h0M118.6 601.5h0M108.9 603h0M100.3 603.7h0M127.8 590.5h0M115.1 601.9h0M98.1 612.7h0M110.8 609.4h0M114.4 606.1h0M101.7 610.8h0M115.7 603.5h0M102.3 609.1h0M112.7 599.5h0M122.7 597.6h0M97.1 611.5h0M111.8 609.6h0M104.5 605.4h0M109.1 604.7h0M98.4 610.1h0M101.9 608.9h0M102.6 604h0M116.7 601.6h0M118.1 596.9h0M98.9 608.5h0M98.7 612.7h0M116.1 598.3h0M95.8 612.6h0M103.3 609.3h0M105.2 605.6h0M124.4 593.3h0M108.4 604.1h0M106.9 608.3h0M105.4 611.3h0M107 610.6h0M143.5 598.1h0M101.9 610.4h0M104.2 609h0M114.8 603.1h0M109.2 611.2h0M107.3 602.4h0M96.4 610.8h0M111.3 605h0M109 610.7h0M126.9 598.5h0M116.3 600.8h0M102 606.2h0M120 607.6h0M104.4 607.2h0M108.3 591.2h0M110.3 611.6h0M107.9 599.3h0M96.2 612.5h0M109.7 605.2h0M99.4 612.3h0M95.5 614.3h0M106 608.9h0M106.4 609.2h0M117.3 606.7h0M149.6 591.9h0M100.5 611.5h0M99.2 611.7h0M107.5 600.9h0M115.3 606.5h0M108.7 605.9h0M106.3 611.4h0M120.8 599.4h0M111 603.8h0M100 613.5h0M111.6 607.7h0M112.2 610.1h0M102.9 612.6h0M112.9 600h0M100.1 612.8h0M121.1 603.6h0M105.7 601.4h0M102.7 606.3h0M104.8 606.6h0M106.6 606.8h0M95.9 613.9h0M96 612.5h0M111.1 600.6h0M95.2 613.1h0M113.2 601.2h0M94.8 613.1h0M114.7 602.2h0M104 612.3h0M118.4 595.7h0M107.1 606.4h0M97.4 613.4h0M125.2 599.1h0M112 594.7h0M107.2 605.7h0M108.1 609.7h0M110.2 610.2h0M105.6 612h0M126.1 604.5h0M104.3 612.4h0M109.8 605.1h0M104 612.1h0M101.3 610.3h0M98.8 611.2h0M136.1 596.2h0M115.4 608.1h0M117.7 592.6h0M108.8 604.9h0M102.6 611.7h0M111.9 607.1h0M103.1 610h0M115 609.9h0M101.5 609.8h0M104.6 609.9h0M97.6 613.5h0M103.9 611.9h0M145.3 596.7h0M98.6 611.8h0M97.9 613.2h0M113.4 606.2h0M121.4 597.4h0M95.6 612.9h0M111.7 611h0M104.1 609.8h0M97.3 613.6h0M114.1 602.6h0M112.8 603.2h0M108.2 608.8h0M105.1 612.1h0M109.3 600.3h0M100.9 611.1h0M107.7 609.3h0M98.3 612.1h0M100.6 611.4h0M123.6 604.4h0M101 611.8h0M112.5 608.2h0M106.1 610.5h0M108 611.6h0M101.6 611.8h0M113.1 601.7h0M111.2 610.9h0M116.9 607.9h0M117.6 606h0M122.2 601.1h0M116.6 602.1h0M119.2 598.7h0M102.5 610h0M96.3 613h0M118.9 600.4h0M121.9 602.8h0M103.7 607.3h0M106.2 600.5h0M110.7 604.1h0M120.3 602h0M114.5 597.1h0M103.4 610.9h0M132.5 572.7h0M100.2 613.1h0M116 603.6h0M115.5 605.2h0M113.5 594h0M144.1 595.3h0M119.7 597.8h0M102.2 612.8h0M96.6 613.2h0M113.7 599h0M99.1 611.9h0M107.4 601h0M121.7 600.1h0M95.4 612.2h0M95 613.4h0M109.9 603.3h0M120.6 610.6h0M110.5 609.5h0M108.5 606.9h0M103.2 612h0M102.4 614.1h0M105.3 605.8h0M99.5 612.5h0M99.6 613.2h0M115.8 604.2h0M111.5 608.3h0M110.9 602.7h0M106.1 613h0M109.6 612.2h0M101.8 611.9h0M103 611.7h0M102.1 606.8h0M103.5 612.2h0M112.1 607h0M113.9 604.8h0M150.2 596h0M97.5 613.3h0M110.6 596.4h0M109.4 605.3h0M104.9 608.7h0M96.9 612.4h0" stroke="#000" stroke-width="3.8" stroke-linecap="round" fill="none"/>
<line x1="94.58" y1="612.99" x2="150.22" y2="588.35" stroke="#000" stroke-width="3.2"/>
</g></svg>
<svg x="156.1" y="570.65" width="61.2" height="45.7" overflow="hidden"><g transform="translate(-156.1 -570.65)">
<rect x="156.1" y="570.65" width="61.2" height="45.7" fill="#ebebeb" stroke="none" stroke-width="1"/>
<line x1="167.64" y1="570.65" x2="167.64" y2="616.35" stroke="#fff" stroke-width="1"/>
<line x1="185.43" y1="570.65" x2="185.43" y2="616.35" stroke="#fff" stroke-width="1"/>
<line x1="203.22" y1="570.65" x2="203.22" y2="616.35" stroke="#fff" stroke-width="1"/>
<line x1="221.01" y1="570.65" x2="221.01" y2="616.35" stroke="#fff" stroke-width="1"/>
<line x1="149.85" y1="570.65" x2="149.85" y2="616.35" stroke="#fff" stroke-width="1"/>
<line x1="158.74" y1="570.65" x2="158.74" y2="616.35" stroke="#fff" stroke-width="1.3"/>
<line x1="176.53" y1="570.65" x2="176.53" y2="616.35" stroke="#fff" stroke-width="1.3"/>
<line x1="194.32" y1="570.65" x2="194.32" y2="616.35" stroke="#fff" stroke-width="1.3"/>
<line x1="212.12" y1="570.65" x2="212.12" y2="616.35" stroke="#fff" stroke-width="1.3"/>
<line x1="156.1" y1="608.85" x2="217.3" y2="608.85" stroke="#fff" stroke-width="1"/>
<line x1="156.1" y1="597.82" x2="217.3" y2="597.82" stroke="#fff" stroke-width="1"/>
<line x1="156.1" y1="586.79" x2="217.3" y2="586.79" stroke="#fff" stroke-width="1"/>
<line x1="156.1" y1="575.76" x2="217.3" y2="575.76" stroke="#fff" stroke-width="1"/>
<line x1="156.1" y1="619.87" x2="217.3" y2="619.87" stroke="#fff" stroke-width="1"/>
<line x1="156.1" y1="614.36" x2="217.3" y2="614.36" stroke="#fff" stroke-width="1.3"/>
<line x1="156.1" y1="603.33" x2="217.3" y2="603.33" stroke="#fff" stroke-width="1.3"/>
<line x1="156.1" y1="592.3" x2="217.3" y2="592.3" stroke="#fff" stroke-width="1.3"/>
<line x1="156.1" y1="581.27" x2="217.3" y2="581.27" stroke="#fff" stroke-width="1.3"/>
<path d="M174.9 607.5h0M181.7 608h0M164.3 608.8h0M173.3 611h0M174 612.3h0M171.4 612.8h0M194.1 609.7h0M202.1 595.5h0M164.1 605.5h0M166.6 609.1h0M178.2 604.7h0M181.5 599.6h0M181.1 610.5h0M161.4 609.4h0M180.7 609.5h0M179.9 610.3h0M164.7 608.7h0M171.8 605.7h0M160.2 613.8h0M163.6 612.6h0M160 613.3h0M171.9 608.6h0M160.3 613.3h0M184.4 607.3h0M195.3 604.6h0M189.9 607.8h0M160.5 613.4h0M175.1 610.4h0M174.2 599.9h0M191.6 608.6h0M162.5 612.9h0M171.7 612.7h0M165.8 613h0M168.4 609h0M193.6 602.5h0M168.1 610.7h0M172.1 607.4h0M191.4 603.9h0M185.9 611.1h0M176.3 609.6h0M179 607.8h0M184.9 604.3h0M167.7 612h0M173.1 608.4h0M199.3 599.8h0M165.2 612.9h0M195.6 601.5h0M182.6 603h0M179.5 603.7h0M204.4 590.5h0M192.6 601.9h0M163.1 612.7h0M190.9 609.4h0M175 606.1h0M172.4 610.8h0M186.7 603.5h0M183.4 609.1h0M194.8 599.5h0M211.7 597.6h0M163.4 611.5h0M188.4 609.6h0M170.3 605.4h0M175.9 604.7h0M167.4 610.1h0M167.1 608.9h0M166 604h0M191.9 601.6h0M187.8 596.9h0M162.1 608.5h0M169.8 612.7h0M192.4 598.3h0M163.8 612.6h0M171 609.3h0M168.7 605.6h0M195.1 593.3h0M185.1 604.1h0M168 608.3h0M175.2 611.3h0M171.3 610.6h0M190.6 598.1h0M176.5 610.4h0M173.8 609h0M187.5 603.1h0M177.2 611.2h0M180.1 602.4h0M165.9 610.8h0M188 605h0M174.7 610.7h0M201.1 598.5h0M192.8 600.8h0M169.6 606.2h0M189.4 607.6h0M172.6 607.2h0M197.9 591.2h0M170.4 611.6h0M199.7 599.3h0M164.4 612.5h0M175.6 605.2h0M158.9 612.3h0M159.2 614.3h0M174.1 608.9h0M164.9 609.2h0M183.2 606.7h0M208.8 591.9h0M170.1 611.5h0M167.5 611.7h0M183 600.9h0M194.3 606.5h0M194.6 605.9h0M169.9 611.4h0M187.3 599.4h0M181.9 603.8h0M169 613.5h0M170.7 607.7h0M175.5 610.1h0M166.2 612.6h0M175.8 600h0M164 612.8h0M192.1 603.6h0M168.9 601.4h0M171.2 606.3h0M168.6 606.6h0M177.6 606.8h0M159.7 613.9h0M160.9 612.5h0M182.4 600.6h0M161.2 613.1h0M196.6 601.2h0M161.5 613.1h0M185.7 602.2h0M170.5 612.3h0M188.6 595.7h0M173.5 606.4h0M161.1 613.4h0M207.4 599.1h0M203 594.7h0M186.1 605.7h0M172.3 609.7h0M184.2 610.2h0M164.6 612h0M196.1 604.5h0M188.2 612.4h0M184.6 605.1h0M166.5 612.1h0M169.5 610.3h0M165.5 611.2h0M204.8 596.2h0M173.6 608.1h0M183.8 592.6h0M177 604.9h0M169.1 611.7h0M174.6 607.1h0M178.6 610h0M181.3 609.9h0M178 609.8h0M168.5 609.9h0M166.3 613.5h0M180.5 611.9h0M210.3 596.7h0M170.8 611.8h0M166.8 613.2h0M197 606.2h0M195.8 597.4h0M162.8 612.9h0M178.4 611h0M174.4 609.8h0M160.6 613.6h0M193.3 602.6h0M176.1 603.2h0M180.9 608.8h0M168.2 612.1h0M177.8 600.3h0M170.9 611.1h0M184 609.3h0M162.7 612.1h0M163.7 611.4h0M203.9 604.4h0M167.2 611.8h0M185.5 608.2h0M172.2 610.5h0M179.7 611.6h0M186.9 611.8h0M202.5 601.7h0M173.2 610.9h0M182.2 607.9h0M180.3 606h0M198.8 601.1h0M201.6 602.1h0M175.4 598.7h0M176.8 610h0M163.3 613h0M203.5 600.4h0M196.3 602.8h0M172.8 607.3h0M190.4 600.5h0M196.8 604.1h0M193.1 602h0M197.4 597.1h0M169.3 610.9h0M189.6 572.7h0M167.8 613.1h0M198.3 603.6h0M188.9 605.2h0M193.8 594h0M213.1 595.3h0M200.2 597.8h0M163 612.8h0M161.6 613.2h0M200.7 599h0M161.9 611.9h0M187.1 601h0M189.1 600.1h0M159.4 612.2h0M162.4 613.4h0M183.6 603.3h0M171.6 610.6h0M173 609.5h0M186.3 606.9h0M173.7 612h0M161.8 614.1h0M178.8 605.8h0M169.4 612.5h0M160.8 613.2h0M190.1 604.2h0M177.4 608.3h0M182.8 602.7h0M165 613h0M170 612.2h0M166.9 611.9h0M165.6 611.7h0M179.2 606.8h0M174.5 612.2h0M186.5 607h0M191.1 604.8h0M214.5 596h0M165.3 613.3h0M206 596.4h0M172.7 605.3h0M185.3 608.7h0M162.2 612.4h0" stroke="#000" stroke-width="3.8" stroke-linecap="round" fill="none"/>
<line x1="158.88" y1="613.53" x2="214.52" y2="594.74" stroke="#000" stroke-width="3.2"/>
</g></svg>
<svg x="220.4" y="570.65" width="61.2" height="45.7" overflow="hidden"><g transform="translate(-220.4 -570.65)">
<rect x="220.4" y="570.65" width="61.2" height="45.7" fill="#ebebeb" stroke="none" stroke-width="1"/>
<line x1="231.25" y1="570.65" x2="231.25" y2="616.35" stroke="#fff" stroke-width="1"/>
<line x1="247.63" y1="570.65" x2="247.63" y2="616.35" stroke="#fff" stroke-width="1"/>
<line x1="264.01" y1="570.65" x2="264.01" y2="616.35" stroke="#fff" stroke-width="1"/>
<line x1="280.4" y1="570.65" x2="280.4" y2="616.35" stroke="#fff" stroke-width="1"/>
<line x1="214.86" y1="570.65" x2="214.86" y2="616.35" stroke="#fff" stroke-width="1"/>
<line x1="223.05" y1="570.65" x2="223.05" y2="616.35" stroke="#fff" stroke-width="1.3"/>
<line x1="239.44" y1="570.65" x2="239.44" y2="616.35" stroke="#fff" stroke-width="1.3"/>
<line x1="255.82" y1="570.65" x2="255.82" y2="616.35" stroke="#fff" stroke-width="1.3"/>
<line x1="272.2" y1="570.65" x2="272.2" y2="616.35" stroke="#fff" stroke-width="1.3"/>
<line x1="220.4" y1="608.85" x2="281.6" y2="608.85" stroke="#fff" stroke-width="1"/>
<line x1="220.4" y1="597.82" x2="281.6" y2="597.82" stroke="#fff" stroke-width="1"/>
<line x1="220.4" y1="586.79" x2="281.6" y2="586.79" stroke="#fff" stroke-width="1"/>
<line x1="220.4" y1="575.76" x2="281.6" y2="575.76" stroke="#fff" stroke-width="1"/>
<line x1="220.4" y1="619.87" x2="281.6" y2="619.87" stroke="#fff" stroke-width="1"/>
<line x1="220.4" y1="614.36" x2="281.6" y2="614.36" stroke="#fff" stroke-width="1.3"/>
<line x1="220.4" y1="603.33" x2="281.6" y2="603.33" stroke="#fff" stroke-width="1.3"/>
<line x1="220.4" y1="592.3" x2="281.6" y2="592.3" stroke="#fff" stroke-width="1.3"/>
<line x1="220.4" y1="581.27" x2="281.6" y2="581.27" stroke="#fff" stroke-width="1.3"/>
<path d="M255.4 607.5h0M257.5 608h0M230.4 608.8h0M228.8 611h0M241.7 612.3h0M236.1 612.8h0M248.4 609.7h0M263 595.5h0M240.4 605.5h0M239.4 609.1h0M249.6 604.7h0M255.7 599.6h0M233.9 610.5h0M236 609.4h0M237.9 609.5h0M259.4 610.3h0M227.8 608.7h0M234.1 605.7h0M225.5 613.8h0M225.7 612.6h0M223.2 613.3h0M233 608.6h0M229 613.3h0M249.9 607.3h0M252.8 604.6h0M241.2 607.8h0M224.4 613.4h0M237.4 610.4h0M242.7 599.9h0M247.9 608.6h0M230.9 612.9h0M236.4 612.7h0M230.8 613h0M233.5 609h0M259.1 602.5h0M229.5 610.7h0M248.7 607.4h0M253.6 603.9h0M238.8 611.1h0M238 609.6h0M246.9 607.8h0M246.6 604.3h0M228.3 612h0M256.8 608.4h0M265.5 599.8h0M234.5 612.9h0M261.6 601.5h0M241.9 603h0M234.4 603.7h0M277.3 590.5h0M255.2 601.9h0M229.6 612.7h0M243.6 609.4h0M241.6 606.1h0M240.5 610.8h0M240.9 603.5h0M245.1 609.1h0M248.1 599.5h0M259.7 597.6h0M235.1 611.5h0M247.7 609.6h0M231.1 605.4h0M236.5 604.7h0M226.7 610.1h0M227.7 608.9h0M236.7 604h0M266 601.6h0M253.3 596.9h0M231.9 608.5h0M228.5 612.7h0M254.9 598.3h0M223.7 612.6h0M237.8 609.3h0M245.7 605.6h0M275.8 593.3h0M254.6 604.1h0M240.8 608.3h0M234.9 611.3h0M243.9 610.6h0M264 598.1h0M243.1 610.4h0M239.8 609h0M258.9 603.1h0M232.6 611.2h0M239.6 602.4h0M235.4 610.8h0M242.1 605h0M235 610.7h0M257.8 598.5h0M244.9 600.8h0M244.2 606.2h0M268.5 607.6h0M245.9 607.2h0M252.3 591.2h0M239 611.6h0M248.9 599.3h0M233.7 612.5h0M243.7 605.2h0M224.6 612.3h0M226.2 614.3h0M244.7 608.9h0M231.4 609.2h0M239.9 606.7h0M266.5 591.9h0M229.9 611.5h0M227 611.7h0M250.7 600.9h0M246.4 606.5h0M244.4 605.9h0M252.5 611.4h0M260.6 599.4h0M244.6 603.8h0M235.9 613.5h0M249.1 607.7h0M240.6 610.1h0M227.5 612.6h0M246.2 600h0M227.2 612.8h0M268 603.6h0M234.2 601.4h0M238.9 606.3h0M235.6 606.6h0M241.4 606.8h0M224.7 613.9h0M232.2 612.5h0M247.1 600.6h0M226.4 613.1h0M243.2 601.2h0M225.4 613.1h0M249.4 602.2h0M234.7 612.3h0M256.5 595.7h0M241.1 606.4h0M225.2 613.4h0M267 599.1h0M267.5 594.7h0M239.3 605.7h0M253.1 609.7h0M256.2 610.2h0M226.8 612h0M261.1 604.5h0M251 612.4h0M247.2 605.1h0M235.7 612.1h0M235.5 610.3h0M227.3 611.2h0M259.9 596.2h0M238.6 608.1h0M262 592.6h0M242.2 604.9h0M233.4 611.7h0M234 607.1h0M237.1 610h0M239.1 609.9h0M238.1 609.8h0M245.4 609.9h0M229.3 613.5h0M237 611.9h0M272.7 596.7h0M236.2 611.8h0M230.3 613.2h0M246.1 606.2h0M271.2 597.4h0M224.9 612.9h0M248.2 611h0M236.6 609.8h0M223.9 613.6h0M251.2 602.6h0M240 603.2h0M245.2 608.8h0M231.6 612.1h0M257 600.3h0M233.6 611.1h0M230.1 609.3h0M228.2 612.1h0M224.2 611.4h0M263.5 604.4h0M243.4 611.8h0M252 608.2h0M236.9 610.5h0M235.2 611.6h0M246.7 611.8h0M254.4 601.7h0M240.3 610.9h0M247.6 607.9h0M258.3 606h0M269.7 601.1h0M254.1 602.1h0M251.5 598.7h0M240.1 610h0M226.5 613h0M250.1 600.4h0M257.3 602.8h0M237.3 607.3h0M250.4 600.5h0M256 604.1h0M274.3 602h0M251.7 597.1h0M237.6 610.9h0M264.5 572.7h0M231.3 613.1h0M262.5 603.6h0M247.4 605.2h0M250.6 594h0M260.2 595.3h0M258.6 597.8h0M232.7 612.8h0M226 613.2h0M248.6 599h0M229.8 611.9h0M244.1 601h0M258.1 600.1h0M225 612.2h0M223.4 613.4h0M237.5 603.3h0M238.3 610.6h0M249.2 609.5h0M233.2 606.9h0M232.4 612h0M228 614.1h0M239.5 605.8h0M228.6 612.5h0M225.9 613.2h0M250.2 604.2h0M242.6 608.3h0M238.5 602.7h0M231.7 613h0M232.1 612.2h0M229.1 611.9h0M234.6 611.7h0M249.7 606.8h0M238.4 612.2h0M245.6 607h0M253.9 604.8h0M278.8 596h0M232.9 613.3h0M265 596.4h0M242.4 605.3h0M242.9 608.7h0M230.6 612.4h0" stroke="#000" stroke-width="3.8" stroke-linecap="round" fill="none"/>
<line x1="223.18" y1="613.85" x2="278.82" y2="594.03" stroke="#000" stroke-width="3.2"/>
</g></svg>
<svg x="284.7" y="570.65" width="61.2" height="45.7" overflow="hidden"><g transform="translate(-284.7 -570.65)">
<rect x="284.7" y="570.65" width="61.2" height="45.7" fill="#ebebeb" stroke="none" stroke-width="1"/>
<line x1="297.23" y1="570.65" x2="297.23" y2="616.35" stroke="#fff" stroke-width="1"/>
<line x1="317.05" y1="570.65" x2="317.05" y2="616.35" stroke="#fff" stroke-width="1"/>
<line x1="336.87" y1="570.65" x2="336.87" y2="616.35" stroke="#fff" stroke-width="1"/>
<line x1="277.42" y1="570.65" x2="277.42" y2="616.35" stroke="#fff" stroke-width="1"/>
<line x1="287.33" y1="570.65" x2="287.33" y2="616.35" stroke="#fff" stroke-width="1.3"/>
<line x1="307.14" y1="570.65" x2="307.14" y2="616.35" stroke="#fff" stroke-width="1.3"/>
<line x1="326.96" y1="570.65" x2="326.96" y2="616.35" stroke="#fff" stroke-width="1.3"/>
<line x1="284.7" y1="608.85" x2="345.9" y2="608.85" stroke="#fff" stroke-width="1"/>
<line x1="284.7" y1="597.82" x2="345.9" y2="597.82" stroke="#fff" stroke-width="1"/>
<line x1="284.7" y1="586.79" x2="345.9" y2="586.79" stroke="#fff" stroke-width="1"/>
<line x1="284.7" y1="575.76" x2="345.9" y2="575.76" stroke="#fff" stroke-width="1"/>
<line x1="284.7" y1="619.87" x2="345.9" y2="619.87" stroke="#fff" stroke-width="1"/>
<line x1="284.7" y1="614.36" x2="345.9" y2="614.36" stroke="#fff" stroke-width="1.3"/>
<line x1="284.7" y1="603.33" x2="345.9" y2="603.33" stroke="#fff" stroke-width="1.3"/>
<line x1="284.7" y1="592.3" x2="345.9" y2="592.3" stroke="#fff" stroke-width="1.3"/>
<line x1="284.7" y1="581.27" x2="345.9" y2="581.27" stroke="#fff" stroke-width="1.3"/>
<path d="M297.9 607.5h0M314.8 608h0M299.3 608.8h0M293.3 611h0M292.9 612.3h0M291.7 612.8h0M307.9 609.7h0M334.9 595.5h0M305.1 605.5h0M296.5 609.1h0M315.7 604.7h0M306.6 599.6h0M311.8 610.5h0M293.5 609.4h0M310.9 609.5h0M328.9 610.3h0M291.8 608.7h0M293.1 605.7h0M288.9 613.8h0M289.9 612.6h0M288.4 613.3h0M313.9 608.6h0M293 613.3h0M301.6 607.3h0M315.9 604.6h0M314.6 607.8h0M287.5 613.4h0M294.4 610.4h0M303.9 599.9h0M311.3 608.6h0M292.5 612.9h0M307.7 612.7h0M300.5 613h0M302.6 609h0M332.9 602.5h0M298.7 610.7h0M296.2 607.4h0M323 603.9h0M300.8 611.1h0M303.2 609.6h0M317.6 607.8h0M304.9 604.3h0M290.8 612h0M320.7 608.4h0M333.4 599.8h0M291.2 612.9h0M327.1 601.5h0M318.5 603h0M299.5 603.7h0M324.2 590.5h0M316.5 601.9h0M291.5 612.7h0M302.3 609.4h0M319.7 606.1h0M313.7 610.8h0M316.8 603.5h0M298.2 609.1h0M330.7 599.5h0M326.7 597.6h0M292.8 611.5h0M312.6 609.6h0M303.1 605.4h0M304.1 604.7h0M294.3 610.1h0M295.4 608.9h0M297.4 604h0M324.5 601.6h0M329.8 596.9h0M291 608.5h0M296.7 612.7h0M318.8 598.3h0M295.2 612.6h0M295.9 609.3h0M317.4 605.6h0M326.1 593.3h0M319 604.1h0M306.2 608.3h0M306.8 611.3h0M312.4 610.6h0M333.8 598.1h0M296.4 610.4h0M298.3 609h0M318.3 603.1h0M308.7 611.2h0M315.5 602.4h0M293.9 610.8h0M316.1 605h0M310.3 610.7h0M326.4 598.5h0M307.5 600.8h0M298.5 606.2h0M308.3 607.6h0M314.4 607.2h0M320.4 591.2h0M317.8 611.6h0M323.5 599.3h0M298 612.5h0M322.6 605.2h0M290.3 612.3h0M289.1 614.3h0M303.4 608.9h0M294.5 609.2h0M305.5 606.7h0M341.8 591.9h0M304.2 611.5h0M291.9 611.7h0M313.3 600.9h0M308.5 606.5h0M304.7 605.9h0M309.2 611.4h0M320.2 599.4h0M323.7 603.8h0M290.4 613.5h0M315 607.7h0M303.6 610.1h0M295.1 612.6h0M314.2 600h0M289.8 612.8h0M319.5 603.6h0M312.2 601.4h0M321.9 606.3h0M300.1 606.6h0M306.4 606.8h0M287.8 613.9h0M299 612.5h0M325.6 600.6h0M289.2 613.1h0M322.1 601.2h0M288.1 613.1h0M325.9 602.2h0M312.9 612.3h0M325.2 595.7h0M320 606.4h0M292.1 613.4h0M323.3 599.1h0M339 594.7h0M297.2 605.7h0M302.1 609.7h0M305.7 610.2h0M297 612h0M327.6 604.5h0M301.4 612.4h0M301.8 605.1h0M292 612.1h0M296.9 610.3h0M291.1 611.2h0M320.9 596.2h0M296.1 608.1h0M322.3 592.6h0M295.7 604.9h0M292.3 611.7h0M293.7 607.1h0M300 610h0M309.8 609.9h0M317 609.8h0M293.8 609.9h0M290.6 613.5h0M301.3 611.9h0M331.2 596.7h0M294.9 611.8h0M302.4 613.2h0M310 606.2h0M324 597.4h0M289.6 612.9h0M305.3 611h0M299.2 609.8h0M288.7 613.6h0M313.1 602.6h0M310.5 603.2h0M313.5 608.8h0M293.6 612.1h0M321.4 600.3h0M302.9 611.1h0M294.1 609.3h0M292.6 612.1h0M293.4 611.4h0M325.4 604.4h0M291.4 611.8h0M309.6 608.2h0M312 610.5h0M311.1 611.6h0M291.3 611.8h0M336.3 601.7h0M295.6 610.9h0M311.6 607.9h0M318.1 606h0M331.6 601.1h0M321.6 602.1h0M304.6 598.7h0M302.8 610h0M290.5 613h0M304.4 600.4h0M340.4 602.8h0M309.4 607.3h0M328 600.5h0M315.2 604.1h0M329.4 602h0M332.1 597.1h0M310.7 610.9h0M330.3 572.7h0M290 613.1h0M322.8 603.6h0M301 605.2h0M309 594h0M337.7 595.3h0M324.9 597.8h0M292.7 612.8h0M290.2 613.2h0M332.5 599h0M300.3 611.9h0M305.9 601h0M328.5 600.1h0M289.7 612.2h0M289 613.4h0M319.2 603.3h0M299.8 610.6h0M301.9 609.5h0M298.8 606.9h0M295 612h0M294.8 614.1h0M299.6 605.8h0M294.2 612.5h0M289.5 613.2h0M307 604.2h0M297.5 608.3h0M324.7 602.7h0M307.2 613h0M300.6 612.2h0M292.2 611.9h0M297.7 611.7h0M308.1 606.8h0M301.1 612.2h0M317.2 607h0M316.3 604.8h0M343.1 596h0M290.7 613.3h0M321.1 596.4h0M294.6 605.3h0M303.7 608.7h0M289.4 612.4h0" stroke="#000" stroke-width="3.8" stroke-linecap="round" fill="none"/>
<line x1="287.48" y1="613.33" x2="343.12" y2="595.18" stroke="#000" stroke-width="3.2"/>
</g></svg>
<svg x="349" y="570.65" width="61.2" height="45.7" overflow="hidden"><g transform="translate(-349 -570.65)">
<rect x="349" y="570.65" width="61.2" height="45.7" fill="#ebebeb" stroke="none" stroke-width="1"/>
<line x1="359.05" y1="570.65" x2="359.05" y2="616.35" stroke="#fff" stroke-width="1"/>
<line x1="373.82" y1="570.65" x2="373.82" y2="616.35" stroke="#fff" stroke-width="1"/>
<line x1="388.59" y1="570.65" x2="388.59" y2="616.35" stroke="#fff" stroke-width="1"/>
<line x1="403.36" y1="570.65" x2="403.36" y2="616.35" stroke="#fff" stroke-width="1"/>
<line x1="344.28" y1="570.65" x2="344.28" y2="616.35" stroke="#fff" stroke-width="1"/>
<line x1="351.67" y1="570.65" x2="351.67" y2="616.35" stroke="#fff" stroke-width="1.3"/>
<line x1="366.43" y1="570.65" x2="366.43" y2="616.35" stroke="#fff" stroke-width="1.3"/>
<line x1="381.2" y1="570.65" x2="381.2" y2="616.35" stroke="#fff" stroke-width="1.3"/>
<line x1="395.97" y1="570.65" x2="395.97" y2="616.35" stroke="#fff" stroke-width="1.3"/>
<line x1="349" y1="608.85" x2="410.2" y2="608.85" stroke="#fff" stroke-width="1"/>
<line x1="349" y1="597.82" x2="410.2" y2="597.82" stroke="#fff" stroke-width="1"/>
<line x1="349" y1="586.79" x2="410.2" y2="586.79" stroke="#fff" stroke-width="1"/>
<line x1="349" y1="575.76" x2="410.2" y2="575.76" stroke="#fff" stroke-width="1"/>
<line x1="349" y1="619.87" x2="410.2" y2="619.87" stroke="#fff" stroke-width="1"/>
<line x1="349" y1="614.36" x2="410.2" y2="614.36" stroke="#fff" stroke-width="1.3"/>
<line x1="349" y1="603.33" x2="410.2" y2="603.33" stroke="#fff" stroke-width="1.3"/>
<line x1="349" y1="592.3" x2="410.2" y2="592.3" stroke="#fff" stroke-width="1.3"/>
<line x1="349" y1="581.27" x2="410.2" y2="581.27" stroke="#fff" stroke-width="1.3"/>
<path d="M352.5 593.3 L352.76 591.84 L353.13 589.76 L353.56 587.32 L354.03 584.79 L354.48 582.39 L354.9 580.4 L355.27 578.71 L355.61 577.11 L355.94 575.66 L356.29 574.42 L356.67 573.44 L357.1 572.8 L357.59 572.5 L358.12 572.49 L358.68 572.76 L359.26 573.26 L359.84 573.99 L360.4 574.9 L360.95 576.13 L361.5 577.71 L362.05 579.51 L362.6 581.38 L363.15 583.19 L363.7 584.8 L364.24 586.2 L364.76 587.5 L365.28 588.74 L365.82 589.94 L366.39 591.15 L367 592.4 L367.68 593.68 L368.41 594.98 L369.17 596.28 L369.94 597.57 L370.69 598.85 L371.4 600.1 L372.07 601.39 L372.71 602.73 L373.34 604.06 L373.96 605.3 L374.57 606.37 L375.2 607.2 L375.84 607.72 L376.49 607.97 L377.13 608.06 L377.77 608.07 L378.4 608.12 L379 608.3 L379.57 608.59 L380.1 608.91 L380.61 609.26 L381.14 609.64 L381.69 610.06 L382.3 610.5 L382.95 611.02 L383.61 611.61 L384.3 612.24 L385.04 612.85 L385.83 613.39 L386.7 613.8 L387.65 614.08 L388.67 614.25 L389.74 614.36 L390.87 614.41 L392.02 614.45 L393.2 614.5 L394.43 614.55 L395.72 614.58 L397.04 614.59 L398.37 614.58 L399.67 614.55 L400.9 614.5 L402.14 614.42 L403.43 614.29 L404.68 614.15 L405.83 614.01 L406.79 613.88 L407.5 613.8" fill="none" stroke="#000" stroke-width="1.9" stroke-linejoin="round"/>
</g></svg>
<line x1="25.9" y1="417.75" x2="27.5" y2="417.75" stroke="#333" stroke-width="0.9"/>
<text x="24" y="418.45" font-size="7.8" text-anchor="end" fill="#333" dominant-baseline="central">0.00</text>
<line x1="25.9" y1="406.31" x2="27.5" y2="406.31" stroke="#333" stroke-width="0.9"/>
<text x="24" y="407.01" font-size="7.8" text-anchor="end" fill="#333" dominant-baseline="central">0.25</text>
<line x1="25.9" y1="394.88" x2="27.5" y2="394.88" stroke="#333" stroke-width="0.9"/>
<text x="24" y="395.58" font-size="7.8" text-anchor="end" fill="#333" dominant-baseline="central">0.50</text>
<line x1="25.9" y1="383.44" x2="27.5" y2="383.44" stroke="#333" stroke-width="0.9"/>
<text x="24" y="384.14" font-size="7.8" text-anchor="end" fill="#333" dominant-baseline="central">0.75</text>
<line x1="25.9" y1="466.93" x2="27.5" y2="466.93" stroke="#333" stroke-width="0.9"/>
<text x="24" y="467.63" font-size="7.8" text-anchor="end" fill="#333" dominant-baseline="central">0.0</text>
<line x1="25.9" y1="453.64" x2="27.5" y2="453.64" stroke="#333" stroke-width="0.9"/>
<text x="24" y="454.34" font-size="7.8" text-anchor="end" fill="#333" dominant-baseline="central">0.2</text>
<line x1="25.9" y1="440.36" x2="27.5" y2="440.36" stroke="#333" stroke-width="0.9"/>
<text x="24" y="441.06" font-size="7.8" text-anchor="end" fill="#333" dominant-baseline="central">0.4</text>
<line x1="25.9" y1="427.07" x2="27.5" y2="427.07" stroke="#333" stroke-width="0.9"/>
<text x="24" y="427.77" font-size="7.8" text-anchor="end" fill="#333" dominant-baseline="central">0.6</text>
<line x1="25.9" y1="516.07" x2="27.5" y2="516.07" stroke="#333" stroke-width="0.9"/>
<text x="24" y="516.77" font-size="7.8" text-anchor="end" fill="#333" dominant-baseline="central">0.0</text>
<line x1="25.9" y1="503.83" x2="27.5" y2="503.83" stroke="#333" stroke-width="0.9"/>
<text x="24" y="504.53" font-size="7.8" text-anchor="end" fill="#333" dominant-baseline="central">0.2</text>
<line x1="25.9" y1="491.6" x2="27.5" y2="491.6" stroke="#333" stroke-width="0.9"/>
<text x="24" y="492.3" font-size="7.8" text-anchor="end" fill="#333" dominant-baseline="central">0.4</text>
<line x1="25.9" y1="479.37" x2="27.5" y2="479.37" stroke="#333" stroke-width="0.9"/>
<text x="24" y="480.07" font-size="7.8" text-anchor="end" fill="#333" dominant-baseline="central">0.6</text>
<line x1="25.9" y1="565.24" x2="27.5" y2="565.24" stroke="#333" stroke-width="0.9"/>
<text x="24" y="565.94" font-size="7.8" text-anchor="end" fill="#333" dominant-baseline="central">0.0</text>
<line x1="25.9" y1="550.44" x2="27.5" y2="550.44" stroke="#333" stroke-width="0.9"/>
<text x="24" y="551.14" font-size="7.8" text-anchor="end" fill="#333" dominant-baseline="central">0.2</text>
<line x1="25.9" y1="535.64" x2="27.5" y2="535.64" stroke="#333" stroke-width="0.9"/>
<text x="24" y="536.34" font-size="7.8" text-anchor="end" fill="#333" dominant-baseline="central">0.4</text>
<line x1="25.9" y1="614.36" x2="27.5" y2="614.36" stroke="#333" stroke-width="0.9"/>
<text x="24" y="615.06" font-size="7.8" text-anchor="end" fill="#333" dominant-baseline="central">0.0</text>
<line x1="25.9" y1="603.33" x2="27.5" y2="603.33" stroke="#333" stroke-width="0.9"/>
<text x="24" y="604.03" font-size="7.8" text-anchor="end" fill="#333" dominant-baseline="central">0.2</text>
<line x1="25.9" y1="592.3" x2="27.5" y2="592.3" stroke="#333" stroke-width="0.9"/>
<text x="24" y="593" font-size="7.8" text-anchor="end" fill="#333" dominant-baseline="central">0.4</text>
<line x1="25.9" y1="581.27" x2="27.5" y2="581.27" stroke="#333" stroke-width="0.9"/>
<text x="24" y="581.97" font-size="7.8" text-anchor="end" fill="#333" dominant-baseline="central">0.6</text>
<line x1="25.9" y1="369.1" x2="27.5" y2="369.1" stroke="#333" stroke-width="0.9"/>
<text x="24" y="369.8" font-size="7.8" text-anchor="end" fill="#333" dominant-baseline="central">0</text>
<line x1="25.9" y1="355.1" x2="27.5" y2="355.1" stroke="#333" stroke-width="0.9"/>
<text x="24" y="355.8" font-size="7.8" text-anchor="end" fill="#333" dominant-baseline="central">1</text>
<line x1="25.9" y1="341.1" x2="27.5" y2="341.1" stroke="#333" stroke-width="0.9"/>
<text x="24" y="341.8" font-size="7.8" text-anchor="end" fill="#333" dominant-baseline="central">2</text>
<line x1="25.9" y1="327.1" x2="27.5" y2="327.1" stroke="#333" stroke-width="0.9"/>
<text x="24" y="327.8" font-size="7.8" text-anchor="end" fill="#333" dominant-baseline="central">3</text>
<line x1="30.17" y1="616.35" x2="30.17" y2="617.95" stroke="#333" stroke-width="0.9"/>
<text x="30.17" y="624.3" font-size="7.8" text-anchor="middle" fill="#333" dominant-baseline="central">0.0</text>
<line x1="43.77" y1="616.35" x2="43.77" y2="617.95" stroke="#333" stroke-width="0.9"/>
<text x="43.77" y="624.3" font-size="7.8" text-anchor="middle" fill="#333" dominant-baseline="central">0.2</text>
<line x1="57.37" y1="616.35" x2="57.37" y2="617.95" stroke="#333" stroke-width="0.9"/>
<text x="57.37" y="624.3" font-size="7.8" text-anchor="middle" fill="#333" dominant-baseline="central">0.4</text>
<line x1="70.96" y1="616.35" x2="70.96" y2="617.95" stroke="#333" stroke-width="0.9"/>
<text x="70.96" y="624.3" font-size="7.8" text-anchor="middle" fill="#333" dominant-baseline="central">0.6</text>
<line x1="84.56" y1="616.35" x2="84.56" y2="617.95" stroke="#333" stroke-width="0.9"/>
<text x="84.56" y="624.3" font-size="7.8" text-anchor="middle" fill="#333" dominant-baseline="central">0.8</text>
<line x1="94.48" y1="616.35" x2="94.48" y2="617.95" stroke="#333" stroke-width="0.9"/>
<text x="94.48" y="624.3" font-size="7.8" text-anchor="middle" fill="#333" dominant-baseline="central">0</text>
<line x1="109.79" y1="616.35" x2="109.79" y2="617.95" stroke="#333" stroke-width="0.9"/>
<text x="109.79" y="624.3" font-size="7.8" text-anchor="middle" fill="#333" dominant-baseline="central">0.25</text>
<line x1="125.11" y1="616.35" x2="125.11" y2="617.95" stroke="#333" stroke-width="0.9"/>
<text x="125.11" y="624.3" font-size="7.8" text-anchor="middle" fill="#333" dominant-baseline="central">0.5</text>
<line x1="140.42" y1="616.35" x2="140.42" y2="617.95" stroke="#333" stroke-width="0.9"/>
<text x="140.42" y="624.3" font-size="7.8" text-anchor="middle" fill="#333" dominant-baseline="central">0.75</text>
<line x1="158.74" y1="616.35" x2="158.74" y2="617.95" stroke="#333" stroke-width="0.9"/>
<text x="158.74" y="624.3" font-size="7.8" text-anchor="middle" fill="#333" dominant-baseline="central">0.0</text>
<line x1="176.53" y1="616.35" x2="176.53" y2="617.95" stroke="#333" stroke-width="0.9"/>
<text x="176.53" y="624.3" font-size="7.8" text-anchor="middle" fill="#333" dominant-baseline="central">0.2</text>
<line x1="194.32" y1="616.35" x2="194.32" y2="617.95" stroke="#333" stroke-width="0.9"/>
<text x="194.32" y="624.3" font-size="7.8" text-anchor="middle" fill="#333" dominant-baseline="central">0.4</text>
<line x1="212.12" y1="616.35" x2="212.12" y2="617.95" stroke="#333" stroke-width="0.9"/>
<text x="212.12" y="624.3" font-size="7.8" text-anchor="middle" fill="#333" dominant-baseline="central">0.6</text>
<line x1="223.05" y1="616.35" x2="223.05" y2="617.95" stroke="#333" stroke-width="0.9"/>
<text x="223.05" y="624.3" font-size="7.8" text-anchor="middle" fill="#333" dominant-baseline="central">0.0</text>
<line x1="239.44" y1="616.35" x2="239.44" y2="617.95" stroke="#333" stroke-width="0.9"/>
<text x="239.44" y="624.3" font-size="7.8" text-anchor="middle" fill="#333" dominant-baseline="central">0.2</text>
<line x1="255.82" y1="616.35" x2="255.82" y2="617.95" stroke="#333" stroke-width="0.9"/>
<text x="255.82" y="624.3" font-size="7.8" text-anchor="middle" fill="#333" dominant-baseline="central">0.4</text>
<line x1="272.2" y1="616.35" x2="272.2" y2="617.95" stroke="#333" stroke-width="0.9"/>
<text x="272.2" y="624.3" font-size="7.8" text-anchor="middle" fill="#333" dominant-baseline="central">0.6</text>
<line x1="287.33" y1="616.35" x2="287.33" y2="617.95" stroke="#333" stroke-width="0.9"/>
<text x="287.33" y="624.3" font-size="7.8" text-anchor="middle" fill="#333" dominant-baseline="central">0.0</text>
<line x1="307.14" y1="616.35" x2="307.14" y2="617.95" stroke="#333" stroke-width="0.9"/>
<text x="307.14" y="624.3" font-size="7.8" text-anchor="middle" fill="#333" dominant-baseline="central">0.2</text>
<line x1="326.96" y1="616.35" x2="326.96" y2="617.95" stroke="#333" stroke-width="0.9"/>
<text x="326.96" y="624.3" font-size="7.8" text-anchor="middle" fill="#333" dominant-baseline="central">0.4</text>
<line x1="351.67" y1="616.35" x2="351.67" y2="617.95" stroke="#333" stroke-width="0.9"/>
<text x="351.67" y="624.3" font-size="7.8" text-anchor="middle" fill="#333" dominant-baseline="central">0.0</text>
<line x1="366.43" y1="616.35" x2="366.43" y2="617.95" stroke="#333" stroke-width="0.9"/>
<text x="366.43" y="624.3" font-size="7.8" text-anchor="middle" fill="#333" dominant-baseline="central">0.2</text>
<line x1="381.2" y1="616.35" x2="381.2" y2="617.95" stroke="#333" stroke-width="0.9"/>
<text x="381.2" y="624.3" font-size="7.8" text-anchor="middle" fill="#333" dominant-baseline="central">0.4</text>
<line x1="395.97" y1="616.35" x2="395.97" y2="617.95" stroke="#333" stroke-width="0.9"/>
<text x="395.97" y="624.3" font-size="7.8" text-anchor="middle" fill="#333" dominant-baseline="central">0.6</text>
<text x="225.7" y="634.8" font-size="9.5" text-anchor="middle" fill="#000" dominant-baseline="central">r2 scores</text>
<text x="5.7" y="453.7" font-size="9.5" text-anchor="middle" fill="#000" transform="rotate(-90 5.7 453.7)" dominant-baseline="central">r2 scores</text>
<text x="3.3" y="674.1" font-size="9.4" text-anchor="start" fill="#000" font-weight="bold" dominant-baseline="central">C</text>
<rect x="33" y="763.32" width="48.9" height="163.48" fill="#035867" stroke="none" stroke-width="1"/>
<rect x="87.3" y="792" width="48.8" height="134.8" fill="#035867" stroke="none" stroke-width="1"/>
<rect x="141.7" y="794.87" width="48.6" height="131.93" fill="#035867" stroke="none" stroke-width="1"/>
<rect x="195.9" y="794.87" width="48.9" height="131.93" fill="#035867" stroke="none" stroke-width="1"/>
<rect x="250.4" y="857.97" width="48.3" height="68.83" fill="#035867" stroke="none" stroke-width="1"/>
<rect x="304.3" y="918.2" width="48.9" height="8.6" fill="#035867" stroke="none" stroke-width="1"/>
<line x1="25" y1="685.8" x2="25" y2="939.3" stroke="#000" stroke-width="1.5"/>
<line x1="24.25" y1="938.5" x2="361.3" y2="938.5" stroke="#000" stroke-width="1.5"/>
<line x1="23" y1="926.8" x2="24.5" y2="926.8" stroke="#333" stroke-width="0.8"/>
<text x="20.6" y="927.5" font-size="8.3" text-anchor="end" fill="#333" dominant-baseline="central">0</text>
<line x1="23" y1="869.44" x2="24.5" y2="869.44" stroke="#333" stroke-width="0.8"/>
<text x="20.6" y="870.14" font-size="8.3" text-anchor="end" fill="#333" dominant-baseline="central">20</text>
<line x1="23" y1="812.08" x2="24.5" y2="812.08" stroke="#333" stroke-width="0.8"/>
<text x="20.6" y="812.78" font-size="8.3" text-anchor="end" fill="#333" dominant-baseline="central">40</text>
<line x1="23" y1="754.72" x2="24.5" y2="754.72" stroke="#333" stroke-width="0.8"/>
<text x="20.6" y="755.42" font-size="8.3" text-anchor="end" fill="#333" dominant-baseline="central">60</text>
<line x1="23" y1="697.36" x2="24.5" y2="697.36" stroke="#333" stroke-width="0.8"/>
<text x="20.6" y="698.06" font-size="8.3" text-anchor="end" fill="#333" dominant-baseline="central">80</text>
<line x1="57.45" y1="939" x2="57.45" y2="940.5" stroke="#333" stroke-width="0.8"/>
<text x="60.75" y="945.3" font-size="8.4" text-anchor="end" fill="#333" transform="rotate(-45 60.75 945.3)">P(AF)</text>
<line x1="111.7" y1="939" x2="111.7" y2="940.5" stroke="#333" stroke-width="0.8"/>
<text x="115" y="945.3" font-size="8.4" text-anchor="end" fill="#333" transform="rotate(-45 115 945.3)">PA</text>
<line x1="166" y1="939" x2="166" y2="940.5" stroke="#333" stroke-width="0.8"/>
<text x="169.3" y="945.3" font-size="8.4" text-anchor="end" fill="#333" transform="rotate(-45 169.3 945.3)">CNV</text>
<line x1="220.35" y1="939" x2="220.35" y2="940.5" stroke="#333" stroke-width="0.8"/>
<text x="223.65" y="945.3" font-size="8.4" text-anchor="end" fill="#333" transform="rotate(-45 223.65 945.3)">LOF</text>
<line x1="274.55" y1="939" x2="274.55" y2="940.5" stroke="#333" stroke-width="0.8"/>
<text x="277.85" y="945.3" font-size="8.4" text-anchor="end" fill="#333" transform="rotate(-45 277.85 945.3)">Proteomics</text>
<line x1="328.75" y1="939" x2="328.75" y2="940.5" stroke="#333" stroke-width="0.8"/>
<text x="332.05" y="945.3" font-size="8.4" text-anchor="end" fill="#333" transform="rotate(-45 332.05 945.3)">Transcriptomics</text>
<text x="5.45" y="812.1" font-size="9.46" text-anchor="middle" fill="#000" transform="rotate(-90 5.45 812.1)" dominant-baseline="central">Number of best predicted phenotypes</text>
<text x="430.3" y="4.1" font-size="9.4" text-anchor="start" fill="#000" font-weight="bold" dominant-baseline="central">D</text>
<path d="M468.9 82.9 L469.6 82.63 L470.56 82.27 L471.71 81.84 L472.94 81.35 L474.17 80.83 L475.3 80.3 L476.35 79.76 L477.4 79.19 L478.45 78.59 L479.5 77.95 L480.55 77.26 L481.6 76.5 L482.66 75.68 L483.73 74.81 L484.79 73.89 L485.86 72.91 L486.93 71.88 L488 70.8 L489.07 69.67 L490.14 68.48 L491.21 67.24 L492.27 65.95 L493.34 64.6 L494.4 63.2 L495.45 61.72 L496.5 60.17 L497.55 58.56 L498.6 56.92 L499.65 55.26 L500.7 53.6 L501.76 51.9 L502.83 50.15 L503.9 48.38 L504.97 46.63 L506.04 44.96 L507.1 43.4 L508.15 41.94 L509.2 40.55 L510.25 39.22 L511.3 37.99 L512.35 36.84 L513.4 35.8 L514.46 34.87 L515.53 34.03 L516.59 33.29 L517.66 32.64 L518.73 32.08 L519.8 31.6 L520.87 31.21 L521.94 30.93 L523.01 30.73 L524.07 30.6 L525.14 30.53 L526.2 30.5 L527.25 30.5 L528.3 30.54 L529.35 30.64 L530.4 30.81 L531.45 31.06 L532.5 31.4 L533.56 31.84 L534.63 32.36 L535.7 32.96 L536.77 33.64 L537.84 34.39 L538.9 35.2 L539.96 36.09 L541.03 37.07 L542.09 38.12 L543.14 39.22 L544.18 40.35 L545.2 41.5 L546.21 42.7 L547.22 43.99 L548.21 45.3 L549.18 46.6 L550.11 47.85 L551 49 L551.82 50.03 L552.59 50.98 L553.32 51.88 L554.03 52.74 L554.75 53.61 L555.5 54.5 L556.27 55.42 L557.04 56.35 L557.81 57.27 L558.6 58.2 L559.39 59.11 L560.2 60 L561.03 60.89 L561.87 61.78 L562.73 62.66 L563.59 63.51 L564.45 64.33 L565.3 65.1 L566.15 65.83 L567 66.52 L567.86 67.18 L568.71 67.8 L569.56 68.37 L570.4 68.9 L571.22 69.37 L572.02 69.77 L572.82 70.14 L573.63 70.47 L574.49 70.79 L575.4 71.1 L576.39 71.4 L577.43 71.67 L578.51 71.93 L579.61 72.18 L580.72 72.43 L581.8 72.7 L582.87 72.96 L583.94 73.22 L585.01 73.48 L586.07 73.75 L587.14 74.05 L588.2 74.4 L589.25 74.79 L590.3 75.21 L591.35 75.67 L592.4 76.15 L593.45 76.66 L594.5 77.2 L595.56 77.78 L596.63 78.41 L597.69 79.08 L598.76 79.74 L599.83 80.39 L600.9 81 L601.97 81.59 L603.04 82.17 L604.11 82.74 L605.17 83.27 L606.24 83.77 L607.3 84.2 L608.34 84.57 L609.36 84.89 L610.37 85.16 L611.41 85.39 L612.48 85.6 L613.6 85.8 L614.55 85.97 L615.25 86.12 L615.99 86.24 L617.05 86.34 L618.69 86.42 L621.2 86.5 L623.73 86.56 L625.91 86.61 L628.67 86.64 L632.97 86.67 L639.76 86.68 L650 86.7 L665.93 86.71 L687.24 86.71 L711.05 86.71 L734.46 86.71 L754.57 86.7 L768.5 86.7 L768.5 86.7 L468.9 86.7 Z" fill="#eecd9e"/>
<path d="M468.9 82.9 L469.6 82.63 L470.56 82.27 L471.71 81.84 L472.94 81.35 L474.17 80.83 L475.3 80.3 L476.35 79.76 L477.4 79.19 L478.45 78.59 L479.5 77.95 L480.55 77.26 L481.6 76.5 L482.66 75.68 L483.73 74.81 L484.79 73.89 L485.86 72.91 L486.93 71.88 L488 70.8 L489.07 69.67 L490.14 68.48 L491.21 67.24 L492.27 65.95 L493.34 64.6 L494.4 63.2 L495.45 61.72 L496.5 60.17 L497.55 58.56 L498.6 56.92 L499.65 55.26 L500.7 53.6 L501.76 51.9 L502.83 50.15 L503.9 48.38 L504.97 46.63 L506.04 44.96 L507.1 43.4 L508.15 41.94 L509.2 40.55 L510.25 39.22 L511.3 37.99 L512.35 36.84 L513.4 35.8 L514.46 34.87 L515.53 34.03 L516.59 33.29 L517.66 32.64 L518.73 32.08 L519.8 31.6 L520.87 31.21 L521.94 30.93 L523.01 30.73 L524.07 30.6 L525.14 30.53 L526.2 30.5 L527.25 30.5 L528.3 30.54 L529.35 30.64 L530.4 30.81 L531.45 31.06 L532.5 31.4 L533.56 31.84 L534.63 32.36 L535.7 32.96 L536.77 33.64 L537.84 34.39 L538.9 35.2 L539.96 36.09 L541.03 37.07 L542.09 38.12 L543.14 39.22 L544.18 40.35 L545.2 41.5 L546.21 42.7 L547.22 43.99 L548.21 45.3 L549.18 46.6 L550.11 47.85 L551 49 L551.82 50.03 L552.59 50.98 L553.32 51.88 L554.03 52.74 L554.75 53.61 L555.5 54.5 L556.27 55.42 L557.04 56.35 L557.81 57.27 L558.6 58.2 L559.39 59.11 L560.2 60 L561.03 60.89 L561.87 61.78 L562.73 62.66 L563.59 63.51 L564.45 64.33 L565.3 65.1 L566.15 65.83 L567 66.52 L567.86 67.18 L568.71 67.8 L569.56 68.37 L570.4 68.9 L571.22 69.37 L572.02 69.77 L572.82 70.14 L573.63 70.47 L574.49 70.79 L575.4 71.1 L576.39 71.4 L577.43 71.67 L578.51 71.93 L579.61 72.18 L580.72 72.43 L581.8 72.7 L582.87 72.96 L583.94 73.22 L585.01 73.48 L586.07 73.75 L587.14 74.05 L588.2 74.4 L589.25 74.79 L590.3 75.21 L591.35 75.67 L592.4 76.15 L593.45 76.66 L594.5 77.2 L595.56 77.78 L596.63 78.41 L597.69 79.08 L598.76 79.74 L599.83 80.39 L600.9 81 L601.97 81.59 L603.04 82.17 L604.11 82.74 L605.17 83.27 L606.24 83.77 L607.3 84.2 L608.34 84.57 L609.36 84.89 L610.37 85.16 L611.41 85.39 L612.48 85.6 L613.6 85.8 L614.55 85.97 L615.25 86.12 L615.99 86.24 L617.05 86.34 L618.69 86.42 L621.2 86.5 L623.73 86.56 L625.91 86.61 L628.67 86.64 L632.97 86.67 L639.76 86.68 L650 86.7 L665.93 86.71 L687.24 86.71 L711.05 86.71 L734.46 86.71 L754.57 86.7 L768.5 86.7" fill="none" stroke="#000" stroke-width="1.4" stroke-linejoin="round"/>
<rect x="453.8" y="16.1" width="329.4" height="12.4" fill="#fff" stroke="#000" stroke-width="1.3"/>
<text x="618.5" y="23.1" font-size="9.7" text-anchor="middle" fill="#000" dominant-baseline="central">Carbon sources growth</text>
<line x1="453.8" y1="28.4" x2="453.8" y2="89" stroke="#000" stroke-width="1.4"/>
<line x1="451.6" y1="86.7" x2="453.8" y2="86.7" stroke="#333" stroke-width="0.9"/>
<text x="449.8" y="87.4" font-size="9.3" text-anchor="end" fill="#333" dominant-baseline="central">0</text>
<line x1="451.6" y1="70.76" x2="453.8" y2="70.76" stroke="#333" stroke-width="0.9"/>
<text x="449.8" y="71.46" font-size="9.3" text-anchor="end" fill="#333" dominant-baseline="central">2</text>
<line x1="451.6" y1="54.82" x2="453.8" y2="54.82" stroke="#333" stroke-width="0.9"/>
<text x="449.8" y="55.52" font-size="9.3" text-anchor="end" fill="#333" dominant-baseline="central">4</text>
<line x1="451.6" y1="38.88" x2="453.8" y2="38.88" stroke="#333" stroke-width="0.9"/>
<text x="449.8" y="39.58" font-size="9.3" text-anchor="end" fill="#333" dominant-baseline="central">6</text>
<text x="717" y="36.3" font-size="9.7" text-anchor="start" fill="#000" dominant-baseline="central">Sample size: 57</text>
<text x="717" y="48.8" font-size="9.7" text-anchor="start" fill="#000" dominant-baseline="central">Median: 0.13</text>
<path d="M469.2 158.6 L471.75 158.06 L475.24 157.3 L479.39 156.41 L483.94 155.47 L488.63 154.57 L493.2 153.8 L497.7 153.13 L502.34 152.49 L507.12 151.88 L512.04 151.33 L517.07 150.83 L522.2 150.4 L527.54 150.05 L533.11 149.76 L538.8 149.54 L544.49 149.36 L550.06 149.22 L555.4 149.1 L560.33 149.01 L564.91 148.94 L569.38 148.91 L573.96 148.93 L578.89 148.99 L584.4 149.1 L590.59 149.28 L597.31 149.53 L604.37 149.82 L611.6 150.14 L618.84 150.47 L625.9 150.8 L632.82 151.13 L639.73 151.49 L646.65 151.86 L653.57 152.22 L660.48 152.57 L667.4 152.9 L674.32 153.2 L681.24 153.48 L688.16 153.75 L695.07 154.01 L701.99 154.26 L708.9 154.5 L716.07 154.74 L723.57 154.96 L731.06 155.17 L738.22 155.39 L744.74 155.59 L750.3 155.8 L754.89 156.02 L758.76 156.25 L761.99 156.48 L764.64 156.69 L766.79 156.87 L768.5 157 L768.5 164.23 L469.2 164.23 Z" fill="#eecd9e"/>
<path d="M469.2 158.6 L471.75 158.06 L475.24 157.3 L479.39 156.41 L483.94 155.47 L488.63 154.57 L493.2 153.8 L497.7 153.13 L502.34 152.49 L507.12 151.88 L512.04 151.33 L517.07 150.83 L522.2 150.4 L527.54 150.05 L533.11 149.76 L538.8 149.54 L544.49 149.36 L550.06 149.22 L555.4 149.1 L560.33 149.01 L564.91 148.94 L569.38 148.91 L573.96 148.93 L578.89 148.99 L584.4 149.1 L590.59 149.28 L597.31 149.53 L604.37 149.82 L611.6 150.14 L618.84 150.47 L625.9 150.8 L632.82 151.13 L639.73 151.49 L646.65 151.86 L653.57 152.22 L660.48 152.57 L667.4 152.9 L674.32 153.2 L681.24 153.48 L688.16 153.75 L695.07 154.01 L701.99 154.26 L708.9 154.5 L716.07 154.74 L723.57 154.96 L731.06 155.17 L738.22 155.39 L744.74 155.59 L750.3 155.8 L754.89 156.02 L758.76 156.25 L761.99 156.48 L764.64 156.69 L766.79 156.87 L768.5 157" fill="none" stroke="#000" stroke-width="1.4" stroke-linejoin="round"/>
<rect x="453.8" y="93.63" width="329.4" height="12.4" fill="#fff" stroke="#000" stroke-width="1.3"/>
<text x="618.5" y="100.63" font-size="9.7" text-anchor="middle" fill="#000" dominant-baseline="central">Cell features</text>
<line x1="453.8" y1="105.93" x2="453.8" y2="166.53" stroke="#000" stroke-width="1.4"/>
<line x1="451.6" y1="164.23" x2="453.8" y2="164.23" stroke="#333" stroke-width="0.9"/>
<text x="449.8" y="164.93" font-size="9.3" text-anchor="end" fill="#333" dominant-baseline="central">0</text>
<line x1="451.6" y1="148.29" x2="453.8" y2="148.29" stroke="#333" stroke-width="0.9"/>
<text x="449.8" y="148.99" font-size="9.3" text-anchor="end" fill="#333" dominant-baseline="central">2</text>
<line x1="451.6" y1="132.35" x2="453.8" y2="132.35" stroke="#333" stroke-width="0.9"/>
<text x="449.8" y="133.05" font-size="9.3" text-anchor="end" fill="#333" dominant-baseline="central">4</text>
<line x1="451.6" y1="116.41" x2="453.8" y2="116.41" stroke="#333" stroke-width="0.9"/>
<text x="449.8" y="117.11" font-size="9.3" text-anchor="end" fill="#333" dominant-baseline="central">6</text>
<text x="717" y="113.83" font-size="9.7" text-anchor="start" fill="#000" dominant-baseline="central">Sample size: 17</text>
<text x="717" y="126.33" font-size="9.7" text-anchor="start" fill="#000" dominant-baseline="central">Median: 0.31</text>
<path d="M469.2 241.3 L477.56 241.31 L489.67 241.32 L503.74 241.34 L518.01 241.34 L530.68 241.33 L540 241.3 L545.61 241.25 L548.88 241.21 L550.56 241.14 L551.41 241.05 L552.2 240.91 L553.7 240.7 L555.77 240.44 L557.79 240.14 L559.74 239.8 L561.63 239.4 L563.45 238.94 L565.2 238.4 L566.85 237.83 L568.41 237.25 L569.89 236.6 L571.35 235.84 L572.81 234.92 L574.3 233.8 L575.83 232.45 L577.36 230.91 L578.89 229.22 L580.43 227.4 L581.97 225.48 L583.5 223.5 L585.03 221.39 L586.57 219.1 L588.11 216.72 L589.64 214.33 L591.17 212 L592.7 209.8 L594.22 207.69 L595.74 205.59 L597.25 203.55 L598.76 201.62 L600.28 199.86 L601.8 198.3 L603.34 196.96 L604.9 195.8 L606.47 194.81 L608.02 193.95 L609.53 193.22 L611 192.6 L612.4 192.1 L613.76 191.74 L615.08 191.5 L616.38 191.37 L617.68 191.35 L619 191.4 L620.32 191.54 L621.62 191.78 L622.93 192.11 L624.24 192.54 L625.6 193.07 L627 193.7 L628.47 194.45 L629.98 195.34 L631.53 196.32 L633.1 197.36 L634.66 198.43 L636.2 199.5 L637.75 200.63 L639.32 201.86 L640.89 203.12 L642.43 204.33 L643.91 205.42 L645.3 206.3 L646.55 206.97 L647.68 207.49 L648.74 207.88 L649.81 208.17 L650.94 208.4 L652.2 208.6 L653.61 208.69 L655.14 208.64 L656.73 208.53 L658.34 208.43 L659.91 208.42 L661.4 208.6 L662.8 208.93 L664.16 209.34 L665.48 209.85 L666.78 210.47 L668.08 211.22 L669.4 212.1 L670.72 213.15 L672.02 214.35 L673.33 215.68 L674.64 217.1 L676 218.58 L677.4 220.1 L678.87 221.72 L680.38 223.47 L681.93 225.29 L683.5 227.1 L685.06 228.83 L686.6 230.4 L688.12 231.84 L689.64 233.21 L691.15 234.51 L692.66 235.7 L694.18 236.77 L695.7 237.7 L697.16 238.48 L698.54 239.11 L699.93 239.62 L701.39 240.04 L703.02 240.39 L704.9 240.7 L706.69 240.95 L708.26 241.1 L709.99 241.19 L712.27 241.23 L715.48 241.26 L720 241.3 L726.71 241.33 L735.49 241.34 L745.19 241.34 L754.69 241.32 L762.84 241.31 L768.5 241.3 L768.5 241.76 L469.2 241.76 Z" fill="#eecd9e"/>
<path d="M469.2 241.3 L477.56 241.31 L489.67 241.32 L503.74 241.34 L518.01 241.34 L530.68 241.33 L540 241.3 L545.61 241.25 L548.88 241.21 L550.56 241.14 L551.41 241.05 L552.2 240.91 L553.7 240.7 L555.77 240.44 L557.79 240.14 L559.74 239.8 L561.63 239.4 L563.45 238.94 L565.2 238.4 L566.85 237.83 L568.41 237.25 L569.89 236.6 L571.35 235.84 L572.81 234.92 L574.3 233.8 L575.83 232.45 L577.36 230.91 L578.89 229.22 L580.43 227.4 L581.97 225.48 L583.5 223.5 L585.03 221.39 L586.57 219.1 L588.11 216.72 L589.64 214.33 L591.17 212 L592.7 209.8 L594.22 207.69 L595.74 205.59 L597.25 203.55 L598.76 201.62 L600.28 199.86 L601.8 198.3 L603.34 196.96 L604.9 195.8 L606.47 194.81 L608.02 193.95 L609.53 193.22 L611 192.6 L612.4 192.1 L613.76 191.74 L615.08 191.5 L616.38 191.37 L617.68 191.35 L619 191.4 L620.32 191.54 L621.62 191.78 L622.93 192.11 L624.24 192.54 L625.6 193.07 L627 193.7 L628.47 194.45 L629.98 195.34 L631.53 196.32 L633.1 197.36 L634.66 198.43 L636.2 199.5 L637.75 200.63 L639.32 201.86 L640.89 203.12 L642.43 204.33 L643.91 205.42 L645.3 206.3 L646.55 206.97 L647.68 207.49 L648.74 207.88 L649.81 208.17 L650.94 208.4 L652.2 208.6 L653.61 208.69 L655.14 208.64 L656.73 208.53 L658.34 208.43 L659.91 208.42 L661.4 208.6 L662.8 208.93 L664.16 209.34 L665.48 209.85 L666.78 210.47 L668.08 211.22 L669.4 212.1 L670.72 213.15 L672.02 214.35 L673.33 215.68 L674.64 217.1 L676 218.58 L677.4 220.1 L678.87 221.72 L680.38 223.47 L681.93 225.29 L683.5 227.1 L685.06 228.83 L686.6 230.4 L688.12 231.84 L689.64 233.21 L691.15 234.51 L692.66 235.7 L694.18 236.77 L695.7 237.7 L697.16 238.48 L698.54 239.11 L699.93 239.62 L701.39 240.04 L703.02 240.39 L704.9 240.7 L706.69 240.95 L708.26 241.1 L709.99 241.19 L712.27 241.23 L715.48 241.26 L720 241.3 L726.71 241.33 L735.49 241.34 L745.19 241.34 L754.69 241.32 L762.84 241.31 L768.5 241.3" fill="none" stroke="#000" stroke-width="1.4" stroke-linejoin="round"/>
<rect x="453.8" y="171.16" width="329.4" height="12.4" fill="#fff" stroke="#000" stroke-width="1.3"/>
<text x="618.5" y="178.16" font-size="9.7" text-anchor="middle" fill="#000" dominant-baseline="central">CLS</text>
<line x1="453.8" y1="183.46" x2="453.8" y2="244.06" stroke="#000" stroke-width="1.4"/>
<line x1="451.6" y1="241.76" x2="453.8" y2="241.76" stroke="#333" stroke-width="0.9"/>
<text x="449.8" y="242.46" font-size="9.3" text-anchor="end" fill="#333" dominant-baseline="central">0</text>
<line x1="451.6" y1="225.82" x2="453.8" y2="225.82" stroke="#333" stroke-width="0.9"/>
<text x="449.8" y="226.52" font-size="9.3" text-anchor="end" fill="#333" dominant-baseline="central">2</text>
<line x1="451.6" y1="209.88" x2="453.8" y2="209.88" stroke="#333" stroke-width="0.9"/>
<text x="449.8" y="210.58" font-size="9.3" text-anchor="end" fill="#333" dominant-baseline="central">4</text>
<line x1="451.6" y1="193.94" x2="453.8" y2="193.94" stroke="#333" stroke-width="0.9"/>
<text x="449.8" y="194.64" font-size="9.3" text-anchor="end" fill="#333" dominant-baseline="central">6</text>
<text x="717" y="191.36" font-size="9.7" text-anchor="start" fill="#000" dominant-baseline="central">Sample size: 11</text>
<text x="717" y="203.86" font-size="9.7" text-anchor="start" fill="#000" dominant-baseline="central">Median: 0.33</text>
<path d="M469.2 313.5 L470.43 313.25 L472.14 312.9 L474.17 312.49 L476.33 312.04 L478.47 311.57 L480.4 311.1 L482.15 310.63 L483.84 310.13 L485.51 309.61 L487.17 309.07 L488.82 308.54 L490.5 308 L492.19 307.46 L493.89 306.92 L495.59 306.37 L497.3 305.81 L499 305.26 L500.7 304.7 L502.4 304.14 L504.1 303.57 L505.8 303 L507.5 302.43 L509.2 301.86 L510.9 301.3 L512.6 300.73 L514.3 300.15 L516.01 299.57 L517.71 299.01 L519.41 298.49 L521.1 298 L522.79 297.55 L524.47 297.13 L526.15 296.73 L527.83 296.37 L529.51 296.06 L531.2 295.8 L532.89 295.6 L534.59 295.44 L536.29 295.34 L538 295.27 L539.7 295.22 L541.4 295.2 L543.1 295.2 L544.8 295.24 L546.5 295.3 L548.2 295.39 L549.9 295.49 L551.6 295.6 L553.3 295.73 L555 295.89 L556.7 296.06 L558.4 296.24 L560.1 296.43 L561.8 296.6 L563.5 296.77 L565.2 296.94 L566.91 297.11 L568.61 297.28 L570.31 297.44 L572 297.6 L573.69 297.75 L575.37 297.9 L577.05 298.04 L578.73 298.17 L580.41 298.29 L582.1 298.4 L583.79 298.49 L585.49 298.56 L587.19 298.62 L588.9 298.68 L590.6 298.74 L592.3 298.8 L594.01 298.86 L595.73 298.92 L597.44 298.98 L599.15 299.04 L600.84 299.11 L602.5 299.2 L604.13 299.31 L605.73 299.43 L607.31 299.56 L608.88 299.7 L610.44 299.84 L612 300 L613.53 300.15 L615.01 300.28 L616.49 300.42 L618 300.59 L619.55 300.81 L621.2 301.1 L622.95 301.47 L624.79 301.91 L626.68 302.41 L628.59 302.93 L630.51 303.47 L632.4 304 L634.27 304.55 L636.13 305.12 L638 305.71 L639.87 306.3 L641.73 306.87 L643.6 307.4 L645.47 307.9 L647.33 308.39 L649.2 308.85 L651.07 309.29 L652.93 309.71 L654.8 310.1 L656.67 310.46 L658.53 310.79 L660.4 311.1 L662.27 311.39 L664.13 311.65 L666 311.9 L667.87 312.13 L669.73 312.34 L671.6 312.54 L673.47 312.71 L675.33 312.87 L677.2 313 L679.07 313.11 L680.93 313.19 L682.8 313.25 L684.67 313.3 L686.53 313.35 L688.4 313.4 L690.27 313.45 L692.13 313.5 L694 313.55 L695.87 313.6 L697.73 313.65 L699.6 313.7 L701.47 313.76 L703.33 313.81 L705.2 313.86 L707.07 313.93 L708.93 314 L710.8 314.1 L712.67 314.22 L714.53 314.35 L716.4 314.49 L718.27 314.65 L720.13 314.82 L722 315 L723.87 315.19 L725.74 315.41 L727.61 315.63 L729.47 315.86 L731.34 316.08 L733.2 316.3 L735.05 316.51 L736.9 316.73 L738.75 316.94 L740.6 317.15 L742.45 317.34 L744.3 317.5 L746.15 317.64 L747.98 317.75 L749.82 317.84 L751.67 317.93 L753.56 318.01 L755.5 318.1 L757.64 318.19 L760 318.29 L762.4 318.39 L764.64 318.47 L766.54 318.55 L767.9 318.6 L767.9 319.29 L469.2 319.29 Z" fill="#eecd9e"/>
<path d="M469.2 313.5 L470.43 313.25 L472.14 312.9 L474.17 312.49 L476.33 312.04 L478.47 311.57 L480.4 311.1 L482.15 310.63 L483.84 310.13 L485.51 309.61 L487.17 309.07 L488.82 308.54 L490.5 308 L492.19 307.46 L493.89 306.92 L495.59 306.37 L497.3 305.81 L499 305.26 L500.7 304.7 L502.4 304.14 L504.1 303.57 L505.8 303 L507.5 302.43 L509.2 301.86 L510.9 301.3 L512.6 300.73 L514.3 300.15 L516.01 299.57 L517.71 299.01 L519.41 298.49 L521.1 298 L522.79 297.55 L524.47 297.13 L526.15 296.73 L527.83 296.37 L529.51 296.06 L531.2 295.8 L532.89 295.6 L534.59 295.44 L536.29 295.34 L538 295.27 L539.7 295.22 L541.4 295.2 L543.1 295.2 L544.8 295.24 L546.5 295.3 L548.2 295.39 L549.9 295.49 L551.6 295.6 L553.3 295.73 L555 295.89 L556.7 296.06 L558.4 296.24 L560.1 296.43 L561.8 296.6 L563.5 296.77 L565.2 296.94 L566.91 297.11 L568.61 297.28 L570.31 297.44 L572 297.6 L573.69 297.75 L575.37 297.9 L577.05 298.04 L578.73 298.17 L580.41 298.29 L582.1 298.4 L583.79 298.49 L585.49 298.56 L587.19 298.62 L588.9 298.68 L590.6 298.74 L592.3 298.8 L594.01 298.86 L595.73 298.92 L597.44 298.98 L599.15 299.04 L600.84 299.11 L602.5 299.2 L604.13 299.31 L605.73 299.43 L607.31 299.56 L608.88 299.7 L610.44 299.84 L612 300 L613.53 300.15 L615.01 300.28 L616.49 300.42 L618 300.59 L619.55 300.81 L621.2 301.1 L622.95 301.47 L624.79 301.91 L626.68 302.41 L628.59 302.93 L630.51 303.47 L632.4 304 L634.27 304.55 L636.13 305.12 L638 305.71 L639.87 306.3 L641.73 306.87 L643.6 307.4 L645.47 307.9 L647.33 308.39 L649.2 308.85 L651.07 309.29 L652.93 309.71 L654.8 310.1 L656.67 310.46 L658.53 310.79 L660.4 311.1 L662.27 311.39 L664.13 311.65 L666 311.9 L667.87 312.13 L669.73 312.34 L671.6 312.54 L673.47 312.71 L675.33 312.87 L677.2 313 L679.07 313.11 L680.93 313.19 L682.8 313.25 L684.67 313.3 L686.53 313.35 L688.4 313.4 L690.27 313.45 L692.13 313.5 L694 313.55 L695.87 313.6 L697.73 313.65 L699.6 313.7 L701.47 313.76 L703.33 313.81 L705.2 313.86 L707.07 313.93 L708.93 314 L710.8 314.1 L712.67 314.22 L714.53 314.35 L716.4 314.49 L718.27 314.65 L720.13 314.82 L722 315 L723.87 315.19 L725.74 315.41 L727.61 315.63 L729.47 315.86 L731.34 316.08 L733.2 316.3 L735.05 316.51 L736.9 316.73 L738.75 316.94 L740.6 317.15 L742.45 317.34 L744.3 317.5 L746.15 317.64 L747.98 317.75 L749.82 317.84 L751.67 317.93 L753.56 318.01 L755.5 318.1 L757.64 318.19 L760 318.29 L762.4 318.39 L764.64 318.47 L766.54 318.55 L767.9 318.6" fill="none" stroke="#000" stroke-width="1.4" stroke-linejoin="round"/>
<rect x="453.8" y="248.69" width="329.4" height="12.4" fill="#fff" stroke="#000" stroke-width="1.3"/>
<text x="618.5" y="255.69" font-size="9.7" text-anchor="middle" fill="#000" dominant-baseline="central">Colony-size1</text>
<line x1="453.8" y1="260.99" x2="453.8" y2="321.59" stroke="#000" stroke-width="1.4"/>
<line x1="451.6" y1="319.29" x2="453.8" y2="319.29" stroke="#333" stroke-width="0.9"/>
<text x="449.8" y="319.99" font-size="9.3" text-anchor="end" fill="#333" dominant-baseline="central">0</text>
<line x1="451.6" y1="303.35" x2="453.8" y2="303.35" stroke="#333" stroke-width="0.9"/>
<text x="449.8" y="304.05" font-size="9.3" text-anchor="end" fill="#333" dominant-baseline="central">2</text>
<line x1="451.6" y1="287.41" x2="453.8" y2="287.41" stroke="#333" stroke-width="0.9"/>
<text x="449.8" y="288.11" font-size="9.3" text-anchor="end" fill="#333" dominant-baseline="central">4</text>
<line x1="451.6" y1="271.47" x2="453.8" y2="271.47" stroke="#333" stroke-width="0.9"/>
<text x="449.8" y="272.17" font-size="9.3" text-anchor="end" fill="#333" dominant-baseline="central">6</text>
<text x="717" y="268.89" font-size="9.7" text-anchor="start" fill="#000" dominant-baseline="central">Sample size: 35</text>
<text x="717" y="281.39" font-size="9.7" text-anchor="start" fill="#000" dominant-baseline="central">Median: 0.21</text>
<path d="M469.2 396.7 L471.53 396.66 L474.76 396.61 L478.57 396.55 L482.68 396.48 L486.76 396.39 L490.5 396.3 L494.02 396.2 L497.6 396.09 L501.14 395.96 L504.59 395.83 L507.87 395.67 L510.9 395.5 L513.6 395.33 L516.01 395.18 L518.26 395.01 L520.44 394.79 L522.68 394.5 L525.1 394.1 L527.7 393.58 L530.38 392.95 L533.12 392.24 L535.89 391.5 L538.66 390.74 L541.4 390 L544.12 389.28 L546.83 388.55 L549.55 387.81 L552.27 387.06 L554.98 386.29 L557.7 385.5 L560.42 384.69 L563.14 383.85 L565.86 382.99 L568.57 382.13 L571.29 381.26 L574 380.4 L576.78 379.51 L579.63 378.6 L582.48 377.67 L585.25 376.78 L587.85 375.95 L590.2 375.2 L592.25 374.54 L594.05 373.93 L595.68 373.38 L597.23 372.89 L598.78 372.46 L600.4 372.1 L602.09 371.81 L603.77 371.59 L605.45 371.44 L607.13 371.34 L608.81 371.3 L610.5 371.3 L612.19 371.36 L613.89 371.48 L615.59 371.66 L617.3 371.87 L619 372.13 L620.7 372.4 L622.4 372.73 L624.1 373.13 L625.8 373.56 L627.5 373.99 L629.2 374.38 L630.9 374.7 L632.6 374.96 L634.3 375.2 L636.01 375.4 L637.71 375.54 L639.41 375.62 L641.1 375.6 L642.79 375.5 L644.47 375.32 L646.15 375.07 L647.83 374.75 L649.51 374.36 L651.2 373.9 L652.89 373.33 L654.59 372.64 L656.29 371.89 L658 371.11 L659.7 370.37 L661.4 369.7 L663.12 369.09 L664.88 368.5 L666.63 367.94 L668.36 367.42 L670.02 366.97 L671.6 366.6 L673.07 366.31 L674.45 366.07 L675.78 365.91 L677.07 365.8 L678.37 365.77 L679.7 365.8 L681.09 365.91 L682.5 366.09 L683.92 366.34 L685.32 366.64 L686.65 367 L687.9 367.4 L689.04 367.84 L690.09 368.33 L691.07 368.88 L692.04 369.47 L693 370.11 L694 370.8 L695.02 371.56 L696.04 372.4 L697.06 373.29 L698.09 374.2 L699.13 375.11 L700.2 376 L701.3 376.87 L702.43 377.75 L703.57 378.62 L704.72 379.5 L705.87 380.36 L707 381.2 L708.12 382.04 L709.24 382.88 L710.35 383.71 L711.46 384.52 L712.58 385.29 L713.7 386 L714.83 386.66 L715.96 387.28 L717.1 387.86 L718.24 388.4 L719.37 388.91 L720.5 389.4 L721.62 389.86 L722.74 390.27 L723.86 390.66 L724.97 391.03 L726.08 391.37 L727.2 391.7 L728.24 392.01 L729.18 392.29 L730.13 392.54 L731.16 392.79 L732.39 393.04 L733.9 393.3 L735.76 393.58 L737.9 393.86 L740.23 394.15 L742.65 394.43 L745.07 394.68 L747.4 394.9 L749.72 395.09 L752.12 395.24 L754.52 395.38 L756.84 395.5 L758.99 395.6 L760.9 395.7 L762.6 395.78 L764.15 395.85 L765.54 395.9 L766.75 395.94 L767.74 395.97 L768.5 396 L768.5 396.82 L469.2 396.82 Z" fill="#eecd9e"/>
<path d="M469.2 396.7 L471.53 396.66 L474.76 396.61 L478.57 396.55 L482.68 396.48 L486.76 396.39 L490.5 396.3 L494.02 396.2 L497.6 396.09 L501.14 395.96 L504.59 395.83 L507.87 395.67 L510.9 395.5 L513.6 395.33 L516.01 395.18 L518.26 395.01 L520.44 394.79 L522.68 394.5 L525.1 394.1 L527.7 393.58 L530.38 392.95 L533.12 392.24 L535.89 391.5 L538.66 390.74 L541.4 390 L544.12 389.28 L546.83 388.55 L549.55 387.81 L552.27 387.06 L554.98 386.29 L557.7 385.5 L560.42 384.69 L563.14 383.85 L565.86 382.99 L568.57 382.13 L571.29 381.26 L574 380.4 L576.78 379.51 L579.63 378.6 L582.48 377.67 L585.25 376.78 L587.85 375.95 L590.2 375.2 L592.25 374.54 L594.05 373.93 L595.68 373.38 L597.23 372.89 L598.78 372.46 L600.4 372.1 L602.09 371.81 L603.77 371.59 L605.45 371.44 L607.13 371.34 L608.81 371.3 L610.5 371.3 L612.19 371.36 L613.89 371.48 L615.59 371.66 L617.3 371.87 L619 372.13 L620.7 372.4 L622.4 372.73 L624.1 373.13 L625.8 373.56 L627.5 373.99 L629.2 374.38 L630.9 374.7 L632.6 374.96 L634.3 375.2 L636.01 375.4 L637.71 375.54 L639.41 375.62 L641.1 375.6 L642.79 375.5 L644.47 375.32 L646.15 375.07 L647.83 374.75 L649.51 374.36 L651.2 373.9 L652.89 373.33 L654.59 372.64 L656.29 371.89 L658 371.11 L659.7 370.37 L661.4 369.7 L663.12 369.09 L664.88 368.5 L666.63 367.94 L668.36 367.42 L670.02 366.97 L671.6 366.6 L673.07 366.31 L674.45 366.07 L675.78 365.91 L677.07 365.8 L678.37 365.77 L679.7 365.8 L681.09 365.91 L682.5 366.09 L683.92 366.34 L685.32 366.64 L686.65 367 L687.9 367.4 L689.04 367.84 L690.09 368.33 L691.07 368.88 L692.04 369.47 L693 370.11 L694 370.8 L695.02 371.56 L696.04 372.4 L697.06 373.29 L698.09 374.2 L699.13 375.11 L700.2 376 L701.3 376.87 L702.43 377.75 L703.57 378.62 L704.72 379.5 L705.87 380.36 L707 381.2 L708.12 382.04 L709.24 382.88 L710.35 383.71 L711.46 384.52 L712.58 385.29 L713.7 386 L714.83 386.66 L715.96 387.28 L717.1 387.86 L718.24 388.4 L719.37 388.91 L720.5 389.4 L721.62 389.86 L722.74 390.27 L723.86 390.66 L724.97 391.03 L726.08 391.37 L727.2 391.7 L728.24 392.01 L729.18 392.29 L730.13 392.54 L731.16 392.79 L732.39 393.04 L733.9 393.3 L735.76 393.58 L737.9 393.86 L740.23 394.15 L742.65 394.43 L745.07 394.68 L747.4 394.9 L749.72 395.09 L752.12 395.24 L754.52 395.38 L756.84 395.5 L758.99 395.6 L760.9 395.7 L762.6 395.78 L764.15 395.85 L765.54 395.9 L766.75 395.94 L767.74 395.97 L768.5 396" fill="none" stroke="#000" stroke-width="1.4" stroke-linejoin="round"/>
<rect x="453.8" y="326.22" width="329.4" height="12.4" fill="#fff" stroke="#000" stroke-width="1.3"/>
<text x="618.5" y="333.22" font-size="9.7" text-anchor="middle" fill="#000" dominant-baseline="central">Colony-size2</text>
<line x1="453.8" y1="338.52" x2="453.8" y2="399.12" stroke="#000" stroke-width="1.4"/>
<line x1="451.6" y1="396.82" x2="453.8" y2="396.82" stroke="#333" stroke-width="0.9"/>
<text x="449.8" y="397.52" font-size="9.3" text-anchor="end" fill="#333" dominant-baseline="central">0</text>
<line x1="451.6" y1="380.88" x2="453.8" y2="380.88" stroke="#333" stroke-width="0.9"/>
<text x="449.8" y="381.58" font-size="9.3" text-anchor="end" fill="#333" dominant-baseline="central">2</text>
<line x1="451.6" y1="364.94" x2="453.8" y2="364.94" stroke="#333" stroke-width="0.9"/>
<text x="449.8" y="365.64" font-size="9.3" text-anchor="end" fill="#333" dominant-baseline="central">4</text>
<line x1="451.6" y1="349" x2="453.8" y2="349" stroke="#333" stroke-width="0.9"/>
<text x="449.8" y="349.7" font-size="9.3" text-anchor="end" fill="#333" dominant-baseline="central">6</text>
<text x="717" y="346.42" font-size="9.7" text-anchor="start" fill="#000" dominant-baseline="central">Sample size: 47</text>
<text x="717" y="358.92" font-size="9.7" text-anchor="start" fill="#000" dominant-baseline="central">Median: 0.38</text>
<path d="M469.2 465 L470.43 464.42 L472.14 463.61 L474.17 462.66 L476.33 461.64 L478.47 460.63 L480.4 459.7 L482.15 458.83 L483.84 457.96 L485.51 457.09 L487.17 456.24 L488.82 455.44 L490.5 454.7 L492.19 454.01 L493.89 453.35 L495.59 452.74 L497.3 452.17 L499 451.66 L500.7 451.2 L502.4 450.81 L504.1 450.48 L505.8 450.21 L507.5 449.97 L509.2 449.78 L510.9 449.6 L512.6 449.45 L514.3 449.33 L516.01 449.24 L517.71 449.19 L519.41 449.17 L521.1 449.2 L522.79 449.27 L524.47 449.39 L526.15 449.55 L527.83 449.74 L529.51 449.96 L531.2 450.2 L532.89 450.47 L534.59 450.77 L536.29 451.09 L538 451.44 L539.7 451.81 L541.4 452.2 L543.1 452.61 L544.8 453.06 L546.5 453.52 L548.2 454 L549.9 454.46 L551.6 454.9 L553.3 455.33 L555 455.76 L556.7 456.18 L558.4 456.59 L560.1 456.96 L561.8 457.3 L563.5 457.6 L565.2 457.86 L566.91 458.1 L568.61 458.31 L570.31 458.51 L572 458.7 L573.69 458.88 L575.37 459.03 L577.05 459.18 L578.73 459.3 L580.41 459.41 L582.1 459.5 L583.79 459.57 L585.49 459.63 L587.19 459.66 L588.9 459.69 L590.6 459.7 L592.3 459.7 L594.01 459.69 L595.73 459.66 L597.44 459.62 L599.15 459.58 L600.84 459.54 L602.5 459.5 L604.1 459.47 L605.65 459.44 L607.17 459.41 L608.72 459.38 L610.31 459.34 L612 459.3 L613.77 459.24 L615.58 459.18 L617.45 459.11 L619.37 459.03 L621.36 458.96 L623.4 458.9 L625.56 458.83 L627.83 458.75 L630.16 458.67 L632.49 458.61 L634.76 458.58 L636.9 458.6 L638.9 458.66 L640.8 458.76 L642.64 458.88 L644.45 459.04 L646.26 459.25 L648.1 459.5 L649.97 459.8 L651.83 460.15 L653.7 460.54 L655.57 460.97 L657.43 461.42 L659.3 461.9 L661.17 462.41 L663.03 462.97 L664.9 463.56 L666.77 464.15 L668.63 464.74 L670.5 465.3 L672.37 465.84 L674.24 466.38 L676.11 466.91 L677.97 467.42 L679.84 467.92 L681.7 468.4 L683.55 468.86 L685.4 469.31 L687.25 469.74 L689.1 470.16 L690.95 470.54 L692.8 470.9 L694.63 471.23 L696.44 471.53 L698.25 471.8 L700.09 472.05 L702 472.28 L704 472.5 L706.07 472.7 L708.17 472.87 L710.33 473.02 L712.59 473.16 L714.97 473.29 L717.5 473.4 L720.06 473.5 L722.6 473.58 L725.26 473.64 L728.18 473.7 L731.52 473.75 L735.4 473.8 L740.36 473.85 L746.39 473.89 L752.82 473.93 L759 473.96 L764.28 473.98 L768 474 L768 474.35 L469.2 474.35 Z" fill="#eecd9e"/>
<path d="M469.2 465 L470.43 464.42 L472.14 463.61 L474.17 462.66 L476.33 461.64 L478.47 460.63 L480.4 459.7 L482.15 458.83 L483.84 457.96 L485.51 457.09 L487.17 456.24 L488.82 455.44 L490.5 454.7 L492.19 454.01 L493.89 453.35 L495.59 452.74 L497.3 452.17 L499 451.66 L500.7 451.2 L502.4 450.81 L504.1 450.48 L505.8 450.21 L507.5 449.97 L509.2 449.78 L510.9 449.6 L512.6 449.45 L514.3 449.33 L516.01 449.24 L517.71 449.19 L519.41 449.17 L521.1 449.2 L522.79 449.27 L524.47 449.39 L526.15 449.55 L527.83 449.74 L529.51 449.96 L531.2 450.2 L532.89 450.47 L534.59 450.77 L536.29 451.09 L538 451.44 L539.7 451.81 L541.4 452.2 L543.1 452.61 L544.8 453.06 L546.5 453.52 L548.2 454 L549.9 454.46 L551.6 454.9 L553.3 455.33 L555 455.76 L556.7 456.18 L558.4 456.59 L560.1 456.96 L561.8 457.3 L563.5 457.6 L565.2 457.86 L566.91 458.1 L568.61 458.31 L570.31 458.51 L572 458.7 L573.69 458.88 L575.37 459.03 L577.05 459.18 L578.73 459.3 L580.41 459.41 L582.1 459.5 L583.79 459.57 L585.49 459.63 L587.19 459.66 L588.9 459.69 L590.6 459.7 L592.3 459.7 L594.01 459.69 L595.73 459.66 L597.44 459.62 L599.15 459.58 L600.84 459.54 L602.5 459.5 L604.1 459.47 L605.65 459.44 L607.17 459.41 L608.72 459.38 L610.31 459.34 L612 459.3 L613.77 459.24 L615.58 459.18 L617.45 459.11 L619.37 459.03 L621.36 458.96 L623.4 458.9 L625.56 458.83 L627.83 458.75 L630.16 458.67 L632.49 458.61 L634.76 458.58 L636.9 458.6 L638.9 458.66 L640.8 458.76 L642.64 458.88 L644.45 459.04 L646.26 459.25 L648.1 459.5 L649.97 459.8 L651.83 460.15 L653.7 460.54 L655.57 460.97 L657.43 461.42 L659.3 461.9 L661.17 462.41 L663.03 462.97 L664.9 463.56 L666.77 464.15 L668.63 464.74 L670.5 465.3 L672.37 465.84 L674.24 466.38 L676.11 466.91 L677.97 467.42 L679.84 467.92 L681.7 468.4 L683.55 468.86 L685.4 469.31 L687.25 469.74 L689.1 470.16 L690.95 470.54 L692.8 470.9 L694.63 471.23 L696.44 471.53 L698.25 471.8 L700.09 472.05 L702 472.28 L704 472.5 L706.07 472.7 L708.17 472.87 L710.33 473.02 L712.59 473.16 L714.97 473.29 L717.5 473.4 L720.06 473.5 L722.6 473.58 L725.26 473.64 L728.18 473.7 L731.52 473.75 L735.4 473.8 L740.36 473.85 L746.39 473.89 L752.82 473.93 L759 473.96 L764.28 473.98 L768 474" fill="none" stroke="#000" stroke-width="1.4" stroke-linejoin="round"/>
<rect x="453.8" y="403.75" width="329.4" height="12.4" fill="#fff" stroke="#000" stroke-width="1.3"/>
<text x="618.5" y="410.75" font-size="9.7" text-anchor="middle" fill="#000" dominant-baseline="central">Drug resistance</text>
<line x1="453.8" y1="416.05" x2="453.8" y2="476.65" stroke="#000" stroke-width="1.4"/>
<line x1="451.6" y1="474.35" x2="453.8" y2="474.35" stroke="#333" stroke-width="0.9"/>
<text x="449.8" y="475.05" font-size="9.3" text-anchor="end" fill="#333" dominant-baseline="central">0</text>
<line x1="451.6" y1="458.41" x2="453.8" y2="458.41" stroke="#333" stroke-width="0.9"/>
<text x="449.8" y="459.11" font-size="9.3" text-anchor="end" fill="#333" dominant-baseline="central">2</text>
<line x1="451.6" y1="442.47" x2="453.8" y2="442.47" stroke="#333" stroke-width="0.9"/>
<text x="449.8" y="443.17" font-size="9.3" text-anchor="end" fill="#333" dominant-baseline="central">4</text>
<line x1="451.6" y1="426.53" x2="453.8" y2="426.53" stroke="#333" stroke-width="0.9"/>
<text x="449.8" y="427.23" font-size="9.3" text-anchor="end" fill="#333" dominant-baseline="central">6</text>
<text x="717" y="423.95" font-size="9.7" text-anchor="start" fill="#000" dominant-baseline="central">Sample size: 22</text>
<text x="717" y="436.45" font-size="9.7" text-anchor="start" fill="#000" dominant-baseline="central">Median: 0.17</text>
<path d="M469.2 539.1 L470.16 538.67 L471.47 538.07 L473.03 537.36 L474.75 536.61 L476.54 535.87 L478.3 535.2 L480.08 534.61 L481.96 534.03 L483.91 533.48 L485.89 532.92 L487.86 532.37 L489.8 531.8 L491.7 531.24 L493.6 530.7 L495.5 530.15 L497.4 529.58 L499.3 528.97 L501.2 528.3 L503.14 527.54 L505.11 526.7 L507.09 525.81 L509.04 524.93 L510.92 524.08 L512.7 523.3 L514.35 522.59 L515.91 521.9 L517.39 521.25 L518.85 520.64 L520.31 520.09 L521.8 519.6 L523.33 519.16 L524.86 518.76 L526.4 518.41 L527.94 518.13 L529.47 517.92 L531 517.8 L532.49 517.78 L533.95 517.86 L535.41 518.01 L536.89 518.21 L538.45 518.45 L540.1 518.7 L541.88 518.99 L543.76 519.35 L545.71 519.74 L547.69 520.13 L549.66 520.49 L551.6 520.8 L553.53 521.05 L555.49 521.26 L557.44 521.44 L559.37 521.6 L561.23 521.75 L563 521.9 L564.66 522.02 L566.23 522.1 L567.74 522.16 L569.21 522.25 L570.69 522.38 L572.2 522.6 L573.73 522.88 L575.27 523.19 L576.81 523.55 L578.34 523.98 L579.87 524.49 L581.4 525.1 L582.92 525.83 L584.44 526.66 L585.95 527.58 L587.46 528.55 L588.98 529.57 L590.5 530.6 L592.03 531.68 L593.56 532.84 L595.1 534.04 L596.64 535.24 L598.17 536.4 L599.7 537.5 L601.19 538.53 L602.65 539.53 L604.11 540.49 L605.59 541.43 L607.15 542.33 L608.8 543.2 L610.58 544.05 L612.46 544.89 L614.41 545.7 L616.39 546.46 L618.36 547.17 L620.3 547.8 L622.24 548.36 L624.22 548.85 L626.2 549.28 L628.13 549.66 L629.98 550 L631.7 550.3 L633.13 550.55 L634.26 550.74 L635.31 550.88 L636.48 551 L637.98 551.1 L640 551.2 L641.63 551.3 L642.52 551.39 L643.74 551.46 L646.34 551.51 L651.41 551.56 L660 551.6 L674.22 551.62 L693.63 551.63 L715.5 551.62 L737.09 551.61 L755.67 551.6 L768.5 551.6 L768.5 551.88 L469.2 551.88 Z" fill="#eecd9e"/>
<path d="M469.2 539.1 L470.16 538.67 L471.47 538.07 L473.03 537.36 L474.75 536.61 L476.54 535.87 L478.3 535.2 L480.08 534.61 L481.96 534.03 L483.91 533.48 L485.89 532.92 L487.86 532.37 L489.8 531.8 L491.7 531.24 L493.6 530.7 L495.5 530.15 L497.4 529.58 L499.3 528.97 L501.2 528.3 L503.14 527.54 L505.11 526.7 L507.09 525.81 L509.04 524.93 L510.92 524.08 L512.7 523.3 L514.35 522.59 L515.91 521.9 L517.39 521.25 L518.85 520.64 L520.31 520.09 L521.8 519.6 L523.33 519.16 L524.86 518.76 L526.4 518.41 L527.94 518.13 L529.47 517.92 L531 517.8 L532.49 517.78 L533.95 517.86 L535.41 518.01 L536.89 518.21 L538.45 518.45 L540.1 518.7 L541.88 518.99 L543.76 519.35 L545.71 519.74 L547.69 520.13 L549.66 520.49 L551.6 520.8 L553.53 521.05 L555.49 521.26 L557.44 521.44 L559.37 521.6 L561.23 521.75 L563 521.9 L564.66 522.02 L566.23 522.1 L567.74 522.16 L569.21 522.25 L570.69 522.38 L572.2 522.6 L573.73 522.88 L575.27 523.19 L576.81 523.55 L578.34 523.98 L579.87 524.49 L581.4 525.1 L582.92 525.83 L584.44 526.66 L585.95 527.58 L587.46 528.55 L588.98 529.57 L590.5 530.6 L592.03 531.68 L593.56 532.84 L595.1 534.04 L596.64 535.24 L598.17 536.4 L599.7 537.5 L601.19 538.53 L602.65 539.53 L604.11 540.49 L605.59 541.43 L607.15 542.33 L608.8 543.2 L610.58 544.05 L612.46 544.89 L614.41 545.7 L616.39 546.46 L618.36 547.17 L620.3 547.8 L622.24 548.36 L624.22 548.85 L626.2 549.28 L628.13 549.66 L629.98 550 L631.7 550.3 L633.13 550.55 L634.26 550.74 L635.31 550.88 L636.48 551 L637.98 551.1 L640 551.2 L641.63 551.3 L642.52 551.39 L643.74 551.46 L646.34 551.51 L651.41 551.56 L660 551.6 L674.22 551.62 L693.63 551.63 L715.5 551.62 L737.09 551.61 L755.67 551.6 L768.5 551.6" fill="none" stroke="#000" stroke-width="1.4" stroke-linejoin="round"/>
<rect x="453.8" y="481.28" width="329.4" height="12.4" fill="#fff" stroke="#000" stroke-width="1.3"/>
<text x="618.5" y="488.28" font-size="9.7" text-anchor="middle" fill="#000" dominant-baseline="central">Nitrogen sources growth</text>
<line x1="453.8" y1="493.58" x2="453.8" y2="554.18" stroke="#000" stroke-width="1.4"/>
<line x1="451.6" y1="551.88" x2="453.8" y2="551.88" stroke="#333" stroke-width="0.9"/>
<text x="449.8" y="552.58" font-size="9.3" text-anchor="end" fill="#333" dominant-baseline="central">0</text>
<line x1="451.6" y1="535.94" x2="453.8" y2="535.94" stroke="#333" stroke-width="0.9"/>
<text x="449.8" y="536.64" font-size="9.3" text-anchor="end" fill="#333" dominant-baseline="central">2</text>
<line x1="451.6" y1="520" x2="453.8" y2="520" stroke="#333" stroke-width="0.9"/>
<text x="449.8" y="520.7" font-size="9.3" text-anchor="end" fill="#333" dominant-baseline="central">4</text>
<line x1="451.6" y1="504.06" x2="453.8" y2="504.06" stroke="#333" stroke-width="0.9"/>
<text x="449.8" y="504.76" font-size="9.3" text-anchor="end" fill="#333" dominant-baseline="central">6</text>
<text x="717" y="501.48" font-size="9.7" text-anchor="start" fill="#000" dominant-baseline="central">Sample size: 29</text>
<text x="717" y="513.98" font-size="9.7" text-anchor="start" fill="#000" dominant-baseline="central">Median: 0.14</text>
<path d="M469 628.6 L471.58 628.45 L475.1 628.25 L479.29 628.01 L483.88 627.72 L488.61 627.38 L493.2 627 L497.71 626.56 L502.36 626.07 L507.14 625.54 L512.04 624.96 L517.07 624.34 L522.2 623.7 L527.54 622.99 L533.11 622.21 L538.8 621.4 L544.49 620.59 L550.06 619.81 L555.4 619.1 L560.52 618.45 L565.53 617.83 L570.42 617.24 L575.19 616.7 L579.85 616.21 L584.4 615.8 L588.74 615.46 L592.85 615.19 L596.85 614.97 L600.85 614.81 L604.96 614.69 L609.3 614.6 L613.89 614.57 L618.66 614.61 L623.54 614.69 L628.47 614.79 L633.41 614.87 L638.3 614.9 L643 614.9 L647.53 614.88 L652.07 614.84 L656.78 614.79 L661.83 614.71 L667.4 614.6 L673.79 614.43 L680.93 614.21 L688.42 613.96 L695.84 613.71 L702.81 613.52 L708.9 613.4 L714.05 613.36 L718.55 613.37 L722.59 613.42 L726.35 613.52 L729.99 613.65 L733.7 613.8 L737.48 613.99 L741.18 614.23 L744.78 614.5 L748.22 614.79 L751.47 615.1 L754.5 615.4 L757.39 615.73 L760.19 616.11 L762.8 616.5 L765.12 616.87 L767.06 617.18 L768.5 617.4 L768.5 629.41 L469 629.41 Z" fill="#eecd9e"/>
<path d="M469 628.6 L471.58 628.45 L475.1 628.25 L479.29 628.01 L483.88 627.72 L488.61 627.38 L493.2 627 L497.71 626.56 L502.36 626.07 L507.14 625.54 L512.04 624.96 L517.07 624.34 L522.2 623.7 L527.54 622.99 L533.11 622.21 L538.8 621.4 L544.49 620.59 L550.06 619.81 L555.4 619.1 L560.52 618.45 L565.53 617.83 L570.42 617.24 L575.19 616.7 L579.85 616.21 L584.4 615.8 L588.74 615.46 L592.85 615.19 L596.85 614.97 L600.85 614.81 L604.96 614.69 L609.3 614.6 L613.89 614.57 L618.66 614.61 L623.54 614.69 L628.47 614.79 L633.41 614.87 L638.3 614.9 L643 614.9 L647.53 614.88 L652.07 614.84 L656.78 614.79 L661.83 614.71 L667.4 614.6 L673.79 614.43 L680.93 614.21 L688.42 613.96 L695.84 613.71 L702.81 613.52 L708.9 613.4 L714.05 613.36 L718.55 613.37 L722.59 613.42 L726.35 613.52 L729.99 613.65 L733.7 613.8 L737.48 613.99 L741.18 614.23 L744.78 614.5 L748.22 614.79 L751.47 615.1 L754.5 615.4 L757.39 615.73 L760.19 616.11 L762.8 616.5 L765.12 616.87 L767.06 617.18 L768.5 617.4" fill="none" stroke="#000" stroke-width="1.4" stroke-linejoin="round"/>
<rect x="453.8" y="558.81" width="329.4" height="12.4" fill="#fff" stroke="#000" stroke-width="1.3"/>
<text x="618.5" y="565.81" font-size="9.7" text-anchor="middle" fill="#000" dominant-baseline="central">Sporulation</text>
<line x1="453.8" y1="571.11" x2="453.8" y2="631.71" stroke="#000" stroke-width="1.4"/>
<line x1="451.6" y1="629.41" x2="453.8" y2="629.41" stroke="#333" stroke-width="0.9"/>
<text x="449.8" y="630.11" font-size="9.3" text-anchor="end" fill="#333" dominant-baseline="central">0</text>
<line x1="451.6" y1="613.47" x2="453.8" y2="613.47" stroke="#333" stroke-width="0.9"/>
<text x="449.8" y="614.17" font-size="9.3" text-anchor="end" fill="#333" dominant-baseline="central">2</text>
<line x1="451.6" y1="597.53" x2="453.8" y2="597.53" stroke="#333" stroke-width="0.9"/>
<text x="449.8" y="598.23" font-size="9.3" text-anchor="end" fill="#333" dominant-baseline="central">4</text>
<line x1="451.6" y1="581.59" x2="453.8" y2="581.59" stroke="#333" stroke-width="0.9"/>
<text x="449.8" y="582.29" font-size="9.3" text-anchor="end" fill="#333" dominant-baseline="central">6</text>
<text x="717" y="579.01" font-size="9.7" text-anchor="start" fill="#000" dominant-baseline="central">Sample size: 5</text>
<text x="717" y="591.51" font-size="9.7" text-anchor="start" fill="#000" dominant-baseline="central">Median: 0.45</text>
<line x1="453.1" y1="631.7" x2="783.2" y2="631.7" stroke="#000" stroke-width="1.4"/>
<line x1="468.6" y1="631.8" x2="468.6" y2="634" stroke="#333" stroke-width="0.9"/>
<text x="468.6" y="639.9" font-size="9.3" text-anchor="middle" fill="#333" dominant-baseline="central">0.0</text>
<line x1="563.3" y1="631.8" x2="563.3" y2="634" stroke="#333" stroke-width="0.9"/>
<text x="563.3" y="639.9" font-size="9.3" text-anchor="middle" fill="#333" dominant-baseline="central">0.2</text>
<line x1="658" y1="631.8" x2="658" y2="634" stroke="#333" stroke-width="0.9"/>
<text x="658" y="639.9" font-size="9.3" text-anchor="middle" fill="#333" dominant-baseline="central">0.4</text>
<line x1="752.7" y1="631.8" x2="752.7" y2="634" stroke="#333" stroke-width="0.9"/>
<text x="752.7" y="639.9" font-size="9.3" text-anchor="middle" fill="#333" dominant-baseline="central">0.6</text>
<text x="618.2" y="650.1" font-size="9.65" text-anchor="middle" fill="#000" dominant-baseline="central">r2 scores</text>
<text x="436.7" y="334.4" font-size="9.4" text-anchor="middle" fill="#000" transform="rotate(-90 436.7 334.4)" dominant-baseline="central">Density</text>
<text x="430" y="684.3" font-size="9.4" text-anchor="start" fill="#000" font-weight="bold" dominant-baseline="central">E</text>
<text x="453.2" y="685.6" font-size="9.6" text-anchor="start" fill="#000" dominant-baseline="central">BayesGBM</text>
<line x1="513.4" y1="714.1" x2="513.4" y2="744.02" stroke="#333" stroke-width="1"/>
<line x1="513.4" y1="793.41" x2="513.4" y2="866.23" stroke="#333" stroke-width="1"/>
<rect x="474.4" y="744.02" width="78" height="49.39" fill="#a8ac92" stroke="#333333" stroke-width="1.6"/>
<line x1="474.4" y1="764.66" x2="552.4" y2="764.66" stroke="#333" stroke-width="3.1"/>
<line x1="616.6" y1="706.22" x2="616.6" y2="738.45" stroke="#333" stroke-width="1"/>
<line x1="616.6" y1="797.59" x2="616.6" y2="869.48" stroke="#333" stroke-width="1"/>
<rect x="577.6" y="738.45" width="78" height="59.13" fill="#a8ac92" stroke="#333333" stroke-width="1.6"/>
<line x1="577.6" y1="762.34" x2="655.6" y2="762.34" stroke="#333" stroke-width="3.1"/>
<line x1="720" y1="788.31" x2="720" y2="823.79" stroke="#333" stroke-width="1"/>
<line x1="720" y1="862.75" x2="720" y2="914.93" stroke="#333" stroke-width="1"/>
<rect x="681" y="823.79" width="78" height="38.96" fill="#a8ac92" stroke="#333333" stroke-width="1.6"/>
<line x1="681" y1="842.11" x2="759" y2="842.11" stroke="#333" stroke-width="3.1"/>
<path d="M518.1 728.2h0M510.1 803.8h0M517.9 777.8h0M518.7 744.5h0M506.2 784.2h0M518.4 780.1h0M522.1 724.7h0M514.7 803.2h0M516.2 795.4h0M509.9 726.9h0M507 790.5h0M518.2 784.1h0M519.7 727.4h0M507.6 785.2h0M505.8 714.6h0M510.5 735h0M515.9 731.8h0M510.8 798.9h0M522.5 800.8h0M519.1 743.7h0M521.6 734.3h0M515.4 799.1h0M518.4 803.3h0M522.2 794.9h0M504.3 818.6h0M514.9 773.7h0M507.3 764.4h0M519.2 754.1h0M508.2 850.6h0M518.1 806.4h0M510.1 823.8h0M516.4 791.1h0M516.9 807.8h0M521.4 722h0M520.7 779.2h0M512.2 818.3h0M517.1 750.9h0M507.2 718.3h0M505.5 738.4h0M517.6 752.4h0M521.4 778.7h0M518.2 775.8h0M513.7 787.4h0M515.9 736.9h0M517.9 737.3h0M514.8 765.9h0M510.7 729.9h0M520.3 752.1h0M510.8 749.3h0M521.3 791.3h0M519.3 795.3h0M519.1 798.4h0M519.9 724.4h0M522.9 737.7h0M523 725.7h0M513.4 734.8h0M511 737.1h0M518 772h0M522.6 742h0M515.9 812.1h0M504.1 751.8h0M504.4 856.1h0M512.7 719.2h0M519 727.6h0M521 812.5h0M511 741.7h0M513.7 734.7h0M513.7 856.4h0M505.5 759.2h0M503.6 773.8h0M513.9 754.9h0M513.5 726.9h0M520.5 746.3h0M507.2 802.1h0M520.3 760.1h0M508.9 759.6h0M514.2 865.9h0M517.5 819.9h0M506.4 780.8h0M522.1 809.5h0M522.4 796.3h0M522.6 750.1h0M503.6 719.6h0M516.2 769.5h0M516.8 752.6h0M520.8 742.6h0M507.5 750.4h0M506 751.7h0M519.5 868.3h0M508.7 728.8h0M504.9 813.3h0M505.4 809h0M516.2 763.8h0M514.1 757.5h0M518.3 743.3h0M519.4 788.5h0M503.7 721.2h0M521.9 754.1h0M520.8 732.1h0M521.9 767.3h0M518.7 843.7h0M511.1 865.7h0M508.5 753.1h0M521.5 773.2h0M511.8 771.5h0M513.2 784.7h0M517.3 809.5h0M517.1 767.7h0M517.2 792.9h0M515.8 726.3h0M513.6 809.4h0M518.6 719h0M511.4 730.1h0M508.7 778h0M521.4 741.1h0M520.2 758h0M517.7 768.6h0M506.9 736.2h0M504.5 733.8h0M521.7 804.3h0M522.1 725h0M508.9 860.7h0M515.9 867.3h0M504 766.5h0M511.3 787.5h0M517.4 773.6h0M510.7 767.1h0M519.4 768.3h0M521.5 724.8h0M506.3 723.8h0M517.1 782.3h0M511 789.1h0M507 751.9h0M510.4 805h0M513 776.1h0M521.2 746.7h0M518.6 867.2h0M503.7 741.3h0M504.7 745.4h0M523.1 777.6h0M514.5 793.9h0M515.6 761.4h0M510.5 788.2h0M519.9 735h0M514.5 757.2h0M515.2 786.9h0M508.5 736.7h0M518.8 755.8h0M507.8 819.9h0M506.3 774.5h0M515.3 765.8h0M519.9 721.2h0M509.3 785.3h0M509.5 770.6h0M506.5 717.7h0M515.4 773.2h0M518.7 734.3h0M506.1 832.5h0M514.1 776.9h0M514.2 808.2h0M505.7 727.2h0M514 760.3h0M508.9 800.5h0M507.5 834.6h0M522.9 773.8h0M505.4 832.8h0M510.3 766.4h0M515.7 745.8h0M511.5 786.5h0M504 811.9h0M520.6 780.6h0M508.3 812.2h0M511.7 732.1h0M521.4 832.9h0M522.6 912.6h0" stroke="#000" stroke-width="3.8" stroke-linecap="round" fill="none"/>
<path d="M618.6 716.9h0M616.8 774.9h0M614.9 739h0M620.7 725h0M622.7 809.3h0M619.5 710.9h0M613.5 834.3h0M625.2 747.3h0M608.8 800h0M622.6 805.3h0M615.1 822.5h0M614.6 713.9h0M623.3 824.5h0M619.6 717.2h0M625.9 816.2h0M624 786.4h0M609.1 806.1h0M616.7 708.1h0M621.8 837.9h0M608.4 723.3h0M617.4 790.5h0M626.3 712.8h0M611.5 738.4h0M609.1 795.6h0M612.5 761.4h0M613.5 817.2h0M612.4 775.4h0M615.3 865.7h0M623.1 745h0M616.9 753.4h0M618.3 794.5h0M608.9 868.7h0M608.1 714.3h0M625.4 825.3h0M613.6 786.6h0M625.4 865.9h0M613.4 778.8h0M619.3 776.2h0M619.8 759.1h0M608.6 787.2h0M608.2 797.6h0M615.5 733.6h0M609.3 793.5h0M612.6 786h0M610.6 763.6h0M612.9 794.2h0M615.7 740.7h0M612.9 841.7h0M613.4 787.3h0M616.3 773.5h0M620.2 796.5h0M607.6 726.2h0M626.4 782.9h0M615.2 773.5h0M624.9 766.7h0M606.9 727.5h0M607.9 804.5h0M608.7 727.7h0M624.7 713.2h0M614.9 795.3h0M623.4 815.4h0M620.4 733.2h0M608.5 788.7h0M613.9 802.6h0M613.3 844.3h0M615.7 751.5h0M621.6 714.5h0M608.4 720.6h0M625 753.9h0M616.1 771h0M614 709.9h0M620.5 747h0M612.2 712.4h0M620.8 744.4h0M615 743.5h0M616.2 743.1h0M610.5 825.1h0M610.8 797.2h0M623.7 849.5h0M618.1 715h0M615.1 707.1h0M622 752.3h0M624.7 818.4h0M609.9 825.4h0M626.4 769.9h0M607.1 777.7h0M618.8 809.6h0M612 839.5h0M611.7 748.3h0M616.5 732.7h0M618.6 850.7h0M615.4 789.2h0M620.8 790.5h0M625.4 758.3h0M610.1 752.4h0M611.5 775h0M618.7 722.6h0M614.8 777.7h0M613 790.1h0M616.7 736.2h0M620.5 725.9h0M624.6 721.1h0M625.2 815.4h0M622.9 809.3h0M613.6 767.6h0M624.1 711.1h0M620.7 750.8h0M610.2 750.6h0M625.5 786.8h0M611.6 707.7h0M620.2 812.5h0M620.4 756.7h0M624.6 745.6h0M619.9 730.3h0M626.1 729.8h0M608 778.3h0M607.5 794.6h0M610.6 709.3h0M618.1 757.3h0M615.1 793.1h0M608.4 822.3h0M610.8 731.2h0M618.2 725h0M614.7 755.7h0M621.8 778.7h0M616 747.1h0M624 709.3h0M621.7 754.9h0M616.5 733.4h0M613.8 720.5h0M611 737.5h0M612.5 764.2h0M613.8 813.4h0M613.9 743.6h0M610.3 727.3h0M616.1 711.6h0M609 819.2h0M623.8 829h0M617.6 749.3h0M608.7 727.9h0M613.2 845h0M611.8 751.4h0M609.9 795.3h0M616.2 706.3h0M610.4 781.9h0M609.8 842.6h0M620.6 734h0M615.2 790.4h0M620 773.7h0M616 824h0M616.7 786.2h0M612.9 823.4h0M615.2 796.6h0M616.2 754.8h0M613.5 790.7h0M623 746.3h0M611.6 718.4h0M611.1 755h0M613.5 865.1h0M622.2 712h0M623.4 809.1h0M617.9 784h0M613.9 759.8h0M619.5 751h0M623 784.6h0M611.6 770.7h0M619.9 750.2h0M620.7 768.4h0M614.4 792.9h0M609.6 774.9h0M618.7 778.6h0M610.9 791.7h0M614 889.4h0M617.5 910.3h0M625.7 911.5h0" stroke="#000" stroke-width="3.8" stroke-linecap="round" fill="none"/>
<path d="M725.3 879.4h0M715.4 897.3h0M721.1 839.3h0M726.6 796.3h0M722.2 905.5h0M725 831.7h0M729.3 910.9h0M716.1 838.4h0M727.4 883.9h0M721 830.5h0M714.1 853.6h0M712.8 830.8h0M716.6 862.1h0M712.9 897h0M725.3 873.7h0M721.1 860.8h0M711.1 876.4h0M727.4 871h0M721.9 838.9h0M718.9 847.3h0M713 812.5h0M719.4 842.3h0M728.2 839.2h0M721.7 826.7h0M719.2 808.3h0M722.1 835.9h0M721 908.3h0M722.4 845.5h0M714.1 909.6h0M713.1 834.4h0M710.4 899.9h0M726.5 839.2h0M710.3 878.8h0M715.2 808h0M721.7 891.2h0M720 830.4h0M727.9 827.2h0M714.4 860.7h0M712.4 835.3h0M713.3 856.2h0M720 862h0M715.9 862h0M719.1 913.6h0M723.7 829.4h0M716.5 897.9h0M723.2 871.3h0M710.6 893.4h0M720.9 815.6h0M728 840h0M728.5 844.8h0M721.4 836h0M729.5 815h0M714.8 833h0M716 841.1h0M719 857.5h0M720.2 840.9h0M726.3 790.3h0M719 837h0M711.1 844h0M723.9 803.2h0M714.6 903h0M727.5 900.4h0M714.4 817.9h0M716 796.5h0M712.9 904.1h0M716.1 911.7h0M722 915h0M715.4 836.5h0M711.1 880.8h0M721.7 837.6h0M724.6 830.1h0M712.3 913.6h0M718.5 805.8h0M711.5 862.5h0M710.5 838.2h0M717.5 854.2h0M715.8 855.1h0M727.4 850.1h0M710.5 916.4h0M722.9 848h0M724.6 861.5h0M718.4 853.9h0M720 876.7h0M715 855.7h0M715.1 827.5h0M711.2 790.8h0M728 871.2h0M710.8 806.3h0M712.9 833.7h0M724.4 889.3h0M719.2 913.8h0M720.2 803.8h0M716 865.3h0M713.4 887.7h0M725.9 830.7h0M712.6 827h0M716 802.4h0M724.9 842.1h0M716 857.6h0M728.8 857.1h0M713.6 870h0M720.5 832.2h0M720.7 796.4h0M720 894.1h0M725.4 851.5h0M711.1 854.3h0M720.9 895.4h0M725.7 835.2h0M711.2 790.9h0M720.9 860.5h0M718.8 825.5h0M718.1 801.7h0M720.7 861h0M722.4 799.4h0M724 823.9h0M727.8 831.4h0M723.1 871.7h0M729.8 860.5h0M723.2 889.1h0M715.5 802.3h0M713.1 814.9h0M711.6 893.5h0M715.5 839.8h0M712.5 868.7h0M723.6 821.4h0M723.7 836.8h0M722.2 796h0M717.7 825.5h0M719.3 889.3h0M715.3 852.6h0M728.2 836.5h0M710.5 800.3h0M716.5 852.8h0M721.4 872.7h0M713.7 860h0M726.9 863h0M719.6 878.1h0M717.5 855h0M711.4 862.9h0M715.7 841.3h0M721.8 802.5h0M715.7 794.9h0M711.1 877.3h0M721.6 837h0M716.2 829.4h0M726.8 878.4h0M723.8 839.8h0M724.3 870.8h0M727.6 853.3h0M726.1 856.6h0M716.7 814h0M721.4 865.3h0M715.3 839.2h0M714.2 835.8h0M714.2 856.2h0M712.4 798.1h0M714.9 856h0M714.6 856.5h0M723.4 828h0M715.1 843.1h0M711.1 825.6h0M718.5 878.3h0M714.1 879.1h0M723.7 824.8h0M714.5 851.3h0M721.1 807.7h0M713.7 865.4h0M719.6 864.3h0M727.2 806.8h0M716.1 853.5h0M720.5 886.6h0M718.8 867.5h0M711.6 924.2h0M710.6 928.8h0M726.7 933.5h0" stroke="#000" stroke-width="3.8" stroke-linecap="round" fill="none"/>
<line x1="451.7" y1="691.8" x2="451.7" y2="947.7" stroke="#000" stroke-width="1.5"/>
<line x1="450.95" y1="947" x2="781.7" y2="947" stroke="#000" stroke-width="1.5"/>
<line x1="449.4" y1="935.8" x2="451.6" y2="935.8" stroke="#333" stroke-width="0.9"/>
<text x="448.8" y="936.5" font-size="9.3" text-anchor="end" fill="#333" dominant-baseline="central">0.00</text>
<line x1="449.4" y1="877.82" x2="451.6" y2="877.82" stroke="#333" stroke-width="0.9"/>
<text x="448.8" y="878.52" font-size="9.3" text-anchor="end" fill="#333" dominant-baseline="central">0.25</text>
<line x1="449.4" y1="819.85" x2="451.6" y2="819.85" stroke="#333" stroke-width="0.9"/>
<text x="448.8" y="820.55" font-size="9.3" text-anchor="end" fill="#333" dominant-baseline="central">0.5</text>
<line x1="449.4" y1="761.88" x2="451.6" y2="761.88" stroke="#333" stroke-width="0.9"/>
<text x="448.8" y="762.58" font-size="9.3" text-anchor="end" fill="#333" dominant-baseline="central">0.75</text>
<line x1="449.4" y1="703.9" x2="451.6" y2="703.9" stroke="#333" stroke-width="0.9"/>
<text x="448.8" y="704.6" font-size="9.3" text-anchor="end" fill="#333" dominant-baseline="central">1.00</text>
<line x1="513.4" y1="946.8" x2="513.4" y2="949" stroke="#333" stroke-width="0.9"/>
<text x="513.4" y="956.4" font-size="9.5" text-anchor="middle" fill="#000" dominant-baseline="central">AllPhen</text>
<line x1="616.6" y1="946.8" x2="616.6" y2="949" stroke="#333" stroke-width="0.9"/>
<text x="616.6" y="956.4" font-size="9.5" text-anchor="middle" fill="#000" dominant-baseline="central">CorrPhen</text>
<line x1="720" y1="946.8" x2="720" y2="949" stroke="#333" stroke-width="0.9"/>
<text x="720" y="956.4" font-size="9.5" text-anchor="middle" fill="#000" dominant-baseline="central">UncorrPhen</text>
<text x="427.3" y="819.8" font-size="9.45" text-anchor="middle" fill="#000" transform="rotate(-90 427.3 819.8)" dominant-baseline="central">r2 scores</text>
<path d="M514.6 688.5 V684.5 H722.2 V688.5" fill="none" stroke="#000" stroke-width="1.1"/>
<text x="618.7" y="679.3" font-size="9.6" text-anchor="middle" fill="#000" dominant-baseline="central">1.2e-32</text>
<path d="M512.7 704.5 V700.5 H617.9 V704.5" fill="none" stroke="#000" stroke-width="1.1"/>
<text x="562" y="695.2" font-size="9.6" text-anchor="middle" fill="#000" dominant-baseline="central">0.005</text>
<path d="M629.4 704.5 V700.5 H722.2 V704.5" fill="none" stroke="#000" stroke-width="1.1"/>
<text x="673" y="695.2" font-size="9.6" text-anchor="middle" fill="#000" dominant-baseline="central">2.9e-32</text></svg></body></html>
